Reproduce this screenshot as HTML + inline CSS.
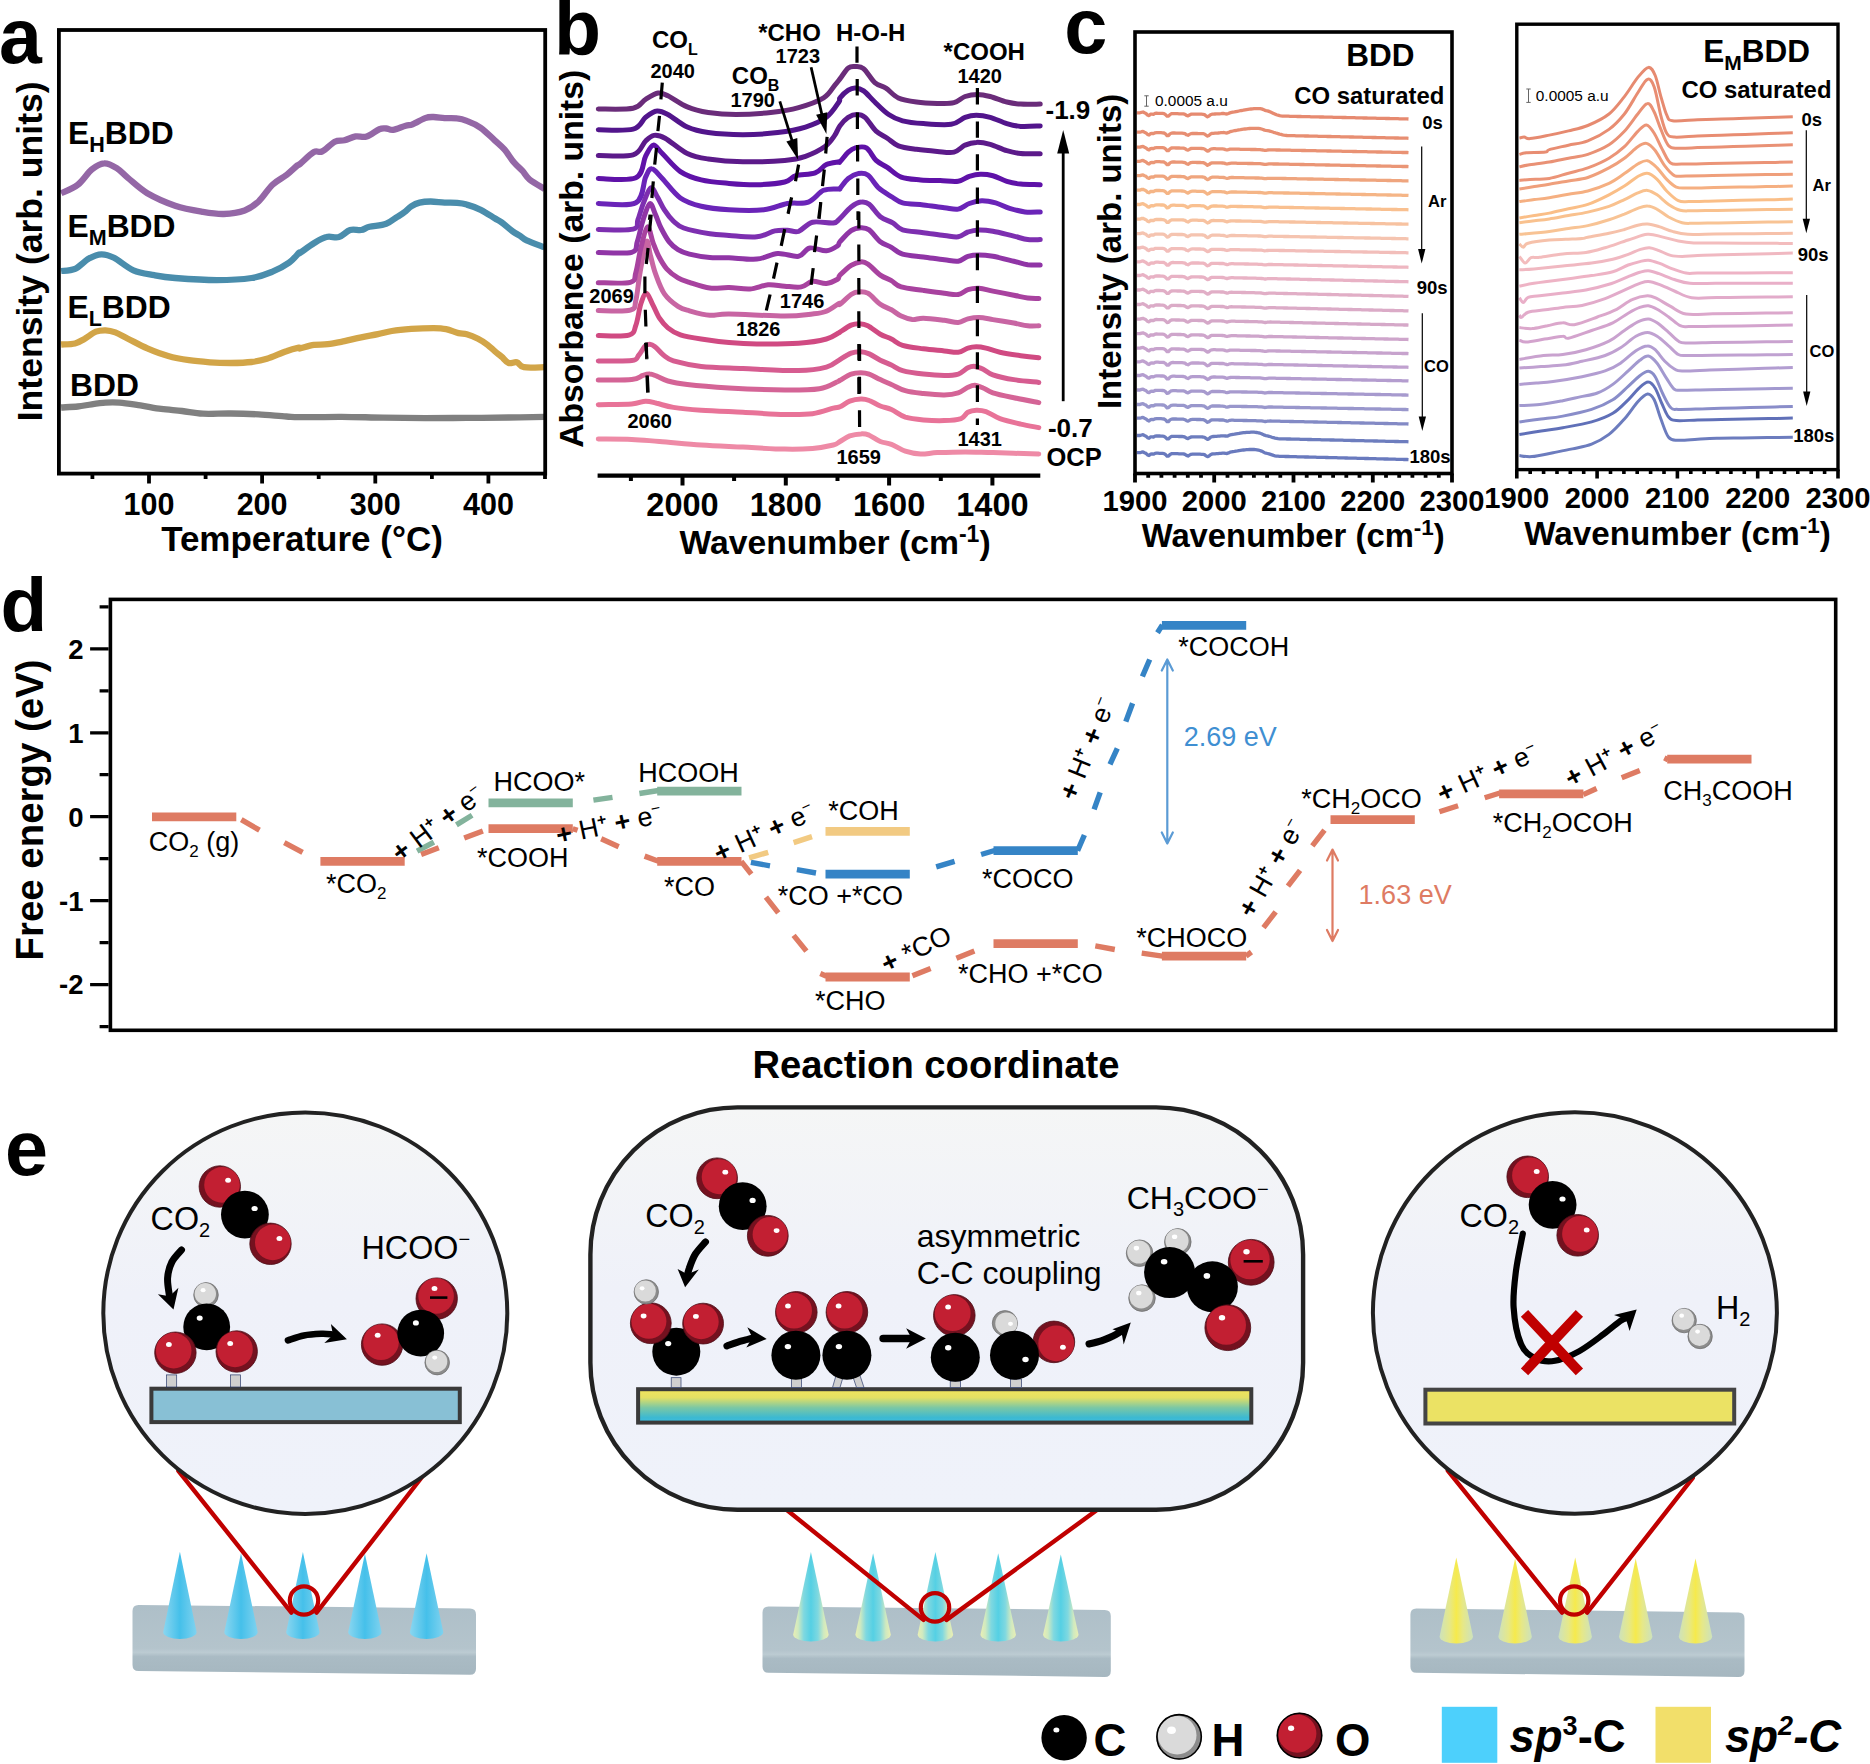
<!DOCTYPE html>
<html><head><meta charset="utf-8"><title>Figure</title>
<style>
html,body{margin:0;padding:0;background:#fff}
svg{display:block}
text{font-family:"Liberation Sans",sans-serif;fill:#000}
.b{font-weight:bold}
</style></head><body>
<svg width="1870" height="1764" viewBox="0 0 1870 1764">
<rect width="1870" height="1764" fill="#fff"/>
<g id="pa">
<path d="M61.1 193.2C63.9 191.8 72.7 188.8 77.8 184.8C82.9 180.9 87.3 173.1 91.7 169.5C96.1 165.9 100.1 163.5 104.2 163.3C108.4 163.0 112.8 165.7 116.7 168.1C120.7 170.6 122.8 173.7 127.9 177.9C133.0 182.0 139.4 188.5 147.3 193.2C155.2 197.8 165.9 202.5 175.1 205.7C184.4 208.8 194.8 210.5 202.9 211.9C211.1 213.3 216.8 214.2 223.8 214.0C230.7 213.8 238.9 212.6 244.7 210.5C250.4 208.4 253.9 205.8 258.6 201.5C263.2 197.2 267.8 189.2 272.5 184.8C277.1 180.4 282.2 178.3 286.4 175.1C290.5 171.8 295.2 167.2 297.5 165.3C299.8 163.5 297.3 166.2 300.0 164.0C302.7 161.8 310.2 154.2 313.9 152.1C317.6 150.1 318.8 153.2 322.2 151.4C325.7 149.7 331.1 143.6 334.8 141.7C338.5 139.9 341.0 141.2 344.5 140.3C348.0 139.4 351.9 137.1 355.6 136.4C359.3 135.8 362.8 137.6 366.7 136.4C370.7 135.2 376.0 130.5 379.3 129.2C382.5 127.9 383.9 128.4 386.2 128.5C388.5 128.6 389.9 130.4 393.2 129.9C396.4 129.4 402.4 126.6 405.7 125.7C408.9 124.8 409.4 125.6 412.6 124.3C415.9 123.1 421.7 119.3 425.1 118.1C428.6 116.8 430.2 117.0 433.5 117.0C436.7 117.0 440.7 117.8 444.6 118.1C448.5 118.3 453.4 117.9 457.1 118.4C460.8 118.8 462.9 119.3 466.8 120.9C470.8 122.4 476.1 124.6 480.7 127.8C485.4 131.1 490.7 136.7 494.7 140.3C498.6 143.9 501.1 145.7 504.4 149.4C507.6 153.1 511.1 159.0 514.1 162.6C517.1 166.2 519.9 168.1 522.5 170.9C525.0 173.7 525.7 176.2 529.4 179.3C533.1 182.3 542.2 187.4 544.7 189.0" fill="none" stroke="#9467a6" stroke-width="6.3" stroke-linejoin="round"/>
<path d="M61.1 271.0C63.4 270.7 70.4 271.0 75.0 268.9C79.7 266.8 84.5 260.9 88.9 258.5C93.3 256.1 97.3 254.4 101.4 254.3C105.6 254.2 108.6 255.1 114.0 257.8C119.3 260.5 126.7 267.4 133.4 270.3C140.1 273.2 147.3 273.9 154.3 275.2C161.2 276.5 164.7 277.2 175.1 278.0C185.6 278.8 204.1 280.1 216.8 280.1C229.6 280.1 242.3 279.4 251.6 278.0C260.9 276.6 266.2 274.3 272.5 271.7C278.7 269.2 284.7 265.8 289.1 262.7C293.5 259.5 297.1 254.6 298.9 252.9C300.7 251.3 297.5 254.6 300.0 252.9C302.5 251.3 309.5 245.9 313.9 243.2C318.3 240.5 322.2 238.0 326.4 237.0C330.6 235.9 335.0 238.1 338.9 237.0C342.9 235.8 346.3 231.2 350.1 230.0C353.8 228.8 357.9 230.5 361.2 230.0C364.4 229.5 365.3 227.8 369.5 226.8C373.7 225.8 381.6 225.4 386.2 223.7C390.8 222.1 394.3 218.7 397.3 216.8C400.3 214.9 402.0 214.1 404.3 212.3C406.6 210.6 408.7 208.0 411.2 206.4C413.8 204.7 416.3 203.4 419.6 202.6C422.8 201.8 426.5 201.5 430.7 201.5C434.9 201.5 440.2 202.4 444.6 202.6C449.0 202.8 453.4 202.6 457.1 202.9C460.8 203.2 462.9 203.4 466.8 204.6C470.8 205.7 476.1 207.6 480.7 209.8C485.4 212.1 491.2 216.1 494.7 218.2C498.1 220.3 498.6 220.2 501.6 222.4C504.6 224.6 509.7 229.2 512.7 231.4C515.7 233.6 517.4 234.1 519.7 235.6C522.0 237.1 522.5 238.5 526.6 240.4C530.8 242.4 541.7 246.2 544.7 247.4" fill="none" stroke="#4a8dac" stroke-width="6.3" stroke-linejoin="round"/>
<path d="M61.1 344.5C63.4 344.3 71.1 344.5 75.0 343.5C79.0 342.6 81.3 340.6 84.8 338.7C88.2 336.7 92.4 333.1 95.9 331.7C99.4 330.3 102.4 330.2 105.6 330.3C108.9 330.4 111.6 331.0 115.3 332.4C119.1 333.8 122.5 336.0 127.9 338.7C133.2 341.3 140.6 345.5 147.3 348.4C154.0 351.3 161.2 354.1 168.2 356.0C175.1 358.0 182.1 359.2 189.0 360.2C196.0 361.3 202.9 361.8 209.9 362.3C216.8 362.8 223.8 363.0 230.7 363.0C237.7 362.9 245.6 362.7 251.6 362.0C257.6 361.3 261.1 360.6 266.9 358.8C272.7 357.0 281.0 353.0 286.4 351.2C291.7 349.3 296.6 348.2 298.9 347.7C301.1 347.2 297.5 348.9 300.0 348.4C302.5 347.9 309.3 345.6 313.9 344.9C318.5 344.2 322.7 344.9 327.8 344.2C332.9 343.6 338.9 342.3 344.5 341.2C350.1 340.0 355.6 338.4 361.2 337.3C366.7 336.1 372.8 335.3 377.9 334.2C383.0 333.2 386.2 331.9 391.8 331.0C397.3 330.1 404.3 329.4 411.2 328.9C418.2 328.5 427.7 328.2 433.5 328.2C439.3 328.3 441.8 328.4 446.0 329.2C450.2 330.0 455.0 332.3 458.5 333.1C462.0 333.9 463.6 333.3 466.8 334.2C470.1 335.1 474.5 336.9 478.0 338.7C481.4 340.4 484.9 342.8 487.7 344.9C490.5 347.0 492.3 349.2 494.7 351.2C497.0 353.1 499.3 354.8 501.6 356.7C503.9 358.7 506.0 362.1 508.6 363.0C511.1 363.9 514.3 361.6 516.9 362.3C519.4 363.0 519.2 366.4 523.9 367.2C528.5 368.0 541.2 367.2 544.7 367.2" fill="none" stroke="#d2a548" stroke-width="6.3" stroke-linejoin="round"/>
<path d="M61.1 407.5C63.9 407.3 72.7 407.0 77.8 406.5C82.9 406.0 87.1 404.9 91.7 404.3C96.3 403.6 101.0 402.9 105.6 402.6C110.2 402.3 113.7 402.2 119.5 402.6C125.3 403.1 133.4 404.4 140.4 405.4C147.3 406.4 154.3 408.0 161.2 408.9C168.2 409.8 175.1 410.2 182.1 411.0C189.0 411.8 194.8 413.3 202.9 413.7C211.1 414.2 221.5 413.3 230.7 413.5C240.0 413.6 249.3 413.9 258.6 414.4C267.8 414.9 279.5 416.1 286.4 416.5C293.3 417.0 290.8 417.2 300.0 417.2C309.2 417.3 327.8 416.7 341.7 416.8C355.6 416.9 369.5 417.4 383.4 417.6C397.3 417.9 411.2 418.1 425.1 418.2C439.0 418.2 452.9 418.0 466.8 417.9C480.7 417.8 495.6 417.7 508.6 417.5C521.5 417.3 538.7 416.9 544.7 416.8" fill="none" stroke="#808080" stroke-width="6.3" stroke-linejoin="round"/>
<rect x="58.9" y="30.0" width="486.3" height="443.6" fill="none" stroke="#000" stroke-width="3.8"/>
<path d="M92.4 473.6v5.5M149.0 473.6v10.0M205.6 473.6v5.5M262.1 473.6v10.0M318.7 473.6v5.5M375.3 473.6v10.0M431.9 473.6v5.5M488.4 473.6v10.0M545.0 473.6v5.5" stroke="#000" stroke-width="3.8" fill="none"/>
<text x="149.0" y="515" class="b" font-size="30.5" text-anchor="middle">100</text>
<text x="262.1" y="515" class="b" font-size="30.5" text-anchor="middle">200</text>
<text x="375.3" y="515" class="b" font-size="30.5" text-anchor="middle">300</text>
<text x="488.4" y="515" class="b" font-size="30.5" text-anchor="middle">400</text>
<text x="302" y="550.5" class="b" font-size="35" text-anchor="middle">Temperature (°C)</text>
<text transform="translate(41.7,251.3) rotate(-90)" class="b" font-size="35.6" text-anchor="middle">Intensity (arb. units)</text>
<text x="-1" y="62.8" class="b" font-size="77">a</text>
<text x="68.0" y="143.5" class="b" font-size="31.8">E<tspan font-size="21.5" dy="8">H</tspan><tspan dy="-8">BDD</tspan></text>
<text x="67.5" y="237.0" class="b" font-size="31.8">E<tspan font-size="21.5" dy="8">M</tspan><tspan dy="-8">BDD</tspan></text>
<text x="67.5" y="318.0" class="b" font-size="31.8">E<tspan font-size="21.5" dy="8">L</tspan><tspan dy="-8">BDD</tspan></text>
<text x="70.0" y="395.7" class="b" font-size="31.8">BDD</text>
</g>
<g id="pb">
<path d="M598.3 439.0C603.9 439.1 621.5 439.0 631.7 439.4C641.9 439.8 647.9 440.6 659.5 441.5C671.1 442.4 687.3 444.0 701.2 445.0C715.1 445.9 729.0 446.4 742.9 447.1C756.8 447.8 773.1 448.9 784.7 449.1C796.2 449.4 804.3 449.1 812.5 448.4C820.6 447.8 828.7 446.1 833.3 445.0C837.9 443.8 837.3 443.0 840.0 441.5C842.7 440.0 846.3 437.2 849.7 435.9C853.2 434.7 857.6 434.0 860.9 433.9C864.1 433.7 866.0 434.0 869.2 435.2C872.4 436.5 876.6 440.0 880.3 441.5C884.0 443.0 887.3 442.7 891.4 444.3C895.6 445.9 900.5 449.6 905.3 451.2C910.2 452.9 915.3 453.8 920.6 454.0C926.0 454.2 929.9 453.0 937.3 452.6C944.7 452.3 955.9 451.9 965.1 451.9C974.4 451.9 980.7 452.3 992.9 452.6C1005.2 453.0 1031.2 453.8 1038.8 454.0" fill="none" stroke="#ee8aa6" stroke-width="5" stroke-linejoin="round" stroke-linecap="round"/>
<path d="M598.3 404.7C603.9 404.5 623.8 404.5 631.7 404.0C639.6 403.4 641.4 401.3 645.6 401.2C649.8 401.1 652.1 402.2 656.7 403.3C661.4 404.3 666.0 406.3 673.4 407.4C680.8 408.6 689.6 409.4 701.2 410.2C712.8 411.0 729.0 411.6 742.9 412.3C756.8 413.0 773.1 414.2 784.7 414.4C796.2 414.6 804.3 414.7 812.5 413.7C820.6 412.6 828.7 409.3 833.3 408.1C837.9 407.0 837.3 407.9 840.0 406.7C842.7 405.6 846.3 402.5 849.7 401.2C853.2 399.9 857.6 399.2 860.9 399.1C864.1 399.0 866.0 399.3 869.2 400.5C872.4 401.6 876.6 404.5 880.3 406.0C884.0 407.5 887.3 407.7 891.4 409.5C895.6 411.4 900.0 415.4 905.3 417.2C910.7 418.9 916.9 419.4 923.4 419.9C929.9 420.5 938.0 420.9 944.3 420.6C950.5 420.4 957.0 419.9 961.0 418.6C964.9 417.2 965.4 413.7 967.9 412.3C970.5 410.9 973.2 410.3 976.3 410.2C979.3 410.1 982.0 410.2 986.0 411.6C989.9 413.0 994.1 416.5 999.9 418.6C1005.7 420.6 1014.3 422.6 1020.7 424.1C1027.2 425.6 1035.8 427.0 1038.8 427.6" fill="none" stroke="#e87398" stroke-width="5" stroke-linejoin="round" stroke-linecap="round"/>
<path d="M598.3 380.0C603.9 380.0 624.3 380.4 631.7 379.6C639.1 378.9 639.8 376.4 642.8 375.5C645.8 374.5 647.5 373.9 649.8 374.1C652.1 374.2 653.7 375.0 656.7 376.1C659.8 377.3 662.8 379.6 667.9 381.0C673.0 382.4 677.1 383.3 687.3 384.5C697.5 385.7 712.8 387.0 729.0 388.0C745.3 388.9 769.6 389.9 784.7 390.1C799.7 390.2 810.6 390.1 819.4 388.7C828.2 387.3 834.1 383.1 837.5 381.7C840.9 380.3 837.7 381.6 840.0 380.3C842.3 379.0 847.6 375.3 851.1 374.1C854.6 372.8 857.8 372.7 860.9 372.7C863.9 372.7 866.0 372.9 869.2 374.1C872.4 375.2 876.6 377.9 880.3 379.6C884.0 381.4 887.3 382.6 891.4 384.5C895.6 386.3 900.0 389.2 905.3 390.7C910.7 392.3 916.9 392.8 923.4 393.5C929.9 394.2 938.5 395.0 944.3 394.9C950.1 394.8 954.2 394.1 958.2 392.8C962.1 391.6 965.1 388.5 967.9 387.3C970.7 386.0 972.3 385.1 974.9 385.2C977.4 385.3 980.2 386.7 983.2 388.0C986.2 389.2 987.8 391.2 992.9 392.8C998.0 394.5 1006.1 396.1 1013.8 397.7C1021.4 399.3 1034.7 401.8 1038.8 402.6" fill="none" stroke="#d46496" stroke-width="5" stroke-linejoin="round" stroke-linecap="round"/>
<path d="M598.3 360.9C603.9 360.8 625.0 361.5 631.7 360.6C638.4 359.7 636.5 357.7 638.7 355.3C640.9 352.9 643.1 348.1 644.9 346.3C646.8 344.4 648.0 344.1 649.8 344.2C651.5 344.3 653.0 345.1 655.3 347.0C657.7 348.8 660.7 353.0 663.7 355.3C666.7 357.6 667.2 359.0 673.4 360.9C679.7 362.7 689.6 365.1 701.2 366.4C712.8 367.7 726.7 367.8 742.9 368.5C759.2 369.2 784.7 370.8 798.6 370.6C812.5 370.4 819.6 368.9 826.4 367.1C833.1 365.4 836.6 361.4 838.9 360.2C841.1 358.9 838.0 360.6 840.0 359.5C842.0 358.3 847.6 354.5 851.1 353.2C854.6 351.9 857.8 351.7 860.9 351.8C863.9 351.9 866.0 352.5 869.2 353.9C872.4 355.3 876.6 358.3 880.3 360.2C884.0 362.0 887.7 363.3 891.4 365.0C895.2 366.8 897.2 369.1 902.6 370.6C907.9 372.1 916.5 373.3 923.4 374.1C930.4 374.9 938.5 375.5 944.3 375.5C950.1 375.5 954.2 375.3 958.2 374.1C962.1 372.8 965.1 369.1 967.9 367.8C970.7 366.5 972.3 366.2 974.9 366.4C977.4 366.6 980.2 367.8 983.2 369.2C986.2 370.6 987.8 373.0 992.9 374.8C998.0 376.5 1006.1 378.4 1013.8 379.6C1021.4 380.9 1034.7 381.9 1038.8 382.4" fill="none" stroke="#d65c90" stroke-width="5" stroke-linejoin="round" stroke-linecap="round"/>
<path d="M598.3 335.6C603.4 335.5 622.7 336.9 628.9 335.1C635.2 333.4 633.9 330.3 635.9 325.1C637.9 320.0 639.0 309.6 640.7 304.3C642.5 298.9 644.3 293.2 646.3 293.2C648.3 293.2 650.4 300.1 652.6 304.3C654.8 308.4 657.0 314.2 659.5 318.2C662.1 322.1 664.4 325.1 667.9 327.9C671.3 330.7 674.8 333.0 680.4 334.9C685.9 336.7 693.1 337.8 701.2 339.0C709.3 340.3 719.8 341.7 729.0 342.5C738.3 343.3 745.3 343.8 756.8 343.9C768.4 344.0 787.0 344.0 798.6 343.2C810.1 342.4 819.6 340.8 826.4 339.0C833.1 337.3 836.6 333.9 838.9 332.8C841.1 331.6 838.0 333.4 840.0 332.1C842.0 330.8 847.9 326.5 851.1 325.1C854.4 323.7 856.7 323.6 859.5 323.7C862.2 323.9 864.3 324.1 867.8 325.8C871.3 327.6 876.4 332.0 880.3 334.2C884.3 336.4 887.7 337.2 891.4 339.0C895.2 340.9 897.2 343.7 902.6 345.3C907.9 346.9 916.5 347.8 923.4 348.8C930.4 349.7 938.5 350.3 944.3 350.9C950.1 351.4 954.2 352.7 958.2 352.2C962.1 351.8 964.9 349.0 967.9 348.1C970.9 347.1 973.2 346.7 976.3 346.7C979.3 346.7 982.0 347.1 986.0 348.1C989.9 349.0 994.1 351.0 999.9 352.2C1005.7 353.5 1014.3 354.8 1020.7 355.7C1027.2 356.6 1035.8 357.5 1038.8 357.8" fill="none" stroke="#d04a82" stroke-width="5" stroke-linejoin="round" stroke-linecap="round"/>
<path d="M598.3 310.5C603.7 310.5 624.1 311.9 630.3 310.1C636.6 308.4 634.3 306.4 635.9 300.1C637.5 293.8 638.3 282.1 640.1 272.3C641.8 262.5 644.8 244.6 646.5 241.6C648.2 238.6 648.6 248.8 650.1 254.1C651.6 259.4 653.0 266.8 655.4 273.4C657.8 280.0 660.6 288.3 664.4 293.8C668.2 299.3 673.8 303.5 678.0 306.3C682.2 309.1 684.1 309.3 689.4 310.8C694.7 312.3 703.2 314.8 709.8 315.3C716.4 315.8 716.6 313.9 729.0 314.0C741.5 314.1 770.7 316.1 784.7 316.1C798.6 316.1 805.5 314.8 812.5 314.0C819.4 313.2 822.0 313.0 826.4 311.2C830.8 309.5 836.6 304.7 838.9 303.6C841.1 302.4 838.0 305.8 840.0 304.3C842.0 302.8 848.1 296.6 851.1 294.5C854.1 292.5 855.3 292.0 858.1 291.8C860.9 291.5 864.1 291.1 867.8 293.2C871.5 295.2 876.4 301.5 880.3 304.3C884.3 307.1 888.0 307.9 891.4 309.8C894.9 311.8 897.7 314.5 901.2 316.1C904.7 317.7 908.6 319.2 912.3 319.6C916.0 319.9 918.1 318.1 923.4 318.2C928.8 318.3 938.5 319.6 944.3 320.3C950.1 321.0 954.2 322.6 958.2 322.4C962.1 322.1 964.4 319.7 967.9 318.9C971.4 318.1 974.9 317.4 979.0 317.5C983.2 317.6 987.1 318.6 992.9 319.6C998.7 320.5 1008.0 322.0 1013.8 323.0C1019.6 324.1 1023.5 325.4 1027.7 325.8C1031.9 326.3 1037.0 325.8 1038.8 325.8" fill="none" stroke="#c865a3" stroke-width="5" stroke-linejoin="round" stroke-linecap="round"/>
<path d="M598.3 282.7C603.7 282.7 624.1 284.0 630.3 282.3C636.6 280.6 634.1 277.9 635.9 272.3C637.6 266.7 638.8 256.2 640.7 248.7C642.7 241.1 645.3 227.9 647.4 226.9C649.5 225.9 651.2 237.9 653.1 242.8C655.0 247.7 656.5 252.1 658.8 256.4C661.1 260.7 663.5 265.2 666.7 268.8C669.9 272.4 674.2 275.6 678.0 277.9C681.8 280.2 684.1 280.7 689.4 282.4C694.7 284.1 703.2 287.2 709.8 288.1C716.4 289.0 722.4 287.4 729.0 287.6C735.7 287.7 743.4 289.4 749.9 289.0C756.4 288.5 762.2 285.3 768.0 284.8C773.8 284.3 779.1 285.9 784.7 286.2C790.2 286.6 796.7 287.7 801.3 286.9C806.0 286.1 808.3 281.9 812.5 281.3C816.6 280.8 822.2 283.8 826.4 283.4C830.5 283.1 835.2 280.6 837.5 279.3C839.8 277.9 837.7 277.4 840.0 275.1C842.3 272.8 847.6 267.5 851.1 265.3C854.6 263.1 858.1 262.1 860.9 261.9C863.6 261.6 864.6 261.8 867.8 264.0C871.1 266.2 876.4 272.3 880.3 275.1C884.3 277.9 888.0 278.7 891.4 280.6C894.9 282.6 895.8 285.3 901.2 286.9C906.5 288.5 916.2 289.3 923.4 290.4C930.6 291.4 938.5 292.5 944.3 293.2C950.1 293.9 954.2 295.1 958.2 294.5C962.1 294.0 964.4 290.7 967.9 289.7C971.4 288.6 974.9 288.1 979.0 288.3C983.2 288.5 987.1 289.9 992.9 291.1C998.7 292.2 1008.0 294.1 1013.8 295.2C1019.6 296.4 1023.5 297.5 1027.7 298.0C1031.9 298.6 1037.0 298.4 1038.8 298.4" fill="none" stroke="#a8429f" stroke-width="5" stroke-linejoin="round" stroke-linecap="round"/>
<path d="M598.3 252.6C603.9 252.5 625.2 254.1 631.7 252.3C638.2 250.5 635.4 246.9 637.3 241.7C639.1 236.5 640.8 227.2 642.8 220.9C644.9 214.5 647.6 204.8 649.7 203.7C651.8 202.6 653.5 210.3 655.4 214.4C657.3 218.5 658.7 223.5 661.0 228.0C663.3 232.5 666.2 238.0 669.0 241.6C671.8 245.2 674.6 247.5 678.0 249.6C681.4 251.7 684.1 252.8 689.4 254.1C694.7 255.4 703.2 256.9 709.8 257.5C716.4 258.1 721.2 257.4 729.0 257.7C736.9 258.0 748.7 259.8 756.8 259.1C765.0 258.4 770.7 254.0 777.7 253.5C784.7 253.1 793.2 257.2 798.6 256.3C803.9 255.4 805.0 248.9 809.7 248.0C814.3 247.0 821.7 251.1 826.4 250.7C831.0 250.4 835.2 247.4 837.5 245.9C839.8 244.4 837.7 244.3 840.0 241.7C842.3 239.2 847.6 232.9 851.1 230.6C854.6 228.3 857.8 227.9 860.9 227.8C863.9 227.7 866.0 227.6 869.2 229.9C872.4 232.2 876.6 238.8 880.3 241.7C884.0 244.6 887.7 245.2 891.4 247.3C895.2 249.4 897.2 252.6 902.6 254.2C907.9 255.8 916.5 256.1 923.4 257.0C930.4 257.9 938.5 259.1 944.3 259.8C950.1 260.5 954.2 261.8 958.2 261.2C962.1 260.6 964.4 257.4 967.9 256.3C971.4 255.3 974.9 254.9 979.0 254.9C983.2 254.9 987.1 255.3 992.9 256.3C998.7 257.4 1008.0 259.8 1013.8 261.2C1019.6 262.6 1023.3 264.0 1027.7 264.7C1032.1 265.3 1038.1 265.0 1040.2 265.1" fill="none" stroke="#9035a6" stroke-width="5" stroke-linejoin="round" stroke-linecap="round"/>
<path d="M598.3 229.5C604.1 229.4 626.5 230.9 633.1 229.2C639.7 227.5 636.2 223.9 638.0 219.5C639.7 215.1 641.4 208.1 643.5 202.8C645.7 197.5 648.5 188.7 650.8 187.8C653.1 186.9 655.3 193.7 657.6 197.4C659.9 201.1 661.8 205.9 664.4 209.9C667.0 213.9 670.3 218.2 673.5 221.2C676.7 224.2 677.7 225.9 683.7 228.0C689.8 230.1 702.2 232.5 709.8 233.7C717.4 234.9 721.2 234.9 729.0 235.5C736.9 236.0 749.2 237.6 756.8 236.8C764.5 236.1 769.8 232.0 774.9 230.9C780.0 229.8 783.5 230.2 787.4 230.3C791.4 230.4 794.4 232.6 798.6 231.3C802.7 229.9 806.7 223.6 812.5 222.2C818.3 220.9 828.8 223.5 833.3 222.9C837.8 222.4 836.6 221.4 839.6 218.8C842.5 216.1 847.6 209.7 851.1 207.0C854.7 204.2 857.8 202.5 860.9 202.1C863.9 201.6 866.0 201.7 869.2 204.2C872.4 206.6 876.4 213.6 880.3 216.7C884.3 219.8 889.1 220.7 892.8 222.9C896.5 225.1 897.5 228.3 902.6 229.9C907.7 231.5 916.5 231.7 923.4 232.7C930.4 233.6 938.5 234.8 944.3 235.5C950.1 236.1 954.2 237.4 958.2 236.8C962.1 236.3 964.4 233.1 967.9 232.0C971.4 230.8 974.9 230.0 979.0 229.9C983.2 229.8 987.1 230.2 992.9 231.3C998.7 232.3 1008.0 234.8 1013.8 236.1C1019.6 237.5 1023.3 239.0 1027.7 239.6C1032.1 240.2 1038.1 239.6 1040.2 239.6" fill="none" stroke="#7d2fb0" stroke-width="5" stroke-linejoin="round" stroke-linecap="round"/>
<path d="M598.3 203.5C604.6 203.4 628.0 207.2 635.9 202.8C643.8 198.4 643.0 182.8 645.6 177.1C648.3 171.4 649.1 168.5 651.9 168.8C654.7 169.0 657.5 173.6 662.3 178.5C667.0 183.4 673.9 193.3 680.4 198.0C686.9 202.6 693.1 204.3 701.2 206.3C709.3 208.3 718.6 209.2 729.0 209.8C739.5 210.4 754.1 210.8 763.8 209.8C773.5 208.7 780.0 204.8 787.4 203.5C794.8 202.3 802.3 204.3 808.3 202.1C814.3 199.9 818.5 192.5 823.6 190.3C828.7 188.1 836.1 189.3 838.9 188.9C841.6 188.6 838.4 190.0 840.0 188.2C841.6 186.5 845.3 180.9 848.3 178.5C851.4 176.1 854.8 174.2 858.1 173.6C861.3 173.1 864.3 172.6 867.8 175.0C871.3 177.5 875.0 184.6 878.9 188.2C882.9 191.8 887.5 194.1 891.4 196.6C895.4 199.0 897.2 201.4 902.6 202.8C907.9 204.2 916.5 204.1 923.4 204.9C930.4 205.7 938.5 207.0 944.3 207.7C950.1 208.4 954.0 209.8 958.2 209.1C962.4 208.4 965.4 204.9 969.3 203.5C973.2 202.1 977.4 200.9 981.8 200.7C986.2 200.6 991.1 201.6 995.7 202.8C1000.4 204.1 1004.8 206.9 1009.6 208.4C1014.5 209.9 1019.8 211.3 1024.9 211.9C1030.0 212.5 1037.7 211.9 1040.2 211.9" fill="none" stroke="#6a24b8" stroke-width="5" stroke-linejoin="round" stroke-linecap="round"/>
<path d="M598.3 178.5C604.6 178.4 628.0 181.5 635.9 177.8C643.8 174.1 642.7 161.7 645.6 156.3C648.5 150.8 650.5 145.6 653.3 145.1C656.0 144.7 657.8 149.1 662.3 153.5C666.8 157.9 673.9 167.1 680.4 171.6C686.9 176.0 693.1 177.9 701.2 179.9C709.3 181.9 719.8 182.6 729.0 183.4C738.3 184.2 747.6 185.0 756.8 184.8C766.1 184.5 778.2 183.5 784.7 182.0C791.1 180.5 790.7 177.2 795.8 175.7C800.9 174.2 810.1 174.8 815.2 172.9C820.3 171.1 822.4 166.5 826.4 164.6C830.3 162.7 836.6 162.3 838.9 161.8C841.1 161.4 838.4 163.4 840.0 161.8C841.6 160.2 845.8 154.4 848.3 152.1C850.9 149.8 852.3 148.6 855.3 147.9C858.3 147.2 862.9 145.8 866.4 147.9C869.9 150.0 872.7 157.2 876.1 160.4C879.6 163.7 883.1 164.6 887.3 167.4C891.4 170.2 895.6 175.0 901.2 177.1C906.7 179.2 914.2 179.3 920.6 179.9C927.1 180.5 933.9 180.4 940.1 180.6C946.4 180.8 953.3 182.0 958.2 181.3C963.0 180.6 965.6 177.6 969.3 176.4C973.0 175.3 976.5 174.4 980.4 174.3C984.4 174.2 988.5 174.6 992.9 175.7C997.3 176.9 1002.2 179.9 1006.8 181.3C1011.5 182.7 1015.2 183.5 1020.7 184.1C1026.3 184.6 1037.0 184.6 1040.2 184.8" fill="none" stroke="#5f12a8" stroke-width="5" stroke-linejoin="round" stroke-linecap="round"/>
<path d="M598.3 155.6C604.1 155.4 625.2 157.3 633.1 154.9C641.0 152.4 642.1 144.2 645.6 141.0C649.1 137.7 650.7 135.9 654.0 135.4C657.2 134.9 659.5 135.2 665.1 138.2C670.6 141.2 680.1 150.0 687.3 153.5C694.5 157.0 698.9 157.6 708.2 159.0C717.5 160.4 730.2 161.6 742.9 161.8C755.7 162.0 774.2 161.4 784.7 160.4C795.1 159.5 798.8 158.6 805.5 156.3C812.2 153.9 820.1 150.0 825.0 146.5C829.8 143.0 832.2 138.9 834.7 135.4C837.2 131.9 837.7 128.7 840.0 125.7C842.3 122.7 845.6 119.2 848.3 117.3C851.1 115.5 853.9 114.5 856.7 114.5C859.5 114.5 861.8 114.5 865.0 117.3C868.3 120.1 872.4 127.8 876.1 131.2C879.9 134.7 883.6 135.7 887.3 138.2C891.0 140.6 893.5 144.0 898.4 145.8C903.3 147.7 910.0 148.4 916.5 149.3C923.0 150.2 931.1 150.9 937.3 151.4C943.6 151.9 949.4 153.1 954.0 152.1C958.6 151.0 961.4 146.8 965.1 145.1C968.8 143.5 972.1 142.5 976.3 142.4C980.4 142.2 985.1 143.0 990.2 144.4C995.3 145.8 1001.7 149.2 1006.8 150.7C1011.9 152.2 1015.2 153.0 1020.7 153.5C1026.3 154.0 1037.0 153.7 1040.2 153.8" fill="none" stroke="#5c1a8a" stroke-width="5" stroke-linejoin="round" stroke-linecap="round"/>
<path d="M598.3 129.8C604.1 129.7 625.2 131.2 633.1 129.1C641.0 127.1 641.7 120.3 645.6 117.3C649.6 114.3 653.0 111.5 656.7 111.1C660.4 110.6 662.8 111.9 667.9 114.5C673.0 117.2 680.6 124.0 687.3 127.1C694.0 130.1 698.9 131.3 708.2 132.6C717.5 133.9 731.4 134.7 742.9 134.7C754.5 134.7 767.3 133.9 777.7 132.6C788.1 131.3 797.4 129.6 805.5 127.1C813.6 124.5 820.8 121.5 826.4 117.3C831.9 113.2 836.6 105.3 838.9 102.0C841.1 98.8 838.4 99.8 840.0 97.9C841.6 95.9 845.8 91.8 848.3 90.2C850.9 88.6 852.7 88.0 855.3 88.1C857.8 88.2 860.4 88.6 863.6 90.9C866.9 93.2 870.6 98.1 874.8 102.0C878.9 106.0 884.0 111.4 888.7 114.5C893.3 117.7 896.8 119.3 902.6 120.8C908.4 122.3 915.3 123.0 923.4 123.6C931.5 124.2 944.3 125.3 951.2 124.3C958.2 123.2 961.0 118.8 965.1 117.3C969.3 115.8 972.1 115.2 976.3 115.2C980.4 115.2 985.1 115.9 990.2 117.3C995.3 118.7 1001.7 122.1 1006.8 123.6C1011.9 125.1 1015.2 126.0 1020.7 126.4C1026.3 126.8 1037.0 126.0 1040.2 125.9" fill="none" stroke="#52158c" stroke-width="5" stroke-linejoin="round" stroke-linecap="round"/>
<path d="M598.3 109.0C604.1 108.9 625.2 109.9 633.1 108.3C641.0 106.7 641.4 101.8 645.6 99.3C649.8 96.7 654.4 93.6 658.1 93.0C661.8 92.4 663.0 93.5 667.9 95.8C672.7 98.1 680.6 104.1 687.3 106.9C694.0 109.7 700.1 111.2 708.2 112.5C716.3 113.7 725.6 114.5 736.0 114.5C746.4 114.5 760.3 113.6 770.7 112.5C781.2 111.3 789.8 110.0 798.6 107.6C807.4 105.2 817.6 101.6 823.6 97.9C829.6 94.2 831.9 88.6 834.7 85.3C837.5 82.1 838.0 81.3 840.3 78.4C842.5 75.5 845.8 69.9 848.3 68.0C850.8 66.0 852.7 66.5 855.3 66.6C857.8 66.7 860.4 66.0 863.6 68.7C866.9 71.3 871.1 79.3 874.8 82.6C878.5 85.8 881.9 85.6 885.9 88.1C889.8 90.7 893.3 95.5 898.4 97.9C903.5 100.2 910.0 101.1 916.5 102.0C923.0 103.0 931.1 103.3 937.3 103.4C943.6 103.5 949.4 103.9 954.0 102.7C958.6 101.6 961.2 97.9 965.1 96.5C969.1 95.1 973.5 94.4 977.6 94.4C981.8 94.4 985.3 95.2 990.2 96.5C995.0 97.7 1001.7 100.8 1006.8 102.0C1011.9 103.3 1015.2 103.8 1020.7 104.1C1026.3 104.5 1037.0 104.1 1040.2 104.1" fill="none" stroke="#6a2c7a" stroke-width="5" stroke-linejoin="round" stroke-linecap="round"/>
<path d="M662.3 82.6L660.9 99.3M659.5 115.9L657.9 131.2M656.5 147.9L654.7 164.6M653.3 181.3L651.9 198.0M650.1 214.7L649.5 219.9M651.2 214.6L649.5 231.3M648.1 248.0L646.3 264.0M644.9 276.5L644.9 293.2M645.3 309.8L645.9 326.5M646.3 342.5L646.7 359.2M647.3 375.9L648.1 392.6M645.6 342.8L647.0 358.8M647.0 375.5L647.7 392.8M827.1 136.8L825.7 153.5M824.3 169.5L822.5 186.1M820.8 202.1L819.1 218.8M820.8 202.1L818.7 218.8M816.6 235.5L814.5 252.1M813.2 268.1L811.1 284.8M798.6 164.6L795.5 181.3M791.6 197.3L788.1 213.3M790.9 200.0L788.1 213.9M784.7 229.2L781.2 245.9M777.0 262.6L773.5 278.6M770.1 294.5L766.3 310.5M857.0 46.4L857.0 62.8M857.2 79.1L857.2 95.5M857.4 112.5L857.4 128.9M857.6 145.1L857.6 161.5M857.8 178.5L857.8 194.9M858.0 211.2L858.0 219.9M858.8 211.8L858.9 228.5M858.8 244.5L858.9 261.2M858.8 277.9L858.9 294.5M858.8 311.2L858.9 327.9M858.8 343.9L858.9 360.6M858.8 377.3L858.9 394.0M859.5 344.2L859.6 360.9M859.5 376.8L859.6 393.5M859.5 410.2L859.6 426.9M977.4 88.1L977.4 104.4M977.4 121.5L977.4 137.8M977.4 154.2L977.4 170.4M977.4 187.5L977.4 203.8M977.4 200.0L977.4 202.8M977.4 220.2L977.4 236.8M977.4 253.5L977.4 270.2M977.4 286.2L977.4 302.9M977.4 319.6L977.4 336.3M977.4 352.2L977.4 368.9M977.4 385.6L977.4 399.9M977.4 352.5L977.4 369.2M977.4 385.2L977.4 401.9M977.4 418.6L977.4 425.1" stroke="#000" stroke-width="3.2" fill="none"/>
<path d="M811.1 67.3L822.1 115.5" stroke="#000" stroke-width="2.8"/><path d="M826.4 134.0L816.1 114.8L827.3 112.3Z" fill="#000"/>
<path d="M779.8 101.3L792.4 141.6" stroke="#000" stroke-width="2.8"/><path d="M798.1 159.7L786.4 141.4L797.3 138.0Z" fill="#000"/>
<path d="M1063.2 401.2L1063.2 151.4" stroke="#000" stroke-width="2.8"/><path d="M1063.2 129.9L1069.2 153.4L1057.2 153.4Z" fill="#000"/>
<path d="M597.6 475.6H1040.3" stroke="#000" stroke-width="4.2"/>
<path d="M630.9 477v4.0M682.5 477v8.5M734.1 477v4.0M785.8 477v8.5M837.5 477v4.0M889.1 477v8.5M940.8 477v4.0M992.4 477v8.5" stroke="#000" stroke-width="4" fill="none"/>
<text x="682.5" y="515.5" class="b" font-size="32.5" text-anchor="middle">2000</text>
<text x="785.8" y="515.5" class="b" font-size="32.5" text-anchor="middle">1800</text>
<text x="889.1" y="515.5" class="b" font-size="32.5" text-anchor="middle">1600</text>
<text x="992.4" y="515.5" class="b" font-size="32.5" text-anchor="middle">1400</text>
<text x="835" y="554" class="b" font-size="33.7" text-anchor="middle">Wavenumber (cm<tspan font-size="23" dy="-12.5">-1</tspan><tspan dy="12.5">)</tspan></text>
<text transform="translate(582.6,258.8) rotate(-90)" class="b" font-size="33.7" text-anchor="middle">Absorbance (arb. units)</text>
<text x="554" y="54.9" class="b" font-size="77">b</text>
<text x="651.9" y="47.8" class="b" font-size="24.0" text-anchor="start">CO<tspan font-size="16" dy="7">L</tspan></text>
<text x="650.5" y="78.4" class="b" font-size="20.0" text-anchor="start">2040</text>
<text x="758.2" y="40.9" class="b" font-size="24.0" text-anchor="start">*CHO</text>
<text x="775.6" y="63.1" class="b" font-size="20.0" text-anchor="start">1723</text>
<text x="731.8" y="84.2" class="b" font-size="24.0" text-anchor="start">CO<tspan font-size="16" dy="7">B</tspan></text>
<text x="730.4" y="106.9" class="b" font-size="20.0" text-anchor="start">1790</text>
<text x="905.3" y="40.9" class="b" font-size="24.0" text-anchor="end">H-O-H</text>
<text x="943.6" y="59.6" class="b" font-size="24.0" text-anchor="start">*COOH</text>
<text x="957.5" y="82.6" class="b" font-size="20.0" text-anchor="start">1420</text>
<text x="1045.5" y="119.4" class="b" font-size="26.0" text-anchor="start">-1.9</text>
<text x="633.8" y="302.9" class="b" font-size="20.0" text-anchor="end">2069</text>
<text x="779.8" y="307.8" class="b" font-size="20.0" text-anchor="start">1746</text>
<text x="736.0" y="335.6" class="b" font-size="20.0" text-anchor="start">1826</text>
<text x="627.5" y="428.3" class="b" font-size="20.0" text-anchor="start">2060</text>
<text x="881.0" y="464.4" class="b" font-size="20.0" text-anchor="end">1659</text>
<text x="957.5" y="446.4" class="b" font-size="20.0" text-anchor="start">1431</text>
<text x="1047.9" y="437.3" class="b" font-size="26.0" text-anchor="start">-0.7</text>
<text x="1046.5" y="465.8" class="b" font-size="25.5" text-anchor="start">OCP</text>
</g>
<g id="pc">
<path d="M1137.0 112.8L1138.5 112.8L1140.0 112.8L1141.5 112.3L1143.0 112.0L1144.5 112.8L1146.0 113.5L1147.5 115.0L1149.0 115.6L1150.5 114.2L1152.0 114.1L1153.5 114.3L1155.0 113.4L1156.5 113.2L1158.0 113.3L1159.5 113.3L1161.0 113.3L1162.5 113.4L1164.0 113.6L1165.5 114.6L1167.0 116.2L1168.5 116.1L1170.0 114.6L1171.5 113.7L1173.0 113.6L1174.5 113.7L1176.0 113.7L1177.5 113.7L1179.0 113.8L1180.5 113.8L1182.0 113.8L1183.5 113.9L1185.0 114.3L1186.5 115.4L1188.0 115.9L1189.5 115.0L1191.0 114.2L1192.5 114.1L1194.0 114.1L1195.5 114.1L1197.0 114.2L1198.5 114.2L1200.0 114.2L1201.5 114.2L1203.0 114.3L1204.5 114.7L1206.0 115.8L1207.5 116.8L1209.0 116.1L1210.5 114.8L1212.0 114.2L1213.5 114.1L1215.0 114.0L1216.5 113.9L1218.0 113.9L1219.5 113.8L1221.0 113.7L1222.5 113.5L1224.0 113.5L1225.5 113.8L1227.0 114.0L1228.5 113.5L1230.0 112.8L1231.5 112.4L1233.0 112.1L1234.5 111.9L1236.0 111.6L1237.5 111.3L1239.0 111.0L1240.5 110.7L1242.0 110.5L1243.5 110.2L1245.0 109.9L1246.5 109.6L1248.0 109.4L1249.5 109.2L1251.0 109.0L1252.5 108.9L1254.0 108.7L1255.5 108.6L1257.0 108.6L1258.5 108.6L1260.0 108.6L1261.5 108.9L1263.0 109.4L1264.5 110.1L1266.0 110.6L1267.5 110.9L1269.0 111.4L1270.5 112.0L1272.0 112.7L1273.5 113.4L1275.0 114.1L1276.5 114.7L1278.0 115.2L1279.5 115.6L1281.0 115.9L1282.5 116.1L1284.0 116.1L1285.5 116.2L1287.0 116.2L1288.5 116.2L1290.0 116.3L1291.5 116.3L1293.0 116.3L1294.5 116.4L1296.0 116.4L1297.5 116.5L1299.0 116.5L1300.5 116.5L1302.0 116.6L1303.5 116.6L1305.0 116.6L1306.5 116.7L1308.0 116.7L1309.5 116.7L1311.0 116.8L1312.5 116.8L1314.0 116.8L1315.5 116.9L1317.0 116.9L1318.5 116.9L1320.0 117.0L1321.5 117.0L1323.0 117.0L1324.5 117.1L1326.0 117.1L1327.5 117.1L1329.0 117.2L1330.5 117.2L1332.0 117.2L1333.5 117.3L1335.0 117.3L1336.5 117.3L1338.0 117.4L1339.5 117.4L1341.0 117.4L1342.5 117.5L1344.0 117.5L1345.5 117.5L1347.0 117.6L1348.5 117.6L1350.0 117.6L1351.5 117.7L1353.0 117.7L1354.5 117.7L1356.0 117.8L1357.5 117.8L1359.0 117.8L1360.5 117.9L1362.0 117.9L1363.5 118.0L1365.0 118.0L1366.5 118.0L1368.0 118.1L1369.5 118.1L1371.0 118.1L1372.5 118.2L1374.0 118.2L1375.5 118.2L1377.0 118.3L1378.5 118.3L1380.0 118.3L1381.5 118.4L1383.0 118.4L1384.5 118.4L1386.0 118.5L1387.5 118.5L1389.0 118.5L1390.5 118.6L1392.0 118.6L1393.5 118.6L1395.0 118.7L1396.5 118.7L1398.0 118.7L1399.5 118.8L1401.0 118.8L1402.5 118.8L1404.0 118.9L1405.5 118.9L1407.0 118.9L1408.5 119.0" fill="none" stroke="#e68a70" stroke-width="3.3" stroke-linejoin="round"/>
<path d="M1137.0 132.2L1138.5 132.2L1140.0 132.2L1141.5 131.7L1143.0 131.4L1144.5 132.2L1146.0 132.9L1147.5 134.4L1149.0 135.0L1150.5 133.6L1152.0 133.4L1153.5 133.6L1155.0 132.8L1156.5 132.6L1158.0 132.7L1159.5 132.7L1161.0 132.7L1162.5 132.8L1164.0 133.0L1165.5 133.9L1167.0 135.6L1168.5 135.5L1170.0 133.9L1171.5 133.1L1173.0 133.0L1174.5 133.0L1176.0 133.1L1177.5 133.1L1179.0 133.1L1180.5 133.2L1182.0 133.2L1183.5 133.3L1185.0 133.7L1186.5 134.8L1188.0 135.3L1189.5 134.4L1191.0 133.6L1192.5 133.5L1194.0 133.5L1195.5 133.5L1197.0 133.5L1198.5 133.6L1200.0 133.6L1201.5 133.6L1203.0 133.6L1204.5 134.0L1206.0 135.1L1207.5 136.1L1209.0 135.4L1210.5 134.0L1212.0 133.4L1213.5 133.3L1215.0 133.2L1216.5 133.1L1218.0 133.0L1219.5 132.8L1221.0 132.7L1222.5 132.6L1224.0 132.5L1225.5 132.8L1227.0 133.0L1228.5 132.4L1230.0 131.7L1231.5 131.3L1233.0 131.0L1234.5 130.7L1236.0 130.5L1237.5 130.2L1239.0 129.9L1240.5 129.7L1242.0 129.4L1243.5 129.2L1245.0 129.0L1246.5 128.8L1248.0 128.6L1249.5 128.5L1251.0 128.4L1252.5 128.3L1254.0 128.3L1255.5 128.3L1257.0 128.3L1258.5 128.4L1260.0 128.6L1261.5 129.0L1263.0 129.5L1264.5 130.1L1266.0 130.4L1267.5 130.6L1269.0 130.9L1270.5 131.3L1272.0 131.8L1273.5 132.3L1275.0 132.7L1276.5 133.2L1278.0 133.6L1279.5 134.1L1281.0 134.4L1282.5 134.8L1284.0 135.1L1285.5 135.3L1287.0 135.5L1288.5 135.6L1290.0 135.6L1291.5 135.7L1293.0 135.7L1294.5 135.7L1296.0 135.8L1297.5 135.8L1299.0 135.8L1300.5 135.9L1302.0 135.9L1303.5 135.9L1305.0 136.0L1306.5 136.0L1308.0 136.0L1309.5 136.1L1311.0 136.1L1312.5 136.1L1314.0 136.2L1315.5 136.2L1317.0 136.2L1318.5 136.3L1320.0 136.3L1321.5 136.3L1323.0 136.4L1324.5 136.4L1326.0 136.4L1327.5 136.5L1329.0 136.5L1330.5 136.5L1332.0 136.6L1333.5 136.6L1335.0 136.6L1336.5 136.7L1338.0 136.7L1339.5 136.7L1341.0 136.8L1342.5 136.8L1344.0 136.8L1345.5 136.9L1347.0 136.9L1348.5 136.9L1350.0 137.0L1351.5 137.0L1353.0 137.0L1354.5 137.1L1356.0 137.1L1357.5 137.1L1359.0 137.2L1360.5 137.2L1362.0 137.2L1363.5 137.3L1365.0 137.3L1366.5 137.3L1368.0 137.4L1369.5 137.4L1371.0 137.4L1372.5 137.5L1374.0 137.5L1375.5 137.5L1377.0 137.6L1378.5 137.6L1380.0 137.6L1381.5 137.7L1383.0 137.7L1384.5 137.7L1386.0 137.8L1387.5 137.8L1389.0 137.8L1390.5 137.9L1392.0 137.9L1393.5 137.9L1395.0 138.0L1396.5 138.0L1398.0 138.0L1399.5 138.1L1401.0 138.1L1402.5 138.1L1404.0 138.2L1405.5 138.2L1407.0 138.2L1408.5 138.3" fill="none" stroke="#e78e72" stroke-width="3.3" stroke-linejoin="round"/>
<path d="M1137.0 147.2L1138.5 147.2L1140.0 147.2L1141.5 146.6L1143.0 146.4L1144.5 147.2L1146.0 147.9L1147.5 149.3L1149.0 149.9L1150.5 148.6L1152.0 148.4L1153.5 148.6L1155.0 147.8L1156.5 147.6L1158.0 147.6L1159.5 147.6L1161.0 147.7L1162.5 147.7L1164.0 147.9L1165.5 148.9L1167.0 150.5L1168.5 150.5L1170.0 148.9L1171.5 148.0L1173.0 147.9L1174.5 147.9L1176.0 148.0L1177.5 148.0L1179.0 148.0L1180.5 148.1L1182.0 148.1L1183.5 148.2L1185.0 148.6L1186.5 149.7L1188.0 150.2L1189.5 149.3L1191.0 148.5L1192.5 148.3L1194.0 148.3L1195.5 148.4L1197.0 148.4L1198.5 148.4L1200.0 148.4L1201.5 148.5L1203.0 148.6L1204.5 149.0L1206.0 150.1L1207.5 151.2L1209.0 150.6L1210.5 149.3L1212.0 148.8L1213.5 148.7L1215.0 148.7L1216.5 148.8L1218.0 148.8L1219.5 148.8L1221.0 148.9L1222.5 148.9L1224.0 149.1L1225.5 149.6L1227.0 150.0L1228.5 149.6L1230.0 149.2L1231.5 149.1L1233.0 149.1L1234.5 149.1L1236.0 149.2L1237.5 149.2L1239.0 149.2L1240.5 149.3L1242.0 149.3L1243.5 149.3L1245.0 149.3L1246.5 149.4L1248.0 149.4L1249.5 149.4L1251.0 149.5L1252.5 149.5L1254.0 149.5L1255.5 149.5L1257.0 149.6L1258.5 149.6L1260.0 149.6L1261.5 149.8L1263.0 150.0L1264.5 150.3L1266.0 150.3L1267.5 150.0L1269.0 149.9L1270.5 149.8L1272.0 149.9L1273.5 149.9L1275.0 149.9L1276.5 150.0L1278.0 150.0L1279.5 150.0L1281.0 150.1L1282.5 150.1L1284.0 150.1L1285.5 150.1L1287.0 150.2L1288.5 150.2L1290.0 150.2L1291.5 150.3L1293.0 150.3L1294.5 150.3L1296.0 150.3L1297.5 150.4L1299.0 150.4L1300.5 150.4L1302.0 150.5L1303.5 150.5L1305.0 150.5L1306.5 150.6L1308.0 150.6L1309.5 150.6L1311.0 150.6L1312.5 150.7L1314.0 150.7L1315.5 150.7L1317.0 150.8L1318.5 150.8L1320.0 150.8L1321.5 150.9L1323.0 150.9L1324.5 150.9L1326.0 150.9L1327.5 151.0L1329.0 151.0L1330.5 151.0L1332.0 151.1L1333.5 151.1L1335.0 151.1L1336.5 151.2L1338.0 151.2L1339.5 151.2L1341.0 151.2L1342.5 151.3L1344.0 151.3L1345.5 151.3L1347.0 151.4L1348.5 151.4L1350.0 151.4L1351.5 151.4L1353.0 151.5L1354.5 151.5L1356.0 151.5L1357.5 151.6L1359.0 151.6L1360.5 151.6L1362.0 151.7L1363.5 151.7L1365.0 151.7L1366.5 151.7L1368.0 151.8L1369.5 151.8L1371.0 151.8L1372.5 151.9L1374.0 151.9L1375.5 151.9L1377.0 152.0L1378.5 152.0L1380.0 152.0L1381.5 152.0L1383.0 152.1L1384.5 152.1L1386.0 152.1L1387.5 152.2L1389.0 152.2L1390.5 152.2L1392.0 152.3L1393.5 152.3L1395.0 152.3L1396.5 152.3L1398.0 152.4L1399.5 152.4L1401.0 152.4L1402.5 152.5L1404.0 152.5L1405.5 152.5L1407.0 152.5L1408.5 152.6" fill="none" stroke="#e99274" stroke-width="3.3" stroke-linejoin="round"/>
<path d="M1137.0 161.3L1138.5 161.3L1140.0 161.3L1141.5 160.7L1143.0 160.5L1144.5 161.3L1146.0 162.0L1147.5 163.4L1149.0 164.0L1150.5 162.7L1152.0 162.5L1153.5 162.7L1155.0 161.9L1156.5 161.7L1158.0 161.7L1159.5 161.7L1161.0 161.8L1162.5 161.8L1164.0 162.0L1165.5 163.0L1167.0 164.6L1168.5 164.5L1170.0 162.9L1171.5 162.1L1173.0 162.0L1174.5 162.0L1176.0 162.1L1177.5 162.1L1179.0 162.1L1180.5 162.1L1182.0 162.2L1183.5 162.3L1185.0 162.7L1186.5 163.7L1188.0 164.3L1189.5 163.3L1191.0 162.6L1192.5 162.4L1194.0 162.4L1195.5 162.4L1197.0 162.5L1198.5 162.5L1200.0 162.5L1201.5 162.6L1203.0 162.6L1204.5 163.1L1206.0 164.2L1207.5 165.3L1209.0 164.6L1210.5 163.4L1212.0 162.9L1213.5 162.8L1215.0 162.8L1216.5 162.8L1218.0 162.9L1219.5 162.9L1221.0 162.9L1222.5 163.0L1224.0 163.1L1225.5 163.6L1227.0 164.0L1228.5 163.7L1230.0 163.3L1231.5 163.2L1233.0 163.2L1234.5 163.2L1236.0 163.2L1237.5 163.3L1239.0 163.3L1240.5 163.3L1242.0 163.3L1243.5 163.4L1245.0 163.4L1246.5 163.4L1248.0 163.5L1249.5 163.5L1251.0 163.5L1252.5 163.5L1254.0 163.6L1255.5 163.6L1257.0 163.6L1258.5 163.7L1260.0 163.7L1261.5 163.8L1263.0 164.1L1264.5 164.4L1266.0 164.3L1267.5 164.1L1269.0 163.9L1270.5 163.9L1272.0 163.9L1273.5 164.0L1275.0 164.0L1276.5 164.0L1278.0 164.0L1279.5 164.1L1281.0 164.1L1282.5 164.1L1284.0 164.2L1285.5 164.2L1287.0 164.2L1288.5 164.2L1290.0 164.3L1291.5 164.3L1293.0 164.3L1294.5 164.4L1296.0 164.4L1297.5 164.4L1299.0 164.4L1300.5 164.5L1302.0 164.5L1303.5 164.5L1305.0 164.6L1306.5 164.6L1308.0 164.6L1309.5 164.7L1311.0 164.7L1312.5 164.7L1314.0 164.7L1315.5 164.8L1317.0 164.8L1318.5 164.8L1320.0 164.9L1321.5 164.9L1323.0 164.9L1324.5 164.9L1326.0 165.0L1327.5 165.0L1329.0 165.0L1330.5 165.1L1332.0 165.1L1333.5 165.1L1335.0 165.1L1336.5 165.2L1338.0 165.2L1339.5 165.2L1341.0 165.3L1342.5 165.3L1344.0 165.3L1345.5 165.4L1347.0 165.4L1348.5 165.4L1350.0 165.4L1351.5 165.5L1353.0 165.5L1354.5 165.5L1356.0 165.6L1357.5 165.6L1359.0 165.6L1360.5 165.6L1362.0 165.7L1363.5 165.7L1365.0 165.7L1366.5 165.8L1368.0 165.8L1369.5 165.8L1371.0 165.8L1372.5 165.9L1374.0 165.9L1375.5 165.9L1377.0 166.0L1378.5 166.0L1380.0 166.0L1381.5 166.1L1383.0 166.1L1384.5 166.1L1386.0 166.1L1387.5 166.2L1389.0 166.2L1390.5 166.2L1392.0 166.3L1393.5 166.3L1395.0 166.3L1396.5 166.3L1398.0 166.4L1399.5 166.4L1401.0 166.4L1402.5 166.5L1404.0 166.5L1405.5 166.5L1407.0 166.5L1408.5 166.6" fill="none" stroke="#ea9676" stroke-width="3.3" stroke-linejoin="round"/>
<path d="M1137.0 175.7L1138.5 175.7L1140.0 175.7L1141.5 175.1L1143.0 174.9L1144.5 175.7L1146.0 176.3L1147.5 177.8L1149.0 178.4L1150.5 177.1L1152.0 176.9L1153.5 177.1L1155.0 176.2L1156.5 176.1L1158.0 176.1L1159.5 176.1L1161.0 176.2L1162.5 176.2L1164.0 176.4L1165.5 177.3L1167.0 179.0L1168.5 178.9L1170.0 177.3L1171.5 176.5L1173.0 176.4L1174.5 176.4L1176.0 176.4L1177.5 176.5L1179.0 176.5L1180.5 176.5L1182.0 176.6L1183.5 176.6L1185.0 177.1L1186.5 178.1L1188.0 178.6L1189.5 177.7L1191.0 176.9L1192.5 176.8L1194.0 176.8L1195.5 176.8L1197.0 176.8L1198.5 176.9L1200.0 176.9L1201.5 176.9L1203.0 177.0L1204.5 177.4L1206.0 178.6L1207.5 179.6L1209.0 179.0L1210.5 177.8L1212.0 177.2L1213.5 177.2L1215.0 177.2L1216.5 177.2L1218.0 177.2L1219.5 177.3L1221.0 177.3L1222.5 177.3L1224.0 177.5L1225.5 178.0L1227.0 178.4L1228.5 178.1L1230.0 177.6L1231.5 177.5L1233.0 177.5L1234.5 177.6L1236.0 177.6L1237.5 177.6L1239.0 177.6L1240.5 177.7L1242.0 177.7L1243.5 177.7L1245.0 177.8L1246.5 177.8L1248.0 177.8L1249.5 177.8L1251.0 177.9L1252.5 177.9L1254.0 177.9L1255.5 178.0L1257.0 178.0L1258.5 178.0L1260.0 178.1L1261.5 178.2L1263.0 178.4L1264.5 178.7L1266.0 178.7L1267.5 178.4L1269.0 178.3L1270.5 178.3L1272.0 178.3L1273.5 178.3L1275.0 178.3L1276.5 178.4L1278.0 178.4L1279.5 178.4L1281.0 178.4L1282.5 178.5L1284.0 178.5L1285.5 178.5L1287.0 178.6L1288.5 178.6L1290.0 178.6L1291.5 178.6L1293.0 178.7L1294.5 178.7L1296.0 178.7L1297.5 178.8L1299.0 178.8L1300.5 178.8L1302.0 178.8L1303.5 178.9L1305.0 178.9L1306.5 178.9L1308.0 179.0L1309.5 179.0L1311.0 179.0L1312.5 179.0L1314.0 179.1L1315.5 179.1L1317.0 179.1L1318.5 179.2L1320.0 179.2L1321.5 179.2L1323.0 179.2L1324.5 179.3L1326.0 179.3L1327.5 179.3L1329.0 179.4L1330.5 179.4L1332.0 179.4L1333.5 179.4L1335.0 179.5L1336.5 179.5L1338.0 179.5L1339.5 179.6L1341.0 179.6L1342.5 179.6L1344.0 179.6L1345.5 179.7L1347.0 179.7L1348.5 179.7L1350.0 179.8L1351.5 179.8L1353.0 179.8L1354.5 179.8L1356.0 179.9L1357.5 179.9L1359.0 179.9L1360.5 180.0L1362.0 180.0L1363.5 180.0L1365.0 180.0L1366.5 180.1L1368.0 180.1L1369.5 180.1L1371.0 180.2L1372.5 180.2L1374.0 180.2L1375.5 180.2L1377.0 180.3L1378.5 180.3L1380.0 180.3L1381.5 180.4L1383.0 180.4L1384.5 180.4L1386.0 180.4L1387.5 180.5L1389.0 180.5L1390.5 180.5L1392.0 180.6L1393.5 180.6L1395.0 180.6L1396.5 180.7L1398.0 180.7L1399.5 180.7L1401.0 180.7L1402.5 180.8L1404.0 180.8L1405.5 180.8L1407.0 180.9L1408.5 180.9" fill="none" stroke="#efa57e" stroke-width="3.3" stroke-linejoin="round"/>
<path d="M1137.0 190.1L1138.5 190.1L1140.0 190.1L1141.5 189.5L1143.0 189.3L1144.5 190.1L1146.0 190.8L1147.5 192.2L1149.0 192.8L1150.5 191.5L1152.0 191.3L1153.5 191.5L1155.0 190.7L1156.5 190.5L1158.0 190.5L1159.5 190.5L1161.0 190.6L1162.5 190.6L1164.0 190.8L1165.5 191.8L1167.0 193.4L1168.5 193.3L1170.0 191.7L1171.5 190.9L1173.0 190.8L1174.5 190.8L1176.0 190.9L1177.5 190.9L1179.0 190.9L1180.5 190.9L1182.0 191.0L1183.5 191.1L1185.0 191.5L1186.5 192.5L1188.0 193.1L1189.5 192.1L1191.0 191.4L1192.5 191.2L1194.0 191.2L1195.5 191.2L1197.0 191.3L1198.5 191.3L1200.0 191.3L1201.5 191.4L1203.0 191.4L1204.5 191.9L1206.0 193.0L1207.5 194.1L1209.0 193.4L1210.5 192.2L1212.0 191.7L1213.5 191.6L1215.0 191.6L1216.5 191.6L1218.0 191.7L1219.5 191.7L1221.0 191.7L1222.5 191.8L1224.0 191.9L1225.5 192.4L1227.0 192.8L1228.5 192.5L1230.0 192.1L1231.5 192.0L1233.0 192.0L1234.5 192.0L1236.0 192.0L1237.5 192.1L1239.0 192.1L1240.5 192.1L1242.0 192.1L1243.5 192.2L1245.0 192.2L1246.5 192.2L1248.0 192.3L1249.5 192.3L1251.0 192.3L1252.5 192.3L1254.0 192.4L1255.5 192.4L1257.0 192.4L1258.5 192.5L1260.0 192.5L1261.5 192.6L1263.0 192.9L1264.5 193.2L1266.0 193.1L1267.5 192.9L1269.0 192.7L1270.5 192.7L1272.0 192.7L1273.5 192.8L1275.0 192.8L1276.5 192.8L1278.0 192.8L1279.5 192.9L1281.0 192.9L1282.5 192.9L1284.0 193.0L1285.5 193.0L1287.0 193.0L1288.5 193.0L1290.0 193.1L1291.5 193.1L1293.0 193.1L1294.5 193.2L1296.0 193.2L1297.5 193.2L1299.0 193.2L1300.5 193.3L1302.0 193.3L1303.5 193.3L1305.0 193.4L1306.5 193.4L1308.0 193.4L1309.5 193.5L1311.0 193.5L1312.5 193.5L1314.0 193.5L1315.5 193.6L1317.0 193.6L1318.5 193.6L1320.0 193.7L1321.5 193.7L1323.0 193.7L1324.5 193.7L1326.0 193.8L1327.5 193.8L1329.0 193.8L1330.5 193.9L1332.0 193.9L1333.5 193.9L1335.0 193.9L1336.5 194.0L1338.0 194.0L1339.5 194.0L1341.0 194.1L1342.5 194.1L1344.0 194.1L1345.5 194.2L1347.0 194.2L1348.5 194.2L1350.0 194.2L1351.5 194.3L1353.0 194.3L1354.5 194.3L1356.0 194.4L1357.5 194.4L1359.0 194.4L1360.5 194.4L1362.0 194.5L1363.5 194.5L1365.0 194.5L1366.5 194.6L1368.0 194.6L1369.5 194.6L1371.0 194.6L1372.5 194.7L1374.0 194.7L1375.5 194.7L1377.0 194.8L1378.5 194.8L1380.0 194.8L1381.5 194.9L1383.0 194.9L1384.5 194.9L1386.0 194.9L1387.5 195.0L1389.0 195.0L1390.5 195.0L1392.0 195.1L1393.5 195.1L1395.0 195.1L1396.5 195.1L1398.0 195.2L1399.5 195.2L1401.0 195.2L1402.5 195.3L1404.0 195.3L1405.5 195.3L1407.0 195.3L1408.5 195.4" fill="none" stroke="#f5b586" stroke-width="3.3" stroke-linejoin="round"/>
<path d="M1137.0 204.5L1138.5 204.5L1140.0 204.5L1141.5 203.9L1143.0 203.7L1144.5 204.5L1146.0 205.2L1147.5 206.6L1149.0 207.2L1150.5 205.9L1152.0 205.7L1153.5 205.9L1155.0 205.1L1156.5 204.9L1158.0 204.9L1159.5 204.9L1161.0 205.0L1162.5 205.0L1164.0 205.2L1165.5 206.2L1167.0 207.8L1168.5 207.7L1170.0 206.1L1171.5 205.3L1173.0 205.2L1174.5 205.2L1176.0 205.3L1177.5 205.3L1179.0 205.3L1180.5 205.3L1182.0 205.4L1183.5 205.5L1185.0 205.9L1186.5 206.9L1188.0 207.5L1189.5 206.5L1191.0 205.8L1192.5 205.6L1194.0 205.6L1195.5 205.6L1197.0 205.7L1198.5 205.7L1200.0 205.7L1201.5 205.8L1203.0 205.8L1204.5 206.3L1206.0 207.4L1207.5 208.5L1209.0 207.8L1210.5 206.6L1212.0 206.1L1213.5 206.0L1215.0 206.0L1216.5 206.0L1218.0 206.1L1219.5 206.1L1221.0 206.1L1222.5 206.2L1224.0 206.3L1225.5 206.8L1227.0 207.2L1228.5 206.9L1230.0 206.5L1231.5 206.4L1233.0 206.4L1234.5 206.4L1236.0 206.4L1237.5 206.5L1239.0 206.5L1240.5 206.5L1242.0 206.5L1243.5 206.6L1245.0 206.6L1246.5 206.6L1248.0 206.7L1249.5 206.7L1251.0 206.7L1252.5 206.7L1254.0 206.8L1255.5 206.8L1257.0 206.8L1258.5 206.9L1260.0 206.9L1261.5 207.0L1263.0 207.3L1264.5 207.6L1266.0 207.5L1267.5 207.3L1269.0 207.1L1270.5 207.1L1272.0 207.1L1273.5 207.2L1275.0 207.2L1276.5 207.2L1278.0 207.2L1279.5 207.3L1281.0 207.3L1282.5 207.3L1284.0 207.4L1285.5 207.4L1287.0 207.4L1288.5 207.4L1290.0 207.5L1291.5 207.5L1293.0 207.5L1294.5 207.6L1296.0 207.6L1297.5 207.6L1299.0 207.6L1300.5 207.7L1302.0 207.7L1303.5 207.7L1305.0 207.8L1306.5 207.8L1308.0 207.8L1309.5 207.9L1311.0 207.9L1312.5 207.9L1314.0 207.9L1315.5 208.0L1317.0 208.0L1318.5 208.0L1320.0 208.1L1321.5 208.1L1323.0 208.1L1324.5 208.1L1326.0 208.2L1327.5 208.2L1329.0 208.2L1330.5 208.3L1332.0 208.3L1333.5 208.3L1335.0 208.3L1336.5 208.4L1338.0 208.4L1339.5 208.4L1341.0 208.5L1342.5 208.5L1344.0 208.5L1345.5 208.6L1347.0 208.6L1348.5 208.6L1350.0 208.6L1351.5 208.7L1353.0 208.7L1354.5 208.7L1356.0 208.8L1357.5 208.8L1359.0 208.8L1360.5 208.8L1362.0 208.9L1363.5 208.9L1365.0 208.9L1366.5 209.0L1368.0 209.0L1369.5 209.0L1371.0 209.0L1372.5 209.1L1374.0 209.1L1375.5 209.1L1377.0 209.2L1378.5 209.2L1380.0 209.2L1381.5 209.3L1383.0 209.3L1384.5 209.3L1386.0 209.3L1387.5 209.4L1389.0 209.4L1390.5 209.4L1392.0 209.5L1393.5 209.5L1395.0 209.5L1396.5 209.5L1398.0 209.6L1399.5 209.6L1401.0 209.6L1402.5 209.7L1404.0 209.7L1405.5 209.7L1407.0 209.7L1408.5 209.8" fill="none" stroke="#f9c090" stroke-width="3.3" stroke-linejoin="round"/>
<path d="M1137.0 219.1L1138.5 219.1L1140.0 219.1L1141.5 218.5L1143.0 218.3L1144.5 219.1L1146.0 219.7L1147.5 221.2L1149.0 221.8L1150.5 220.5L1152.0 220.3L1153.5 220.5L1155.0 219.6L1156.5 219.5L1158.0 219.5L1159.5 219.5L1161.0 219.5L1162.5 219.6L1164.0 219.8L1165.5 220.7L1167.0 222.4L1168.5 222.3L1170.0 220.7L1171.5 219.9L1173.0 219.8L1174.5 219.8L1176.0 219.8L1177.5 219.9L1179.0 219.9L1180.5 219.9L1182.0 219.9L1183.5 220.0L1185.0 220.4L1186.5 221.5L1188.0 222.0L1189.5 221.1L1191.0 220.3L1192.5 220.2L1194.0 220.2L1195.5 220.2L1197.0 220.2L1198.5 220.3L1200.0 220.3L1201.5 220.3L1203.0 220.4L1204.5 220.8L1206.0 222.0L1207.5 223.0L1209.0 222.4L1210.5 221.1L1212.0 220.6L1213.5 220.5L1215.0 220.6L1216.5 220.6L1218.0 220.6L1219.5 220.6L1221.0 220.7L1222.5 220.7L1224.0 220.9L1225.5 221.4L1227.0 221.8L1228.5 221.4L1230.0 221.0L1231.5 220.9L1233.0 220.9L1234.5 220.9L1236.0 221.0L1237.5 221.0L1239.0 221.0L1240.5 221.0L1242.0 221.1L1243.5 221.1L1245.0 221.1L1246.5 221.1L1248.0 221.2L1249.5 221.2L1251.0 221.2L1252.5 221.3L1254.0 221.3L1255.5 221.3L1257.0 221.3L1258.5 221.4L1260.0 221.4L1261.5 221.5L1263.0 221.8L1264.5 222.1L1266.0 222.0L1267.5 221.8L1269.0 221.6L1270.5 221.6L1272.0 221.6L1273.5 221.7L1275.0 221.7L1276.5 221.7L1278.0 221.7L1279.5 221.8L1281.0 221.8L1282.5 221.8L1284.0 221.9L1285.5 221.9L1287.0 221.9L1288.5 221.9L1290.0 222.0L1291.5 222.0L1293.0 222.0L1294.5 222.0L1296.0 222.1L1297.5 222.1L1299.0 222.1L1300.5 222.2L1302.0 222.2L1303.5 222.2L1305.0 222.2L1306.5 222.3L1308.0 222.3L1309.5 222.3L1311.0 222.4L1312.5 222.4L1314.0 222.4L1315.5 222.4L1317.0 222.5L1318.5 222.5L1320.0 222.5L1321.5 222.6L1323.0 222.6L1324.5 222.6L1326.0 222.6L1327.5 222.7L1329.0 222.7L1330.5 222.7L1332.0 222.7L1333.5 222.8L1335.0 222.8L1336.5 222.8L1338.0 222.9L1339.5 222.9L1341.0 222.9L1342.5 222.9L1344.0 223.0L1345.5 223.0L1347.0 223.0L1348.5 223.1L1350.0 223.1L1351.5 223.1L1353.0 223.1L1354.5 223.2L1356.0 223.2L1357.5 223.2L1359.0 223.3L1360.5 223.3L1362.0 223.3L1363.5 223.3L1365.0 223.4L1366.5 223.4L1368.0 223.4L1369.5 223.4L1371.0 223.5L1372.5 223.5L1374.0 223.5L1375.5 223.6L1377.0 223.6L1378.5 223.6L1380.0 223.6L1381.5 223.7L1383.0 223.7L1384.5 223.7L1386.0 223.8L1387.5 223.8L1389.0 223.8L1390.5 223.8L1392.0 223.9L1393.5 223.9L1395.0 223.9L1396.5 224.0L1398.0 224.0L1399.5 224.0L1401.0 224.0L1402.5 224.1L1404.0 224.1L1405.5 224.1L1407.0 224.2L1408.5 224.2" fill="none" stroke="#f7c2a0" stroke-width="3.3" stroke-linejoin="round"/>
<path d="M1137.0 233.7L1138.5 233.7L1140.0 233.7L1141.5 233.1L1143.0 232.9L1144.5 233.7L1146.0 234.3L1147.5 235.8L1149.0 236.4L1150.5 235.1L1152.0 234.9L1153.5 235.1L1155.0 234.2L1156.5 234.1L1158.0 234.1L1159.5 234.1L1161.0 234.1L1162.5 234.2L1164.0 234.4L1165.5 235.3L1167.0 237.0L1168.5 236.9L1170.0 235.3L1171.5 234.5L1173.0 234.4L1174.5 234.4L1176.0 234.4L1177.5 234.5L1179.0 234.5L1180.5 234.5L1182.0 234.5L1183.5 234.6L1185.0 235.0L1186.5 236.1L1188.0 236.6L1189.5 235.7L1191.0 234.9L1192.5 234.8L1194.0 234.8L1195.5 234.8L1197.0 234.8L1198.5 234.9L1200.0 234.9L1201.5 234.9L1203.0 235.0L1204.5 235.4L1206.0 236.6L1207.5 237.6L1209.0 237.0L1210.5 235.7L1212.0 235.2L1213.5 235.1L1215.0 235.2L1216.5 235.2L1218.0 235.2L1219.5 235.2L1221.0 235.3L1222.5 235.3L1224.0 235.5L1225.5 236.0L1227.0 236.4L1228.5 236.0L1230.0 235.6L1231.5 235.5L1233.0 235.5L1234.5 235.5L1236.0 235.6L1237.5 235.6L1239.0 235.6L1240.5 235.6L1242.0 235.7L1243.5 235.7L1245.0 235.7L1246.5 235.7L1248.0 235.8L1249.5 235.8L1251.0 235.8L1252.5 235.9L1254.0 235.9L1255.5 235.9L1257.0 235.9L1258.5 236.0L1260.0 236.0L1261.5 236.1L1263.0 236.4L1264.5 236.7L1266.0 236.6L1267.5 236.4L1269.0 236.2L1270.5 236.2L1272.0 236.2L1273.5 236.3L1275.0 236.3L1276.5 236.3L1278.0 236.3L1279.5 236.4L1281.0 236.4L1282.5 236.4L1284.0 236.5L1285.5 236.5L1287.0 236.5L1288.5 236.5L1290.0 236.6L1291.5 236.6L1293.0 236.6L1294.5 236.6L1296.0 236.7L1297.5 236.7L1299.0 236.7L1300.5 236.8L1302.0 236.8L1303.5 236.8L1305.0 236.8L1306.5 236.9L1308.0 236.9L1309.5 236.9L1311.0 237.0L1312.5 237.0L1314.0 237.0L1315.5 237.0L1317.0 237.1L1318.5 237.1L1320.0 237.1L1321.5 237.2L1323.0 237.2L1324.5 237.2L1326.0 237.2L1327.5 237.3L1329.0 237.3L1330.5 237.3L1332.0 237.3L1333.5 237.4L1335.0 237.4L1336.5 237.4L1338.0 237.5L1339.5 237.5L1341.0 237.5L1342.5 237.5L1344.0 237.6L1345.5 237.6L1347.0 237.6L1348.5 237.7L1350.0 237.7L1351.5 237.7L1353.0 237.7L1354.5 237.8L1356.0 237.8L1357.5 237.8L1359.0 237.9L1360.5 237.9L1362.0 237.9L1363.5 237.9L1365.0 238.0L1366.5 238.0L1368.0 238.0L1369.5 238.0L1371.0 238.1L1372.5 238.1L1374.0 238.1L1375.5 238.2L1377.0 238.2L1378.5 238.2L1380.0 238.2L1381.5 238.3L1383.0 238.3L1384.5 238.3L1386.0 238.4L1387.5 238.4L1389.0 238.4L1390.5 238.4L1392.0 238.5L1393.5 238.5L1395.0 238.5L1396.5 238.6L1398.0 238.6L1399.5 238.6L1401.0 238.6L1402.5 238.7L1404.0 238.7L1405.5 238.7L1407.0 238.8L1408.5 238.8" fill="none" stroke="#f5c4b0" stroke-width="3.3" stroke-linejoin="round"/>
<path d="M1137.0 247.9L1138.5 247.9L1140.0 247.9L1141.5 247.3L1143.0 247.1L1144.5 247.9L1146.0 248.5L1147.5 250.0L1149.0 250.6L1150.5 249.3L1152.0 249.1L1153.5 249.3L1155.0 248.4L1156.5 248.3L1158.0 248.3L1159.5 248.3L1161.0 248.3L1162.5 248.4L1164.0 248.6L1165.5 249.5L1167.0 251.2L1168.5 251.1L1170.0 249.5L1171.5 248.7L1173.0 248.6L1174.5 248.6L1176.0 248.6L1177.5 248.6L1179.0 248.7L1180.5 248.7L1182.0 248.7L1183.5 248.8L1185.0 249.2L1186.5 250.3L1188.0 250.8L1189.5 249.9L1191.0 249.1L1192.5 248.9L1194.0 248.9L1195.5 249.0L1197.0 249.0L1198.5 249.0L1200.0 249.0L1201.5 249.1L1203.0 249.1L1204.5 249.6L1206.0 250.7L1207.5 251.7L1209.0 251.1L1210.5 249.9L1212.0 249.4L1213.5 249.3L1215.0 249.3L1216.5 249.3L1218.0 249.4L1219.5 249.4L1221.0 249.4L1222.5 249.5L1224.0 249.6L1225.5 250.1L1227.0 250.5L1228.5 250.2L1230.0 249.7L1231.5 249.6L1233.0 249.6L1234.5 249.7L1236.0 249.7L1237.5 249.7L1239.0 249.7L1240.5 249.8L1242.0 249.8L1243.5 249.8L1245.0 249.8L1246.5 249.9L1248.0 249.9L1249.5 249.9L1251.0 249.9L1252.5 250.0L1254.0 250.0L1255.5 250.0L1257.0 250.1L1258.5 250.1L1260.0 250.1L1261.5 250.2L1263.0 250.5L1264.5 250.8L1266.0 250.7L1267.5 250.5L1269.0 250.3L1270.5 250.3L1272.0 250.3L1273.5 250.4L1275.0 250.4L1276.5 250.4L1278.0 250.4L1279.5 250.5L1281.0 250.5L1282.5 250.5L1284.0 250.5L1285.5 250.6L1287.0 250.6L1288.5 250.6L1290.0 250.7L1291.5 250.7L1293.0 250.7L1294.5 250.7L1296.0 250.8L1297.5 250.8L1299.0 250.8L1300.5 250.8L1302.0 250.9L1303.5 250.9L1305.0 250.9L1306.5 250.9L1308.0 251.0L1309.5 251.0L1311.0 251.0L1312.5 251.1L1314.0 251.1L1315.5 251.1L1317.0 251.1L1318.5 251.2L1320.0 251.2L1321.5 251.2L1323.0 251.2L1324.5 251.3L1326.0 251.3L1327.5 251.3L1329.0 251.4L1330.5 251.4L1332.0 251.4L1333.5 251.4L1335.0 251.5L1336.5 251.5L1338.0 251.5L1339.5 251.5L1341.0 251.6L1342.5 251.6L1344.0 251.6L1345.5 251.6L1347.0 251.7L1348.5 251.7L1350.0 251.7L1351.5 251.8L1353.0 251.8L1354.5 251.8L1356.0 251.8L1357.5 251.9L1359.0 251.9L1360.5 251.9L1362.0 251.9L1363.5 252.0L1365.0 252.0L1366.5 252.0L1368.0 252.1L1369.5 252.1L1371.0 252.1L1372.5 252.1L1374.0 252.2L1375.5 252.2L1377.0 252.2L1378.5 252.2L1380.0 252.3L1381.5 252.3L1383.0 252.3L1384.5 252.3L1386.0 252.4L1387.5 252.4L1389.0 252.4L1390.5 252.5L1392.0 252.5L1393.5 252.5L1395.0 252.5L1396.5 252.6L1398.0 252.6L1399.5 252.6L1401.0 252.6L1402.5 252.7L1404.0 252.7L1405.5 252.7L1407.0 252.8L1408.5 252.8" fill="none" stroke="#f2beba" stroke-width="3.3" stroke-linejoin="round"/>
<path d="M1137.0 261.8L1138.5 261.8L1140.0 261.8L1141.5 261.2L1143.0 261.0L1144.5 261.8L1146.0 262.5L1147.5 263.9L1149.0 264.5L1150.5 263.2L1152.0 263.0L1153.5 263.2L1155.0 262.4L1156.5 262.2L1158.0 262.2L1159.5 262.3L1161.0 262.3L1162.5 262.3L1164.0 262.5L1165.5 263.5L1167.0 265.1L1168.5 265.1L1170.0 263.5L1171.5 262.6L1173.0 262.5L1174.5 262.6L1176.0 262.6L1177.5 262.6L1179.0 262.6L1180.5 262.7L1182.0 262.7L1183.5 262.8L1185.0 263.2L1186.5 264.3L1188.0 264.8L1189.5 263.9L1191.0 263.1L1192.5 262.9L1194.0 263.0L1195.5 263.0L1197.0 263.0L1198.5 263.0L1200.0 263.1L1201.5 263.1L1203.0 263.2L1204.5 263.6L1206.0 264.8L1207.5 265.8L1209.0 265.2L1210.5 263.9L1212.0 263.4L1213.5 263.4L1215.0 263.4L1216.5 263.4L1218.0 263.4L1219.5 263.5L1221.0 263.5L1222.5 263.5L1224.0 263.7L1225.5 264.2L1227.0 264.6L1228.5 264.3L1230.0 263.8L1231.5 263.7L1233.0 263.7L1234.5 263.8L1236.0 263.8L1237.5 263.8L1239.0 263.9L1240.5 263.9L1242.0 263.9L1243.5 263.9L1245.0 264.0L1246.5 264.0L1248.0 264.0L1249.5 264.1L1251.0 264.1L1252.5 264.1L1254.0 264.2L1255.5 264.2L1257.0 264.2L1258.5 264.3L1260.0 264.3L1261.5 264.4L1263.0 264.7L1264.5 264.9L1266.0 264.9L1267.5 264.7L1269.0 264.5L1270.5 264.5L1272.0 264.5L1273.5 264.6L1275.0 264.6L1276.5 264.6L1278.0 264.6L1279.5 264.7L1281.0 264.7L1282.5 264.7L1284.0 264.8L1285.5 264.8L1287.0 264.8L1288.5 264.9L1290.0 264.9L1291.5 264.9L1293.0 264.9L1294.5 265.0L1296.0 265.0L1297.5 265.0L1299.0 265.1L1300.5 265.1L1302.0 265.1L1303.5 265.2L1305.0 265.2L1306.5 265.2L1308.0 265.3L1309.5 265.3L1311.0 265.3L1312.5 265.3L1314.0 265.4L1315.5 265.4L1317.0 265.4L1318.5 265.5L1320.0 265.5L1321.5 265.5L1323.0 265.6L1324.5 265.6L1326.0 265.6L1327.5 265.6L1329.0 265.7L1330.5 265.7L1332.0 265.7L1333.5 265.8L1335.0 265.8L1336.5 265.8L1338.0 265.9L1339.5 265.9L1341.0 265.9L1342.5 265.9L1344.0 266.0L1345.5 266.0L1347.0 266.0L1348.5 266.1L1350.0 266.1L1351.5 266.1L1353.0 266.2L1354.5 266.2L1356.0 266.2L1357.5 266.2L1359.0 266.3L1360.5 266.3L1362.0 266.3L1363.5 266.4L1365.0 266.4L1366.5 266.4L1368.0 266.5L1369.5 266.5L1371.0 266.5L1372.5 266.6L1374.0 266.6L1375.5 266.6L1377.0 266.6L1378.5 266.7L1380.0 266.7L1381.5 266.7L1383.0 266.8L1384.5 266.8L1386.0 266.8L1387.5 266.9L1389.0 266.9L1390.5 266.9L1392.0 266.9L1393.5 267.0L1395.0 267.0L1396.5 267.0L1398.0 267.1L1399.5 267.1L1401.0 267.1L1402.5 267.2L1404.0 267.2L1405.5 267.2L1407.0 267.2L1408.5 267.3" fill="none" stroke="#eeb7c1" stroke-width="3.3" stroke-linejoin="round"/>
<path d="M1137.0 275.5L1138.5 275.5L1140.0 275.5L1141.5 275.0L1143.0 274.7L1144.5 275.5L1146.0 276.2L1147.5 277.7L1149.0 278.3L1150.5 276.9L1152.0 276.8L1153.5 277.0L1155.0 276.1L1156.5 276.0L1158.0 276.0L1159.5 276.0L1161.0 276.1L1162.5 276.1L1164.0 276.3L1165.5 277.3L1167.0 278.9L1168.5 278.9L1170.0 277.3L1171.5 276.4L1173.0 276.3L1174.5 276.4L1176.0 276.4L1177.5 276.4L1179.0 276.5L1180.5 276.5L1182.0 276.5L1183.5 276.6L1185.0 277.1L1186.5 278.1L1188.0 278.6L1189.5 277.7L1191.0 277.0L1192.5 276.8L1194.0 276.8L1195.5 276.9L1197.0 276.9L1198.5 276.9L1200.0 277.0L1201.5 277.0L1203.0 277.1L1204.5 277.5L1206.0 278.7L1207.5 279.7L1209.0 279.1L1210.5 277.9L1212.0 277.3L1213.5 277.3L1215.0 277.3L1216.5 277.3L1218.0 277.4L1219.5 277.4L1221.0 277.4L1222.5 277.5L1224.0 277.7L1225.5 278.2L1227.0 278.6L1228.5 278.2L1230.0 277.8L1231.5 277.7L1233.0 277.7L1234.5 277.8L1236.0 277.8L1237.5 277.8L1239.0 277.9L1240.5 277.9L1242.0 277.9L1243.5 278.0L1245.0 278.0L1246.5 278.0L1248.0 278.1L1249.5 278.1L1251.0 278.1L1252.5 278.2L1254.0 278.2L1255.5 278.2L1257.0 278.3L1258.5 278.3L1260.0 278.4L1261.5 278.5L1263.0 278.7L1264.5 279.0L1266.0 279.0L1267.5 278.7L1269.0 278.6L1270.5 278.6L1272.0 278.6L1273.5 278.7L1275.0 278.7L1276.5 278.7L1278.0 278.8L1279.5 278.8L1281.0 278.8L1282.5 278.9L1284.0 278.9L1285.5 278.9L1287.0 279.0L1288.5 279.0L1290.0 279.0L1291.5 279.1L1293.0 279.1L1294.5 279.1L1296.0 279.2L1297.5 279.2L1299.0 279.2L1300.5 279.3L1302.0 279.3L1303.5 279.3L1305.0 279.4L1306.5 279.4L1308.0 279.5L1309.5 279.5L1311.0 279.5L1312.5 279.6L1314.0 279.6L1315.5 279.6L1317.0 279.7L1318.5 279.7L1320.0 279.7L1321.5 279.8L1323.0 279.8L1324.5 279.8L1326.0 279.9L1327.5 279.9L1329.0 279.9L1330.5 280.0L1332.0 280.0L1333.5 280.0L1335.0 280.1L1336.5 280.1L1338.0 280.1L1339.5 280.2L1341.0 280.2L1342.5 280.2L1344.0 280.3L1345.5 280.3L1347.0 280.4L1348.5 280.4L1350.0 280.4L1351.5 280.5L1353.0 280.5L1354.5 280.5L1356.0 280.6L1357.5 280.6L1359.0 280.6L1360.5 280.7L1362.0 280.7L1363.5 280.7L1365.0 280.8L1366.5 280.8L1368.0 280.8L1369.5 280.9L1371.0 280.9L1372.5 280.9L1374.0 281.0L1375.5 281.0L1377.0 281.0L1378.5 281.1L1380.0 281.1L1381.5 281.2L1383.0 281.2L1384.5 281.2L1386.0 281.3L1387.5 281.3L1389.0 281.3L1390.5 281.4L1392.0 281.4L1393.5 281.4L1395.0 281.5L1396.5 281.5L1398.0 281.5L1399.5 281.6L1401.0 281.6L1402.5 281.6L1404.0 281.7L1405.5 281.7L1407.0 281.7L1408.5 281.8" fill="none" stroke="#e8b2c5" stroke-width="3.3" stroke-linejoin="round"/>
<path d="M1137.0 290.0L1138.5 290.0L1140.0 290.0L1141.5 289.5L1143.0 289.2L1144.5 290.0L1146.0 290.7L1147.5 292.2L1149.0 292.8L1150.5 291.4L1152.0 291.3L1153.5 291.5L1155.0 290.6L1156.5 290.5L1158.0 290.5L1159.5 290.5L1161.0 290.6L1162.5 290.6L1164.0 290.8L1165.5 291.8L1167.0 293.4L1168.5 293.4L1170.0 291.8L1171.5 291.0L1173.0 290.9L1174.5 290.9L1176.0 290.9L1177.5 291.0L1179.0 291.0L1180.5 291.0L1182.0 291.1L1183.5 291.1L1185.0 291.6L1186.5 292.6L1188.0 293.2L1189.5 292.3L1191.0 291.5L1192.5 291.3L1194.0 291.3L1195.5 291.4L1197.0 291.4L1198.5 291.4L1200.0 291.5L1201.5 291.5L1203.0 291.6L1204.5 292.0L1206.0 293.2L1207.5 294.2L1209.0 293.6L1210.5 292.4L1212.0 291.9L1213.5 291.8L1215.0 291.8L1216.5 291.9L1218.0 291.9L1219.5 291.9L1221.0 292.0L1222.5 292.0L1224.0 292.2L1225.5 292.7L1227.0 293.1L1228.5 292.8L1230.0 292.3L1231.5 292.2L1233.0 292.3L1234.5 292.3L1236.0 292.3L1237.5 292.4L1239.0 292.4L1240.5 292.4L1242.0 292.5L1243.5 292.5L1245.0 292.5L1246.5 292.6L1248.0 292.6L1249.5 292.6L1251.0 292.7L1252.5 292.7L1254.0 292.7L1255.5 292.8L1257.0 292.8L1258.5 292.9L1260.0 292.9L1261.5 293.0L1263.0 293.3L1264.5 293.6L1266.0 293.5L1267.5 293.3L1269.0 293.1L1270.5 293.1L1272.0 293.2L1273.5 293.2L1275.0 293.2L1276.5 293.3L1278.0 293.3L1279.5 293.3L1281.0 293.4L1282.5 293.4L1284.0 293.5L1285.5 293.5L1287.0 293.5L1288.5 293.6L1290.0 293.6L1291.5 293.6L1293.0 293.7L1294.5 293.7L1296.0 293.7L1297.5 293.8L1299.0 293.8L1300.5 293.8L1302.0 293.9L1303.5 293.9L1305.0 293.9L1306.5 294.0L1308.0 294.0L1309.5 294.0L1311.0 294.1L1312.5 294.1L1314.0 294.2L1315.5 294.2L1317.0 294.2L1318.5 294.3L1320.0 294.3L1321.5 294.3L1323.0 294.4L1324.5 294.4L1326.0 294.4L1327.5 294.5L1329.0 294.5L1330.5 294.5L1332.0 294.6L1333.5 294.6L1335.0 294.6L1336.5 294.7L1338.0 294.7L1339.5 294.8L1341.0 294.8L1342.5 294.8L1344.0 294.9L1345.5 294.9L1347.0 294.9L1348.5 295.0L1350.0 295.0L1351.5 295.0L1353.0 295.1L1354.5 295.1L1356.0 295.1L1357.5 295.2L1359.0 295.2L1360.5 295.2L1362.0 295.3L1363.5 295.3L1365.0 295.4L1366.5 295.4L1368.0 295.4L1369.5 295.5L1371.0 295.5L1372.5 295.5L1374.0 295.6L1375.5 295.6L1377.0 295.6L1378.5 295.7L1380.0 295.7L1381.5 295.7L1383.0 295.8L1384.5 295.8L1386.0 295.8L1387.5 295.9L1389.0 295.9L1390.5 296.0L1392.0 296.0L1393.5 296.0L1395.0 296.1L1396.5 296.1L1398.0 296.1L1399.5 296.2L1401.0 296.2L1402.5 296.2L1404.0 296.3L1405.5 296.3L1407.0 296.3L1408.5 296.4" fill="none" stroke="#e1aec6" stroke-width="3.3" stroke-linejoin="round"/>
<path d="M1137.0 304.5L1138.5 304.5L1140.0 304.5L1141.5 304.0L1143.0 303.7L1144.5 304.5L1146.0 305.2L1147.5 306.7L1149.0 307.3L1150.5 305.9L1152.0 305.8L1153.5 306.0L1155.0 305.1L1156.5 305.0L1158.0 305.0L1159.5 305.0L1161.0 305.1L1162.5 305.1L1164.0 305.3L1165.5 306.3L1167.0 307.9L1168.5 307.9L1170.0 306.3L1171.5 305.5L1173.0 305.4L1174.5 305.4L1176.0 305.4L1177.5 305.5L1179.0 305.5L1180.5 305.5L1182.0 305.6L1183.5 305.6L1185.0 306.1L1186.5 307.1L1188.0 307.7L1189.5 306.8L1191.0 306.0L1192.5 305.8L1194.0 305.8L1195.5 305.9L1197.0 305.9L1198.5 305.9L1200.0 306.0L1201.5 306.0L1203.0 306.1L1204.5 306.5L1206.0 307.7L1207.5 308.7L1209.0 308.1L1210.5 306.9L1212.0 306.4L1213.5 306.3L1215.0 306.3L1216.5 306.4L1218.0 306.4L1219.5 306.4L1221.0 306.5L1222.5 306.5L1224.0 306.7L1225.5 307.2L1227.0 307.6L1228.5 307.3L1230.0 306.8L1231.5 306.7L1233.0 306.8L1234.5 306.8L1236.0 306.8L1237.5 306.9L1239.0 306.9L1240.5 306.9L1242.0 307.0L1243.5 307.0L1245.0 307.0L1246.5 307.1L1248.0 307.1L1249.5 307.1L1251.0 307.2L1252.5 307.2L1254.0 307.2L1255.5 307.3L1257.0 307.3L1258.5 307.4L1260.0 307.4L1261.5 307.5L1263.0 307.8L1264.5 308.1L1266.0 308.0L1267.5 307.8L1269.0 307.6L1270.5 307.6L1272.0 307.7L1273.5 307.7L1275.0 307.7L1276.5 307.8L1278.0 307.8L1279.5 307.8L1281.0 307.9L1282.5 307.9L1284.0 308.0L1285.5 308.0L1287.0 308.0L1288.5 308.1L1290.0 308.1L1291.5 308.1L1293.0 308.2L1294.5 308.2L1296.0 308.2L1297.5 308.3L1299.0 308.3L1300.5 308.3L1302.0 308.4L1303.5 308.4L1305.0 308.4L1306.5 308.5L1308.0 308.5L1309.5 308.5L1311.0 308.6L1312.5 308.6L1314.0 308.7L1315.5 308.7L1317.0 308.7L1318.5 308.8L1320.0 308.8L1321.5 308.8L1323.0 308.9L1324.5 308.9L1326.0 308.9L1327.5 309.0L1329.0 309.0L1330.5 309.0L1332.0 309.1L1333.5 309.1L1335.0 309.1L1336.5 309.2L1338.0 309.2L1339.5 309.3L1341.0 309.3L1342.5 309.3L1344.0 309.4L1345.5 309.4L1347.0 309.4L1348.5 309.5L1350.0 309.5L1351.5 309.5L1353.0 309.6L1354.5 309.6L1356.0 309.6L1357.5 309.7L1359.0 309.7L1360.5 309.7L1362.0 309.8L1363.5 309.8L1365.0 309.9L1366.5 309.9L1368.0 309.9L1369.5 310.0L1371.0 310.0L1372.5 310.0L1374.0 310.1L1375.5 310.1L1377.0 310.1L1378.5 310.2L1380.0 310.2L1381.5 310.2L1383.0 310.3L1384.5 310.3L1386.0 310.3L1387.5 310.4L1389.0 310.4L1390.5 310.5L1392.0 310.5L1393.5 310.5L1395.0 310.6L1396.5 310.6L1398.0 310.6L1399.5 310.7L1401.0 310.7L1402.5 310.7L1404.0 310.8L1405.5 310.8L1407.0 310.8L1408.5 310.9" fill="none" stroke="#dbabc7" stroke-width="3.3" stroke-linejoin="round"/>
<path d="M1137.0 319.1L1138.5 319.1L1140.0 319.1L1141.5 318.6L1143.0 318.3L1144.5 319.1L1146.0 319.8L1147.5 321.3L1149.0 321.9L1150.5 320.5L1152.0 320.3L1153.5 320.5L1155.0 319.7L1156.5 319.5L1158.0 319.6L1159.5 319.6L1161.0 319.6L1162.5 319.7L1164.0 319.9L1165.5 320.8L1167.0 322.5L1168.5 322.4L1170.0 320.8L1171.5 320.0L1173.0 319.9L1174.5 319.9L1176.0 320.0L1177.5 320.0L1179.0 320.0L1180.5 320.1L1182.0 320.1L1183.5 320.2L1185.0 320.6L1186.5 321.7L1188.0 322.2L1189.5 321.3L1191.0 320.5L1192.5 320.3L1194.0 320.4L1195.5 320.4L1197.0 320.4L1198.5 320.5L1200.0 320.5L1201.5 320.5L1203.0 320.6L1204.5 321.0L1206.0 322.2L1207.5 323.2L1209.0 322.6L1210.5 321.4L1212.0 320.9L1213.5 320.8L1215.0 320.8L1216.5 320.8L1218.0 320.9L1219.5 320.9L1221.0 320.9L1222.5 321.0L1224.0 321.2L1225.5 321.7L1227.0 322.1L1228.5 321.7L1230.0 321.3L1231.5 321.2L1233.0 321.2L1234.5 321.2L1236.0 321.3L1237.5 321.3L1239.0 321.3L1240.5 321.4L1242.0 321.4L1243.5 321.4L1245.0 321.5L1246.5 321.5L1248.0 321.5L1249.5 321.6L1251.0 321.6L1252.5 321.6L1254.0 321.7L1255.5 321.7L1257.0 321.7L1258.5 321.8L1260.0 321.8L1261.5 321.9L1263.0 322.2L1264.5 322.5L1266.0 322.5L1267.5 322.2L1269.0 322.1L1270.5 322.0L1272.0 322.1L1273.5 322.1L1275.0 322.1L1276.5 322.2L1278.0 322.2L1279.5 322.2L1281.0 322.3L1282.5 322.3L1284.0 322.3L1285.5 322.4L1287.0 322.4L1288.5 322.4L1290.0 322.5L1291.5 322.5L1293.0 322.5L1294.5 322.6L1296.0 322.6L1297.5 322.6L1299.0 322.7L1300.5 322.7L1302.0 322.7L1303.5 322.8L1305.0 322.8L1306.5 322.8L1308.0 322.9L1309.5 322.9L1311.0 322.9L1312.5 323.0L1314.0 323.0L1315.5 323.0L1317.0 323.1L1318.5 323.1L1320.0 323.1L1321.5 323.2L1323.0 323.2L1324.5 323.2L1326.0 323.3L1327.5 323.3L1329.0 323.3L1330.5 323.4L1332.0 323.4L1333.5 323.4L1335.0 323.5L1336.5 323.5L1338.0 323.5L1339.5 323.6L1341.0 323.6L1342.5 323.6L1344.0 323.7L1345.5 323.7L1347.0 323.7L1348.5 323.8L1350.0 323.8L1351.5 323.8L1353.0 323.9L1354.5 323.9L1356.0 323.9L1357.5 324.0L1359.0 324.0L1360.5 324.0L1362.0 324.1L1363.5 324.1L1365.0 324.1L1366.5 324.2L1368.0 324.2L1369.5 324.2L1371.0 324.3L1372.5 324.3L1374.0 324.3L1375.5 324.3L1377.0 324.4L1378.5 324.4L1380.0 324.4L1381.5 324.5L1383.0 324.5L1384.5 324.5L1386.0 324.6L1387.5 324.6L1389.0 324.6L1390.5 324.7L1392.0 324.7L1393.5 324.7L1395.0 324.8L1396.5 324.8L1398.0 324.8L1399.5 324.9L1401.0 324.9L1402.5 324.9L1404.0 325.0L1405.5 325.0L1407.0 325.0L1408.5 325.1" fill="none" stroke="#d5a8c8" stroke-width="3.3" stroke-linejoin="round"/>
<path d="M1137.0 333.6L1138.5 333.6L1140.0 333.6L1141.5 333.1L1143.0 332.8L1144.5 333.6L1146.0 334.3L1147.5 335.7L1149.0 336.4L1150.5 335.0L1152.0 334.8L1153.5 335.0L1155.0 334.2L1156.5 334.0L1158.0 334.1L1159.5 334.1L1161.0 334.1L1162.5 334.2L1164.0 334.4L1165.5 335.3L1167.0 337.0L1168.5 336.9L1170.0 335.3L1171.5 334.5L1173.0 334.4L1174.5 334.4L1176.0 334.4L1177.5 334.5L1179.0 334.5L1180.5 334.5L1182.0 334.6L1183.5 334.7L1185.0 335.1L1186.5 336.2L1188.0 336.7L1189.5 335.8L1191.0 335.0L1192.5 334.8L1194.0 334.8L1195.5 334.9L1197.0 334.9L1198.5 334.9L1200.0 335.0L1201.5 335.0L1203.0 335.1L1204.5 335.5L1206.0 336.7L1207.5 337.7L1209.0 337.1L1210.5 335.9L1212.0 335.3L1213.5 335.3L1215.0 335.3L1216.5 335.3L1218.0 335.4L1219.5 335.4L1221.0 335.4L1222.5 335.5L1224.0 335.6L1225.5 336.1L1227.0 336.5L1228.5 336.2L1230.0 335.8L1231.5 335.7L1233.0 335.7L1234.5 335.7L1236.0 335.7L1237.5 335.8L1239.0 335.8L1240.5 335.8L1242.0 335.9L1243.5 335.9L1245.0 335.9L1246.5 336.0L1248.0 336.0L1249.5 336.0L1251.0 336.1L1252.5 336.1L1254.0 336.1L1255.5 336.2L1257.0 336.2L1258.5 336.2L1260.0 336.3L1261.5 336.4L1263.0 336.6L1264.5 336.9L1266.0 336.9L1267.5 336.6L1269.0 336.5L1270.5 336.5L1272.0 336.5L1273.5 336.6L1275.0 336.6L1276.5 336.6L1278.0 336.7L1279.5 336.7L1281.0 336.7L1282.5 336.7L1284.0 336.8L1285.5 336.8L1287.0 336.8L1288.5 336.9L1290.0 336.9L1291.5 336.9L1293.0 337.0L1294.5 337.0L1296.0 337.0L1297.5 337.1L1299.0 337.1L1300.5 337.1L1302.0 337.2L1303.5 337.2L1305.0 337.2L1306.5 337.3L1308.0 337.3L1309.5 337.3L1311.0 337.4L1312.5 337.4L1314.0 337.4L1315.5 337.5L1317.0 337.5L1318.5 337.5L1320.0 337.6L1321.5 337.6L1323.0 337.6L1324.5 337.7L1326.0 337.7L1327.5 337.7L1329.0 337.8L1330.5 337.8L1332.0 337.8L1333.5 337.9L1335.0 337.9L1336.5 337.9L1338.0 338.0L1339.5 338.0L1341.0 338.0L1342.5 338.0L1344.0 338.1L1345.5 338.1L1347.0 338.1L1348.5 338.2L1350.0 338.2L1351.5 338.2L1353.0 338.3L1354.5 338.3L1356.0 338.3L1357.5 338.4L1359.0 338.4L1360.5 338.4L1362.0 338.5L1363.5 338.5L1365.0 338.5L1366.5 338.6L1368.0 338.6L1369.5 338.6L1371.0 338.7L1372.5 338.7L1374.0 338.7L1375.5 338.8L1377.0 338.8L1378.5 338.8L1380.0 338.9L1381.5 338.9L1383.0 338.9L1384.5 339.0L1386.0 339.0L1387.5 339.0L1389.0 339.1L1390.5 339.1L1392.0 339.1L1393.5 339.2L1395.0 339.2L1396.5 339.2L1398.0 339.2L1399.5 339.3L1401.0 339.3L1402.5 339.3L1404.0 339.4L1405.5 339.4L1407.0 339.4L1408.5 339.5" fill="none" stroke="#cea5cb" stroke-width="3.3" stroke-linejoin="round"/>
<path d="M1137.0 348.2L1138.5 348.2L1140.0 348.2L1141.5 347.6L1143.0 347.4L1144.5 348.2L1146.0 348.9L1147.5 350.3L1149.0 350.9L1150.5 349.6L1152.0 349.4L1153.5 349.6L1155.0 348.8L1156.5 348.6L1158.0 348.6L1159.5 348.6L1161.0 348.7L1162.5 348.7L1164.0 348.9L1165.5 349.9L1167.0 351.5L1168.5 351.5L1170.0 349.9L1171.5 349.0L1173.0 348.9L1174.5 348.9L1176.0 349.0L1177.5 349.0L1179.0 349.0L1180.5 349.1L1182.0 349.1L1183.5 349.2L1185.0 349.6L1186.5 350.7L1188.0 351.2L1189.5 350.3L1191.0 349.5L1192.5 349.3L1194.0 349.3L1195.5 349.4L1197.0 349.4L1198.5 349.4L1200.0 349.4L1201.5 349.5L1203.0 349.6L1204.5 350.0L1206.0 351.1L1207.5 352.2L1209.0 351.6L1210.5 350.3L1212.0 349.8L1213.5 349.7L1215.0 349.7L1216.5 349.8L1218.0 349.8L1219.5 349.8L1221.0 349.9L1222.5 349.9L1224.0 350.1L1225.5 350.6L1227.0 351.0L1228.5 350.6L1230.0 350.2L1231.5 350.1L1233.0 350.1L1234.5 350.1L1236.0 350.2L1237.5 350.2L1239.0 350.2L1240.5 350.3L1242.0 350.3L1243.5 350.3L1245.0 350.3L1246.5 350.4L1248.0 350.4L1249.5 350.4L1251.0 350.5L1252.5 350.5L1254.0 350.5L1255.5 350.5L1257.0 350.6L1258.5 350.6L1260.0 350.6L1261.5 350.8L1263.0 351.0L1264.5 351.3L1266.0 351.3L1267.5 351.0L1269.0 350.9L1270.5 350.8L1272.0 350.9L1273.5 350.9L1275.0 350.9L1276.5 351.0L1278.0 351.0L1279.5 351.0L1281.0 351.1L1282.5 351.1L1284.0 351.1L1285.5 351.1L1287.0 351.2L1288.5 351.2L1290.0 351.2L1291.5 351.3L1293.0 351.3L1294.5 351.3L1296.0 351.3L1297.5 351.4L1299.0 351.4L1300.5 351.4L1302.0 351.5L1303.5 351.5L1305.0 351.5L1306.5 351.6L1308.0 351.6L1309.5 351.6L1311.0 351.6L1312.5 351.7L1314.0 351.7L1315.5 351.7L1317.0 351.8L1318.5 351.8L1320.0 351.8L1321.5 351.9L1323.0 351.9L1324.5 351.9L1326.0 351.9L1327.5 352.0L1329.0 352.0L1330.5 352.0L1332.0 352.1L1333.5 352.1L1335.0 352.1L1336.5 352.2L1338.0 352.2L1339.5 352.2L1341.0 352.2L1342.5 352.3L1344.0 352.3L1345.5 352.3L1347.0 352.4L1348.5 352.4L1350.0 352.4L1351.5 352.4L1353.0 352.5L1354.5 352.5L1356.0 352.5L1357.5 352.6L1359.0 352.6L1360.5 352.6L1362.0 352.7L1363.5 352.7L1365.0 352.7L1366.5 352.7L1368.0 352.8L1369.5 352.8L1371.0 352.8L1372.5 352.9L1374.0 352.9L1375.5 352.9L1377.0 353.0L1378.5 353.0L1380.0 353.0L1381.5 353.0L1383.0 353.1L1384.5 353.1L1386.0 353.1L1387.5 353.2L1389.0 353.2L1390.5 353.2L1392.0 353.3L1393.5 353.3L1395.0 353.3L1396.5 353.3L1398.0 353.4L1399.5 353.4L1401.0 353.4L1402.5 353.5L1404.0 353.5L1405.5 353.5L1407.0 353.5L1408.5 353.6" fill="none" stroke="#c7a3cd" stroke-width="3.3" stroke-linejoin="round"/>
<path d="M1137.0 361.8L1138.5 361.8L1140.0 361.8L1141.5 361.2L1143.0 361.0L1144.5 361.8L1146.0 362.5L1147.5 363.9L1149.0 364.5L1150.5 363.2L1152.0 363.0L1153.5 363.2L1155.0 362.4L1156.5 362.2L1158.0 362.2L1159.5 362.3L1161.0 362.3L1162.5 362.3L1164.0 362.5L1165.5 363.5L1167.0 365.1L1168.5 365.1L1170.0 363.5L1171.5 362.6L1173.0 362.5L1174.5 362.6L1176.0 362.6L1177.5 362.6L1179.0 362.6L1180.5 362.7L1182.0 362.7L1183.5 362.8L1185.0 363.2L1186.5 364.3L1188.0 364.8L1189.5 363.9L1191.0 363.1L1192.5 362.9L1194.0 363.0L1195.5 363.0L1197.0 363.0L1198.5 363.0L1200.0 363.1L1201.5 363.1L1203.0 363.2L1204.5 363.6L1206.0 364.8L1207.5 365.8L1209.0 365.2L1210.5 363.9L1212.0 363.4L1213.5 363.4L1215.0 363.4L1216.5 363.4L1218.0 363.4L1219.5 363.5L1221.0 363.5L1222.5 363.5L1224.0 363.7L1225.5 364.2L1227.0 364.6L1228.5 364.3L1230.0 363.8L1231.5 363.7L1233.0 363.7L1234.5 363.8L1236.0 363.8L1237.5 363.8L1239.0 363.9L1240.5 363.9L1242.0 363.9L1243.5 363.9L1245.0 364.0L1246.5 364.0L1248.0 364.0L1249.5 364.1L1251.0 364.1L1252.5 364.1L1254.0 364.2L1255.5 364.2L1257.0 364.2L1258.5 364.3L1260.0 364.3L1261.5 364.4L1263.0 364.7L1264.5 364.9L1266.0 364.9L1267.5 364.7L1269.0 364.5L1270.5 364.5L1272.0 364.5L1273.5 364.6L1275.0 364.6L1276.5 364.6L1278.0 364.6L1279.5 364.7L1281.0 364.7L1282.5 364.7L1284.0 364.8L1285.5 364.8L1287.0 364.8L1288.5 364.9L1290.0 364.9L1291.5 364.9L1293.0 364.9L1294.5 365.0L1296.0 365.0L1297.5 365.0L1299.0 365.1L1300.5 365.1L1302.0 365.1L1303.5 365.2L1305.0 365.2L1306.5 365.2L1308.0 365.3L1309.5 365.3L1311.0 365.3L1312.5 365.3L1314.0 365.4L1315.5 365.4L1317.0 365.4L1318.5 365.5L1320.0 365.5L1321.5 365.5L1323.0 365.6L1324.5 365.6L1326.0 365.6L1327.5 365.6L1329.0 365.7L1330.5 365.7L1332.0 365.7L1333.5 365.8L1335.0 365.8L1336.5 365.8L1338.0 365.9L1339.5 365.9L1341.0 365.9L1342.5 365.9L1344.0 366.0L1345.5 366.0L1347.0 366.0L1348.5 366.1L1350.0 366.1L1351.5 366.1L1353.0 366.2L1354.5 366.2L1356.0 366.2L1357.5 366.2L1359.0 366.3L1360.5 366.3L1362.0 366.3L1363.5 366.4L1365.0 366.4L1366.5 366.4L1368.0 366.5L1369.5 366.5L1371.0 366.5L1372.5 366.6L1374.0 366.6L1375.5 366.6L1377.0 366.6L1378.5 366.7L1380.0 366.7L1381.5 366.7L1383.0 366.8L1384.5 366.8L1386.0 366.8L1387.5 366.9L1389.0 366.9L1390.5 366.9L1392.0 366.9L1393.5 367.0L1395.0 367.0L1396.5 367.0L1398.0 367.1L1399.5 367.1L1401.0 367.1L1402.5 367.2L1404.0 367.2L1405.5 367.2L1407.0 367.2L1408.5 367.3" fill="none" stroke="#c0a1cf" stroke-width="3.3" stroke-linejoin="round"/>
<path d="M1137.0 375.5L1138.5 375.5L1140.0 375.5L1141.5 374.9L1143.0 374.7L1144.5 375.5L1146.0 376.2L1147.5 377.6L1149.0 378.2L1150.5 376.9L1152.0 376.7L1153.5 376.9L1155.0 376.1L1156.5 375.9L1158.0 375.9L1159.5 375.9L1161.0 376.0L1162.5 376.0L1164.0 376.2L1165.5 377.2L1167.0 378.8L1168.5 378.8L1170.0 377.2L1171.5 376.3L1173.0 376.2L1174.5 376.2L1176.0 376.3L1177.5 376.3L1179.0 376.3L1180.5 376.4L1182.0 376.4L1183.5 376.5L1185.0 376.9L1186.5 378.0L1188.0 378.5L1189.5 377.6L1191.0 376.8L1192.5 376.6L1194.0 376.6L1195.5 376.7L1197.0 376.7L1198.5 376.7L1200.0 376.7L1201.5 376.8L1203.0 376.9L1204.5 377.3L1206.0 378.4L1207.5 379.5L1209.0 378.9L1210.5 377.6L1212.0 377.1L1213.5 377.0L1215.0 377.0L1216.5 377.1L1218.0 377.1L1219.5 377.1L1221.0 377.2L1222.5 377.2L1224.0 377.4L1225.5 377.9L1227.0 378.3L1228.5 377.9L1230.0 377.5L1231.5 377.4L1233.0 377.4L1234.5 377.4L1236.0 377.5L1237.5 377.5L1239.0 377.5L1240.5 377.6L1242.0 377.6L1243.5 377.6L1245.0 377.6L1246.5 377.7L1248.0 377.7L1249.5 377.7L1251.0 377.8L1252.5 377.8L1254.0 377.8L1255.5 377.8L1257.0 377.9L1258.5 377.9L1260.0 377.9L1261.5 378.1L1263.0 378.3L1264.5 378.6L1266.0 378.6L1267.5 378.3L1269.0 378.2L1270.5 378.1L1272.0 378.2L1273.5 378.2L1275.0 378.2L1276.5 378.3L1278.0 378.3L1279.5 378.3L1281.0 378.4L1282.5 378.4L1284.0 378.4L1285.5 378.4L1287.0 378.5L1288.5 378.5L1290.0 378.5L1291.5 378.6L1293.0 378.6L1294.5 378.6L1296.0 378.6L1297.5 378.7L1299.0 378.7L1300.5 378.7L1302.0 378.8L1303.5 378.8L1305.0 378.8L1306.5 378.9L1308.0 378.9L1309.5 378.9L1311.0 378.9L1312.5 379.0L1314.0 379.0L1315.5 379.0L1317.0 379.1L1318.5 379.1L1320.0 379.1L1321.5 379.2L1323.0 379.2L1324.5 379.2L1326.0 379.2L1327.5 379.3L1329.0 379.3L1330.5 379.3L1332.0 379.4L1333.5 379.4L1335.0 379.4L1336.5 379.5L1338.0 379.5L1339.5 379.5L1341.0 379.5L1342.5 379.6L1344.0 379.6L1345.5 379.6L1347.0 379.7L1348.5 379.7L1350.0 379.7L1351.5 379.7L1353.0 379.8L1354.5 379.8L1356.0 379.8L1357.5 379.9L1359.0 379.9L1360.5 379.9L1362.0 380.0L1363.5 380.0L1365.0 380.0L1366.5 380.0L1368.0 380.1L1369.5 380.1L1371.0 380.1L1372.5 380.2L1374.0 380.2L1375.5 380.2L1377.0 380.3L1378.5 380.3L1380.0 380.3L1381.5 380.3L1383.0 380.4L1384.5 380.4L1386.0 380.4L1387.5 380.5L1389.0 380.5L1390.5 380.5L1392.0 380.6L1393.5 380.6L1395.0 380.6L1396.5 380.6L1398.0 380.7L1399.5 380.7L1401.0 380.7L1402.5 380.8L1404.0 380.8L1405.5 380.8L1407.0 380.8L1408.5 380.9" fill="none" stroke="#b49dcf" stroke-width="3.3" stroke-linejoin="round"/>
<path d="M1137.0 390.0L1138.5 390.0L1140.0 390.0L1141.5 389.4L1143.0 389.2L1144.5 390.0L1146.0 390.6L1147.5 392.1L1149.0 392.7L1150.5 391.4L1152.0 391.2L1153.5 391.4L1155.0 390.5L1156.5 390.4L1158.0 390.4L1159.5 390.4L1161.0 390.4L1162.5 390.5L1164.0 390.7L1165.5 391.6L1167.0 393.3L1168.5 393.2L1170.0 391.6L1171.5 390.8L1173.0 390.7L1174.5 390.7L1176.0 390.7L1177.5 390.8L1179.0 390.8L1180.5 390.8L1182.0 390.8L1183.5 390.9L1185.0 391.3L1186.5 392.4L1188.0 392.9L1189.5 392.0L1191.0 391.2L1192.5 391.1L1194.0 391.1L1195.5 391.1L1197.0 391.1L1198.5 391.2L1200.0 391.2L1201.5 391.2L1203.0 391.3L1204.5 391.7L1206.0 392.9L1207.5 393.9L1209.0 393.3L1210.5 392.0L1212.0 391.5L1213.5 391.4L1215.0 391.5L1216.5 391.5L1218.0 391.5L1219.5 391.5L1221.0 391.6L1222.5 391.6L1224.0 391.8L1225.5 392.3L1227.0 392.7L1228.5 392.3L1230.0 391.9L1231.5 391.8L1233.0 391.8L1234.5 391.8L1236.0 391.9L1237.5 391.9L1239.0 391.9L1240.5 391.9L1242.0 392.0L1243.5 392.0L1245.0 392.0L1246.5 392.0L1248.0 392.1L1249.5 392.1L1251.0 392.1L1252.5 392.2L1254.0 392.2L1255.5 392.2L1257.0 392.2L1258.5 392.3L1260.0 392.3L1261.5 392.4L1263.0 392.7L1264.5 393.0L1266.0 392.9L1267.5 392.7L1269.0 392.5L1270.5 392.5L1272.0 392.5L1273.5 392.6L1275.0 392.6L1276.5 392.6L1278.0 392.6L1279.5 392.7L1281.0 392.7L1282.5 392.7L1284.0 392.8L1285.5 392.8L1287.0 392.8L1288.5 392.8L1290.0 392.9L1291.5 392.9L1293.0 392.9L1294.5 392.9L1296.0 393.0L1297.5 393.0L1299.0 393.0L1300.5 393.1L1302.0 393.1L1303.5 393.1L1305.0 393.1L1306.5 393.2L1308.0 393.2L1309.5 393.2L1311.0 393.3L1312.5 393.3L1314.0 393.3L1315.5 393.3L1317.0 393.4L1318.5 393.4L1320.0 393.4L1321.5 393.5L1323.0 393.5L1324.5 393.5L1326.0 393.5L1327.5 393.6L1329.0 393.6L1330.5 393.6L1332.0 393.6L1333.5 393.7L1335.0 393.7L1336.5 393.7L1338.0 393.8L1339.5 393.8L1341.0 393.8L1342.5 393.8L1344.0 393.9L1345.5 393.9L1347.0 393.9L1348.5 394.0L1350.0 394.0L1351.5 394.0L1353.0 394.0L1354.5 394.1L1356.0 394.1L1357.5 394.1L1359.0 394.2L1360.5 394.2L1362.0 394.2L1363.5 394.2L1365.0 394.3L1366.5 394.3L1368.0 394.3L1369.5 394.3L1371.0 394.4L1372.5 394.4L1374.0 394.4L1375.5 394.5L1377.0 394.5L1378.5 394.5L1380.0 394.5L1381.5 394.6L1383.0 394.6L1384.5 394.6L1386.0 394.7L1387.5 394.7L1389.0 394.7L1390.5 394.7L1392.0 394.8L1393.5 394.8L1395.0 394.8L1396.5 394.9L1398.0 394.9L1399.5 394.9L1401.0 394.9L1402.5 395.0L1404.0 395.0L1405.5 395.0L1407.0 395.1L1408.5 395.1" fill="none" stroke="#a79ace" stroke-width="3.3" stroke-linejoin="round"/>
<path d="M1137.0 404.5L1138.5 404.5L1140.0 404.5L1141.5 403.9L1143.0 403.7L1144.5 404.5L1146.0 405.1L1147.5 406.6L1149.0 407.2L1150.5 405.9L1152.0 405.7L1153.5 405.9L1155.0 405.0L1156.5 404.9L1158.0 404.9L1159.5 404.9L1161.0 404.9L1162.5 405.0L1164.0 405.2L1165.5 406.1L1167.0 407.8L1168.5 407.7L1170.0 406.1L1171.5 405.3L1173.0 405.2L1174.5 405.2L1176.0 405.2L1177.5 405.3L1179.0 405.3L1180.5 405.3L1182.0 405.3L1183.5 405.4L1185.0 405.8L1186.5 406.9L1188.0 407.4L1189.5 406.5L1191.0 405.7L1192.5 405.6L1194.0 405.6L1195.5 405.6L1197.0 405.6L1198.5 405.7L1200.0 405.7L1201.5 405.7L1203.0 405.8L1204.5 406.2L1206.0 407.4L1207.5 408.4L1209.0 407.8L1210.5 406.5L1212.0 406.0L1213.5 405.9L1215.0 406.0L1216.5 406.0L1218.0 406.0L1219.5 406.0L1221.0 406.1L1222.5 406.1L1224.0 406.3L1225.5 406.8L1227.0 407.2L1228.5 406.8L1230.0 406.4L1231.5 406.3L1233.0 406.3L1234.5 406.3L1236.0 406.4L1237.5 406.4L1239.0 406.4L1240.5 406.4L1242.0 406.5L1243.5 406.5L1245.0 406.5L1246.5 406.5L1248.0 406.6L1249.5 406.6L1251.0 406.6L1252.5 406.7L1254.0 406.7L1255.5 406.7L1257.0 406.7L1258.5 406.8L1260.0 406.8L1261.5 406.9L1263.0 407.2L1264.5 407.5L1266.0 407.4L1267.5 407.2L1269.0 407.0L1270.5 407.0L1272.0 407.0L1273.5 407.1L1275.0 407.1L1276.5 407.1L1278.0 407.1L1279.5 407.2L1281.0 407.2L1282.5 407.2L1284.0 407.3L1285.5 407.3L1287.0 407.3L1288.5 407.3L1290.0 407.4L1291.5 407.4L1293.0 407.4L1294.5 407.4L1296.0 407.5L1297.5 407.5L1299.0 407.5L1300.5 407.6L1302.0 407.6L1303.5 407.6L1305.0 407.6L1306.5 407.7L1308.0 407.7L1309.5 407.7L1311.0 407.8L1312.5 407.8L1314.0 407.8L1315.5 407.8L1317.0 407.9L1318.5 407.9L1320.0 407.9L1321.5 408.0L1323.0 408.0L1324.5 408.0L1326.0 408.0L1327.5 408.1L1329.0 408.1L1330.5 408.1L1332.0 408.1L1333.5 408.2L1335.0 408.2L1336.5 408.2L1338.0 408.3L1339.5 408.3L1341.0 408.3L1342.5 408.3L1344.0 408.4L1345.5 408.4L1347.0 408.4L1348.5 408.5L1350.0 408.5L1351.5 408.5L1353.0 408.5L1354.5 408.6L1356.0 408.6L1357.5 408.6L1359.0 408.7L1360.5 408.7L1362.0 408.7L1363.5 408.7L1365.0 408.8L1366.5 408.8L1368.0 408.8L1369.5 408.8L1371.0 408.9L1372.5 408.9L1374.0 408.9L1375.5 409.0L1377.0 409.0L1378.5 409.0L1380.0 409.0L1381.5 409.1L1383.0 409.1L1384.5 409.1L1386.0 409.2L1387.5 409.2L1389.0 409.2L1390.5 409.2L1392.0 409.3L1393.5 409.3L1395.0 409.3L1396.5 409.4L1398.0 409.4L1399.5 409.4L1401.0 409.4L1402.5 409.5L1404.0 409.5L1405.5 409.5L1407.0 409.6L1408.5 409.6" fill="none" stroke="#9997cc" stroke-width="3.3" stroke-linejoin="round"/>
<path d="M1137.0 418.2L1138.5 418.2L1140.0 418.2L1141.5 417.7L1143.0 417.4L1144.5 418.2L1146.0 418.9L1147.5 420.3L1149.0 421.0L1150.5 419.6L1152.0 419.4L1153.5 419.6L1155.0 418.8L1156.5 418.6L1158.0 418.6L1159.5 418.7L1161.0 418.7L1162.5 418.8L1164.0 419.0L1165.5 419.9L1167.0 421.5L1168.5 421.5L1170.0 419.9L1171.5 419.1L1173.0 419.0L1174.5 419.0L1176.0 419.0L1177.5 419.1L1179.0 419.1L1180.5 419.1L1182.0 419.2L1183.5 419.2L1185.0 419.7L1186.5 420.7L1188.0 421.2L1189.5 420.3L1191.0 419.6L1192.5 419.4L1194.0 419.4L1195.5 419.4L1197.0 419.5L1198.5 419.5L1200.0 419.5L1201.5 419.6L1203.0 419.7L1204.5 420.1L1206.0 421.2L1207.5 422.3L1209.0 421.7L1210.5 420.4L1212.0 419.9L1213.5 419.8L1215.0 419.9L1216.5 419.9L1218.0 419.9L1219.5 420.0L1221.0 420.0L1222.5 420.0L1224.0 420.2L1225.5 420.7L1227.0 421.1L1228.5 420.8L1230.0 420.3L1231.5 420.2L1233.0 420.2L1234.5 420.3L1236.0 420.3L1237.5 420.3L1239.0 420.4L1240.5 420.4L1242.0 420.4L1243.5 420.5L1245.0 420.5L1246.5 420.5L1248.0 420.6L1249.5 420.6L1251.0 420.6L1252.5 420.7L1254.0 420.7L1255.5 420.7L1257.0 420.8L1258.5 420.8L1260.0 420.8L1261.5 420.9L1263.0 421.2L1264.5 421.5L1266.0 421.5L1267.5 421.2L1269.0 421.1L1270.5 421.0L1272.0 421.1L1273.5 421.1L1275.0 421.1L1276.5 421.2L1278.0 421.2L1279.5 421.2L1281.0 421.3L1282.5 421.3L1284.0 421.3L1285.5 421.4L1287.0 421.4L1288.5 421.4L1290.0 421.5L1291.5 421.5L1293.0 421.5L1294.5 421.6L1296.0 421.6L1297.5 421.6L1299.0 421.6L1300.5 421.7L1302.0 421.7L1303.5 421.7L1305.0 421.8L1306.5 421.8L1308.0 421.8L1309.5 421.9L1311.0 421.9L1312.5 421.9L1314.0 422.0L1315.5 422.0L1317.0 422.0L1318.5 422.1L1320.0 422.1L1321.5 422.1L1323.0 422.2L1324.5 422.2L1326.0 422.2L1327.5 422.3L1329.0 422.3L1330.5 422.3L1332.0 422.3L1333.5 422.4L1335.0 422.4L1336.5 422.4L1338.0 422.5L1339.5 422.5L1341.0 422.5L1342.5 422.6L1344.0 422.6L1345.5 422.6L1347.0 422.7L1348.5 422.7L1350.0 422.7L1351.5 422.8L1353.0 422.8L1354.5 422.8L1356.0 422.9L1357.5 422.9L1359.0 422.9L1360.5 423.0L1362.0 423.0L1363.5 423.0L1365.0 423.1L1366.5 423.1L1368.0 423.1L1369.5 423.1L1371.0 423.2L1372.5 423.2L1374.0 423.2L1375.5 423.3L1377.0 423.3L1378.5 423.3L1380.0 423.4L1381.5 423.4L1383.0 423.4L1384.5 423.5L1386.0 423.5L1387.5 423.5L1389.0 423.6L1390.5 423.6L1392.0 423.6L1393.5 423.7L1395.0 423.7L1396.5 423.7L1398.0 423.8L1399.5 423.8L1401.0 423.8L1402.5 423.8L1404.0 423.9L1405.5 423.9L1407.0 423.9L1408.5 424.0" fill="none" stroke="#838ac5" stroke-width="3.3" stroke-linejoin="round"/>
<path d="M1137.0 435.5L1138.5 435.5L1140.0 435.5L1141.5 435.0L1143.0 434.7L1144.5 435.5L1146.0 436.2L1147.5 437.7L1149.0 438.3L1150.5 436.9L1152.0 436.8L1153.5 437.0L1155.0 436.1L1156.5 436.0L1158.0 436.0L1159.5 436.0L1161.0 436.1L1162.5 436.1L1164.0 436.3L1165.5 437.3L1167.0 438.9L1168.5 438.9L1170.0 437.3L1171.5 436.4L1173.0 436.3L1174.5 436.4L1176.0 436.4L1177.5 436.4L1179.0 436.5L1180.5 436.5L1182.0 436.5L1183.5 436.6L1185.0 437.1L1186.5 438.1L1188.0 438.6L1189.5 437.7L1191.0 437.0L1192.5 436.8L1194.0 436.8L1195.5 436.8L1197.0 436.9L1198.5 436.9L1200.0 436.9L1201.5 436.9L1203.0 437.0L1204.5 437.3L1206.0 438.4L1207.5 439.4L1209.0 438.7L1210.5 437.3L1212.0 436.7L1213.5 436.5L1215.0 436.4L1216.5 436.3L1218.0 436.2L1219.5 436.1L1221.0 435.9L1222.5 435.8L1224.0 435.8L1225.5 436.0L1227.0 436.2L1228.5 435.6L1230.0 434.9L1231.5 434.6L1233.0 434.3L1234.5 434.1L1236.0 433.8L1237.5 433.6L1239.0 433.4L1240.5 433.1L1242.0 432.9L1243.5 432.7L1245.0 432.6L1246.5 432.4L1248.0 432.3L1249.5 432.3L1251.0 432.2L1252.5 432.2L1254.0 432.2L1255.5 432.3L1257.0 432.5L1258.5 432.8L1260.0 433.2L1261.5 433.7L1263.0 434.4L1264.5 435.2L1266.0 435.6L1267.5 435.9L1269.0 436.3L1270.5 436.8L1272.0 437.3L1273.5 437.7L1275.0 438.1L1276.5 438.4L1278.0 438.7L1279.5 438.8L1281.0 438.8L1282.5 438.9L1284.0 438.9L1285.5 438.9L1287.0 439.0L1288.5 439.0L1290.0 439.0L1291.5 439.1L1293.0 439.1L1294.5 439.1L1296.0 439.2L1297.5 439.2L1299.0 439.2L1300.5 439.3L1302.0 439.3L1303.5 439.3L1305.0 439.4L1306.5 439.4L1308.0 439.5L1309.5 439.5L1311.0 439.5L1312.5 439.6L1314.0 439.6L1315.5 439.6L1317.0 439.7L1318.5 439.7L1320.0 439.7L1321.5 439.8L1323.0 439.8L1324.5 439.8L1326.0 439.9L1327.5 439.9L1329.0 439.9L1330.5 440.0L1332.0 440.0L1333.5 440.0L1335.0 440.1L1336.5 440.1L1338.0 440.1L1339.5 440.2L1341.0 440.2L1342.5 440.2L1344.0 440.3L1345.5 440.3L1347.0 440.4L1348.5 440.4L1350.0 440.4L1351.5 440.5L1353.0 440.5L1354.5 440.5L1356.0 440.6L1357.5 440.6L1359.0 440.6L1360.5 440.7L1362.0 440.7L1363.5 440.7L1365.0 440.8L1366.5 440.8L1368.0 440.8L1369.5 440.9L1371.0 440.9L1372.5 440.9L1374.0 441.0L1375.5 441.0L1377.0 441.0L1378.5 441.1L1380.0 441.1L1381.5 441.2L1383.0 441.2L1384.5 441.2L1386.0 441.3L1387.5 441.3L1389.0 441.3L1390.5 441.4L1392.0 441.4L1393.5 441.4L1395.0 441.5L1396.5 441.5L1398.0 441.5L1399.5 441.6L1401.0 441.6L1402.5 441.6L1404.0 441.7L1405.5 441.7L1407.0 441.7L1408.5 441.8" fill="none" stroke="#6d7dbe" stroke-width="3.3" stroke-linejoin="round"/>
<path d="M1137.0 452.7L1138.5 452.7L1140.0 452.7L1141.5 452.2L1143.0 452.0L1144.5 452.8L1146.0 453.4L1147.5 454.9L1149.0 455.5L1150.5 454.2L1152.0 454.0L1153.5 454.2L1155.0 453.4L1156.5 453.2L1158.0 453.2L1159.5 453.3L1161.0 453.3L1162.5 453.4L1164.0 453.6L1165.5 454.5L1167.0 456.2L1168.5 456.1L1170.0 454.5L1171.5 453.7L1173.0 453.6L1174.5 453.6L1176.0 453.7L1177.5 453.7L1179.0 453.8L1180.5 453.8L1182.0 453.8L1183.5 453.9L1185.0 454.4L1186.5 455.4L1188.0 456.0L1189.5 455.1L1191.0 454.3L1192.5 454.1L1194.0 454.1L1195.5 454.2L1197.0 454.2L1198.5 454.2L1200.0 454.2L1201.5 454.3L1203.0 454.3L1204.5 454.7L1206.0 455.8L1207.5 456.7L1209.0 456.0L1210.5 454.7L1212.0 454.0L1213.5 453.9L1215.0 453.8L1216.5 453.7L1218.0 453.6L1219.5 453.4L1221.0 453.3L1222.5 453.1L1224.0 453.1L1225.5 453.4L1227.0 453.5L1228.5 452.9L1230.0 452.2L1231.5 451.9L1233.0 451.6L1234.5 451.4L1236.0 451.1L1237.5 450.9L1239.0 450.6L1240.5 450.4L1242.0 450.2L1243.5 450.0L1245.0 449.8L1246.5 449.7L1248.0 449.6L1249.5 449.5L1251.0 449.5L1252.5 449.4L1254.0 449.5L1255.5 449.6L1257.0 449.8L1258.5 450.1L1260.0 450.5L1261.5 451.1L1263.0 451.8L1264.5 452.7L1266.0 453.2L1267.5 453.5L1269.0 453.9L1270.5 454.4L1272.0 454.9L1273.5 455.4L1275.0 455.8L1276.5 456.1L1278.0 456.2L1279.5 456.3L1281.0 456.3L1282.5 456.4L1284.0 456.4L1285.5 456.5L1287.0 456.5L1288.5 456.5L1290.0 456.6L1291.5 456.6L1293.0 456.6L1294.5 456.7L1296.0 456.7L1297.5 456.8L1299.0 456.8L1300.5 456.8L1302.0 456.9L1303.5 456.9L1305.0 457.0L1306.5 457.0L1308.0 457.0L1309.5 457.1L1311.0 457.1L1312.5 457.1L1314.0 457.2L1315.5 457.2L1317.0 457.3L1318.5 457.3L1320.0 457.3L1321.5 457.4L1323.0 457.4L1324.5 457.4L1326.0 457.5L1327.5 457.5L1329.0 457.6L1330.5 457.6L1332.0 457.6L1333.5 457.7L1335.0 457.7L1336.5 457.7L1338.0 457.8L1339.5 457.8L1341.0 457.9L1342.5 457.9L1344.0 457.9L1345.5 458.0L1347.0 458.0L1348.5 458.1L1350.0 458.1L1351.5 458.1L1353.0 458.2L1354.5 458.2L1356.0 458.2L1357.5 458.3L1359.0 458.3L1360.5 458.4L1362.0 458.4L1363.5 458.4L1365.0 458.5L1366.5 458.5L1368.0 458.5L1369.5 458.6L1371.0 458.6L1372.5 458.7L1374.0 458.7L1375.5 458.7L1377.0 458.8L1378.5 458.8L1380.0 458.9L1381.5 458.9L1383.0 458.9L1384.5 459.0L1386.0 459.0L1387.5 459.0L1389.0 459.1L1390.5 459.1L1392.0 459.2L1393.5 459.2L1395.0 459.2L1396.5 459.3L1398.0 459.3L1399.5 459.3L1401.0 459.4L1402.5 459.4L1404.0 459.5L1405.5 459.5L1407.0 459.5L1408.5 459.6" fill="none" stroke="#697abe" stroke-width="3.3" stroke-linejoin="round"/>
<rect x="1135.0" y="32.0" width="317.0" height="441.5" fill="none" stroke="#000" stroke-width="3.6"/>
<path d="M1135.0 473.5v9.0M1148.2 473.5v4.3M1161.4 473.5v4.3M1174.6 473.5v4.3M1187.8 473.5v4.3M1201.0 473.5v4.3M1214.2 473.5v9.0M1227.5 473.5v4.3M1240.7 473.5v4.3M1253.9 473.5v4.3M1267.1 473.5v4.3M1280.3 473.5v4.3M1293.5 473.5v9.0M1306.7 473.5v4.3M1319.9 473.5v4.3M1333.1 473.5v4.3M1346.3 473.5v4.3M1359.5 473.5v4.3M1372.8 473.5v9.0M1386.0 473.5v4.3M1399.2 473.5v4.3M1412.4 473.5v4.3M1425.6 473.5v4.3M1438.8 473.5v4.3M1452.0 473.5v9.0" stroke="#000" stroke-width="3.8" fill="none"/>
<text x="1135.0" y="510.8" class="b" font-size="29.2" text-anchor="middle">1900</text>
<text x="1214.2" y="510.8" class="b" font-size="29.2" text-anchor="middle">2000</text>
<text x="1293.5" y="510.8" class="b" font-size="29.2" text-anchor="middle">2100</text>
<text x="1372.8" y="510.8" class="b" font-size="29.2" text-anchor="middle">2200</text>
<text x="1452.0" y="510.8" class="b" font-size="29.2" text-anchor="middle">2300</text>
<text x="1293.2" y="546.6" class="b" font-size="32.8" text-anchor="middle">Wavenumber (cm<tspan font-size="22.5" dy="-12">-1</tspan><tspan dy="12">)</tspan></text>
<text transform="translate(1120.6,251.4) rotate(-90)" class="b" font-size="33" text-anchor="middle">Intensity (arb. units)</text>
<text x="1064.2" y="53.3" class="b" font-size="77.5">c</text>
<text x="1414.5" y="65.5" class="b" font-size="31.5" text-anchor="end">BDD</text>
<text x="1444.3" y="103.6" class="b" font-size="23.9" text-anchor="end">CO saturated</text>
<text x="1422.3" y="129.1" class="b" font-size="18.5">0s</text>
<text x="1428" y="207.3" class="b" font-size="16.5">Ar</text>
<text x="1416.8" y="293.6" class="b" font-size="18.5">90s</text>
<text x="1424" y="371.5" class="b" font-size="16.5">CO</text>
<text x="1409.5" y="463.1" class="b" font-size="18.5">180s</text>
<text x="1155" y="105.5" font-size="15.4">0.0005 a.u</text>
<path d="M1146.5 95.8V106.2M1144.3 95.8h4.4M1144.3 106.2h4.4" stroke="#666" stroke-width="1"/>
<path d="M1421.7 146.4V250.1" stroke="#000" stroke-width="1.2"/><path d="M1421.7 263.6l-3.6 -14.5h7.3z" fill="#000"/>
<path d="M1422.3 313.3V417.4" stroke="#000" stroke-width="1.2"/><path d="M1422.3 430.9l-3.6 -14.5h7.3z" fill="#000"/>
<path d="M1519.4 138.0C1520.2 137.9 1522.5 137.0 1524.3 137.1C1526.0 137.2 1525.9 138.9 1530.0 138.6C1534.2 138.3 1542.9 136.4 1549.3 135.1C1555.7 133.9 1562.1 132.5 1568.5 130.9C1574.9 129.3 1581.0 128.3 1587.8 125.5C1594.5 122.7 1602.9 118.8 1609.0 114.0C1615.1 109.1 1619.5 102.7 1624.4 96.6C1629.2 90.5 1633.8 82.3 1637.8 77.4C1641.8 72.5 1645.5 67.7 1648.4 67.4C1651.3 67.0 1653.1 70.6 1655.2 75.5C1657.2 80.3 1659.0 90.1 1660.9 96.6C1662.9 103.2 1664.8 110.9 1666.7 114.9C1668.6 118.9 1667.4 119.9 1672.5 120.7C1677.6 121.5 1689.4 120.0 1697.5 119.7C1705.7 119.5 1713.4 119.3 1721.3 119.0C1729.3 118.8 1737.2 118.5 1745.2 118.3C1753.1 118.0 1761.0 117.8 1769.0 117.6C1776.9 117.3 1788.8 117.0 1792.8 116.8" fill="none" stroke="#e68a70" stroke-width="3" stroke-linejoin="round"/>
<path d="M1519.4 154.4C1520.6 154.1 1521.8 153.2 1526.2 152.8C1530.5 152.5 1541.6 152.6 1545.4 152.1C1549.3 151.5 1545.4 150.7 1549.3 149.6C1553.1 148.4 1562.1 146.7 1568.5 145.2C1574.9 143.8 1581.0 143.6 1587.8 140.9C1594.5 138.3 1602.9 133.9 1609.0 129.4C1615.1 124.9 1619.5 120.1 1624.4 114.0C1629.2 107.9 1634.0 98.6 1637.8 92.8C1641.7 87.0 1644.7 80.3 1647.5 79.3C1650.2 78.3 1652.0 80.9 1654.2 87.0C1656.4 93.1 1658.9 108.2 1660.9 115.9C1663.0 123.6 1664.5 129.7 1666.7 133.2C1669.0 136.7 1669.3 136.6 1674.4 137.1C1679.5 137.5 1689.7 136.4 1697.5 136.1C1705.3 135.8 1713.4 135.6 1721.3 135.3C1729.3 135.0 1737.2 134.7 1745.2 134.5C1753.1 134.2 1761.0 133.9 1769.0 133.6C1776.9 133.4 1788.8 133.0 1792.8 132.8" fill="none" stroke="#e88d72" stroke-width="3" stroke-linejoin="round"/>
<path d="M1519.4 166.9C1520.9 166.6 1523.1 165.8 1528.1 165.0C1533.1 164.2 1542.5 163.2 1549.3 162.1C1556.0 161.0 1562.1 159.5 1568.5 158.2C1574.9 157.0 1581.0 156.6 1587.8 154.4C1594.5 152.1 1602.9 148.6 1609.0 144.8C1615.1 140.9 1619.5 136.4 1624.4 131.3C1629.2 126.1 1634.0 118.6 1637.8 114.0C1641.7 109.3 1644.7 103.7 1647.5 103.4C1650.2 103.0 1652.0 107.7 1654.2 112.0C1656.4 116.4 1658.5 123.7 1660.9 129.4C1663.3 135.0 1665.7 142.6 1668.6 145.7C1671.5 148.9 1673.4 147.9 1678.3 148.2C1683.1 148.5 1690.3 147.9 1697.5 147.6C1704.7 147.4 1713.4 147.2 1721.3 146.9C1729.3 146.7 1737.2 146.4 1745.2 146.2C1753.1 146.0 1761.0 145.7 1769.0 145.5C1776.9 145.2 1788.8 144.9 1792.8 144.8" fill="none" stroke="#e99175" stroke-width="3" stroke-linejoin="round"/>
<path d="M1519.4 180.4C1521.2 180.2 1525.1 179.7 1530.0 179.4C1535.0 179.1 1542.9 179.5 1549.3 178.4C1555.7 177.4 1562.1 174.9 1568.5 173.2C1574.9 171.4 1581.0 170.3 1587.8 167.9C1594.5 165.4 1602.9 161.8 1609.0 158.2C1615.1 154.7 1619.5 151.2 1624.4 146.7C1629.2 142.2 1634.1 134.9 1637.8 131.3C1641.5 127.7 1643.8 124.6 1646.5 124.9C1649.2 125.3 1651.5 128.9 1654.2 133.2C1656.9 137.5 1660.1 145.6 1662.9 150.5C1665.6 155.5 1667.4 160.8 1670.6 163.0C1673.8 165.3 1675.6 163.9 1682.1 164.0C1688.6 164.1 1700.6 163.7 1709.8 163.5C1719.0 163.4 1728.2 163.2 1737.5 163.0C1746.7 162.9 1755.9 162.7 1765.1 162.6C1774.4 162.4 1788.2 162.2 1792.8 162.1" fill="none" stroke="#eb9477" stroke-width="3" stroke-linejoin="round"/>
<path d="M1519.4 189.0C1521.9 188.6 1529.4 187.4 1534.4 186.6C1539.3 185.8 1543.6 185.2 1549.3 184.2C1555.0 183.3 1562.1 182.0 1568.5 180.9C1574.9 179.7 1581.0 179.7 1587.8 177.5C1594.5 175.3 1602.9 171.1 1609.0 167.9C1615.1 164.7 1619.5 161.8 1624.4 158.2C1629.2 154.7 1634.1 149.2 1637.8 146.7C1641.5 144.2 1643.6 142.8 1646.5 143.4C1649.4 144.1 1652.1 146.8 1655.2 150.5C1658.2 154.3 1661.6 161.8 1664.8 165.9C1668.0 170.1 1670.9 173.9 1674.4 175.6C1677.9 177.2 1679.6 176.0 1686.0 175.9C1692.3 175.9 1703.8 175.7 1712.7 175.5C1721.6 175.4 1730.5 175.2 1739.4 175.1C1748.3 174.9 1757.2 174.8 1766.1 174.6C1775.0 174.5 1788.4 174.3 1792.8 174.2" fill="none" stroke="#ef9f7b" stroke-width="3" stroke-linejoin="round"/>
<path d="M1519.4 201.6C1521.9 201.2 1529.4 200.3 1534.4 199.6C1539.3 199.0 1543.6 198.6 1549.3 197.7C1555.0 196.8 1562.1 195.5 1568.5 194.3C1574.9 193.2 1581.0 192.8 1587.8 191.0C1594.5 189.1 1602.9 186.1 1609.0 183.3C1615.1 180.4 1619.5 176.8 1624.4 173.6C1629.2 170.4 1634.0 166.2 1637.8 164.0C1641.7 161.9 1644.3 160.1 1647.5 160.7C1650.7 161.4 1653.9 164.7 1657.1 167.9C1660.3 171.0 1663.5 176.2 1666.7 179.4C1669.9 182.6 1672.8 185.7 1676.3 187.1C1679.9 188.6 1681.6 188.0 1687.9 188.1C1694.2 188.2 1705.4 187.8 1714.1 187.6C1722.9 187.4 1731.6 187.3 1740.3 187.1C1749.1 187.0 1757.8 186.8 1766.6 186.6C1775.3 186.5 1788.4 186.2 1792.8 186.1" fill="none" stroke="#f5af81" stroke-width="3" stroke-linejoin="round"/>
<path d="M1519.4 217.9C1521.9 217.5 1529.4 216.3 1534.4 215.5C1539.3 214.7 1543.6 214.2 1549.3 213.1C1555.0 212.0 1562.1 210.2 1568.5 208.8C1574.9 207.3 1581.0 206.8 1587.8 204.4C1594.5 202.1 1602.9 197.9 1609.0 194.8C1615.1 191.8 1619.5 189.2 1624.4 186.1C1629.2 183.1 1634.0 178.7 1637.8 176.5C1641.7 174.4 1644.3 172.8 1647.5 173.3C1650.7 173.7 1653.9 176.5 1657.1 179.4C1660.3 182.4 1663.2 187.4 1666.7 191.0C1670.2 194.5 1674.4 198.8 1678.3 200.6C1682.1 202.4 1683.6 201.5 1689.8 201.6C1696.0 201.6 1707.0 201.1 1715.6 200.9C1724.1 200.7 1732.7 200.5 1741.3 200.3C1749.9 200.1 1758.5 199.9 1767.1 199.7C1775.6 199.5 1788.5 199.2 1792.8 199.0" fill="none" stroke="#fabe87" stroke-width="3" stroke-linejoin="round"/>
<path d="M1519.4 222.7C1521.9 222.4 1529.4 221.4 1534.4 220.8C1539.3 220.2 1543.6 219.8 1549.3 218.9C1555.0 218.0 1562.1 216.6 1568.5 215.5C1574.9 214.4 1581.0 213.7 1587.8 212.1C1594.5 210.6 1602.9 208.4 1609.0 206.4C1615.1 204.3 1619.5 201.9 1624.4 199.6C1629.2 197.4 1634.0 194.4 1637.8 192.9C1641.7 191.3 1644.3 190.1 1647.5 190.4C1650.7 190.7 1653.6 192.5 1657.1 194.8C1660.6 197.2 1664.8 201.9 1668.6 204.4C1672.5 207.0 1676.3 209.2 1680.2 210.2C1684.0 211.3 1685.6 210.8 1691.7 210.8C1697.9 210.8 1708.6 210.5 1717.0 210.4C1725.4 210.3 1733.9 210.1 1742.3 210.0C1750.7 209.9 1759.1 209.8 1767.5 209.6C1776.0 209.5 1788.6 209.3 1792.8 209.3" fill="none" stroke="#f9c18e" stroke-width="3" stroke-linejoin="round"/>
<path d="M1519.4 234.3C1524.4 233.8 1541.1 232.4 1549.3 231.4C1557.5 230.4 1562.1 229.5 1568.5 228.5C1574.9 227.5 1581.0 227.1 1587.8 225.6C1594.5 224.2 1602.9 221.8 1609.0 219.8C1615.1 217.9 1619.5 216.0 1624.4 214.1C1629.2 212.1 1634.0 209.6 1637.8 208.3C1641.7 206.9 1644.3 205.8 1647.5 206.0C1650.7 206.1 1653.6 207.4 1657.1 209.3C1660.6 211.1 1664.5 214.7 1668.6 217.0C1672.8 219.2 1677.9 221.7 1682.1 222.7C1686.3 223.8 1687.6 223.3 1693.7 223.3C1699.7 223.3 1710.2 223.0 1718.4 222.9C1726.7 222.8 1735.0 222.7 1743.2 222.5C1751.5 222.4 1759.8 222.3 1768.0 222.1C1776.3 222.0 1788.7 221.8 1792.8 221.8" fill="none" stroke="#f8c394" stroke-width="3" stroke-linejoin="round"/>
<path d="M1519.4 243.9C1520.1 244.4 1521.8 247.3 1523.3 247.2C1524.7 247.1 1523.8 244.5 1528.1 243.3C1532.4 242.1 1543.0 240.7 1549.3 240.1C1555.5 239.4 1560.2 239.5 1565.6 239.3C1571.1 239.0 1578.3 238.9 1582.0 238.5C1585.7 238.2 1583.3 238.0 1587.8 237.2C1592.3 236.3 1602.9 234.6 1609.0 233.3C1615.1 232.0 1619.5 230.8 1624.4 229.5C1629.2 228.1 1634.0 226.1 1637.8 225.2C1641.7 224.3 1643.9 223.9 1647.5 224.1C1651.0 224.3 1654.8 225.4 1659.0 226.6C1663.2 227.8 1667.7 230.1 1672.5 231.4C1677.3 232.7 1680.9 233.8 1687.9 234.3C1694.8 234.7 1705.4 234.1 1714.1 234.0C1722.9 234.0 1731.6 233.9 1740.3 233.8C1749.1 233.7 1757.8 233.6 1766.6 233.6C1775.3 233.5 1788.4 233.4 1792.8 233.3" fill="none" stroke="#f6c1aa" stroke-width="3" stroke-linejoin="round"/>
<path d="M1519.4 256.4C1520.4 257.5 1523.3 262.9 1525.2 263.1C1527.1 263.3 1528.6 258.7 1531.0 257.7C1533.4 256.7 1534.4 258.0 1539.7 257.3C1544.9 256.7 1555.1 254.7 1562.8 253.9C1570.5 253.1 1578.8 253.5 1585.9 252.5C1592.9 251.5 1598.0 249.8 1605.1 247.7C1612.2 245.6 1621.1 242.2 1628.2 240.0C1635.3 237.8 1641.7 234.8 1647.5 234.3C1653.3 233.8 1657.7 236.0 1662.9 237.1C1668.0 238.2 1673.1 240.0 1678.3 241.0C1683.4 241.9 1687.0 242.5 1693.7 242.9C1700.4 243.2 1710.2 243.0 1718.4 243.0C1726.7 243.1 1735.0 243.1 1743.2 243.2C1751.5 243.2 1759.8 243.3 1768.0 243.3C1776.3 243.4 1788.7 243.4 1792.8 243.5" fill="none" stroke="#f3bcbd" stroke-width="3" stroke-linejoin="round"/>
<path d="M1519.4 269.8C1521.8 269.7 1526.7 269.5 1533.9 268.9C1541.1 268.2 1553.1 267.0 1562.8 266.0C1572.4 265.0 1583.3 264.2 1591.6 263.1C1600.0 262.0 1606.7 260.7 1612.8 259.3C1618.9 257.8 1623.7 256.0 1628.2 254.4C1632.7 252.8 1636.2 250.7 1639.8 249.6C1643.3 248.5 1646.2 247.5 1649.4 247.7C1652.6 247.9 1655.5 249.3 1659.0 250.6C1662.5 251.9 1666.7 254.4 1670.6 255.4C1674.4 256.4 1677.6 256.4 1682.1 256.4C1686.6 256.4 1691.0 255.7 1697.5 255.4C1704.1 255.1 1713.4 255.0 1721.3 254.8C1729.3 254.6 1737.2 254.4 1745.2 254.2C1753.1 254.1 1761.0 253.9 1769.0 253.7C1776.9 253.5 1788.8 253.2 1792.8 253.1" fill="none" stroke="#f0b8c1" stroke-width="3" stroke-linejoin="round"/>
<path d="M1519.4 286.2C1521.8 285.7 1526.7 284.4 1533.9 283.3C1541.1 282.2 1553.1 280.7 1562.8 279.5C1572.4 278.2 1583.3 276.9 1591.6 275.6C1600.0 274.3 1606.7 273.5 1612.8 271.8C1618.9 270.0 1623.7 266.7 1628.2 265.0C1632.7 263.3 1636.4 262.4 1639.8 261.6C1643.1 260.8 1645.2 260.0 1648.4 260.2C1651.6 260.5 1655.0 261.7 1659.0 263.1C1663.0 264.5 1668.0 267.2 1672.5 268.9C1677.0 270.5 1681.8 272.4 1686.0 273.1C1690.1 273.8 1691.6 273.1 1697.5 273.1C1703.4 273.1 1713.4 273.0 1721.3 273.0C1729.3 273.0 1737.2 273.0 1745.2 272.9C1753.1 272.9 1761.0 272.9 1769.0 272.8C1776.9 272.8 1788.8 272.7 1792.8 272.7" fill="none" stroke="#eeb3c5" stroke-width="3" stroke-linejoin="round"/>
<path d="M1519.4 297.8C1520.1 298.6 1521.8 302.6 1523.3 302.6C1524.7 302.5 1525.4 298.5 1528.1 297.4C1530.8 296.2 1533.9 296.6 1539.7 295.8C1545.4 295.1 1555.1 293.9 1562.8 292.9C1570.5 292.0 1578.2 291.5 1585.9 290.1C1593.6 288.6 1601.9 286.5 1609.0 284.3C1616.0 282.0 1623.1 278.6 1628.2 276.6C1633.3 274.6 1636.4 273.3 1639.8 272.3C1643.1 271.4 1645.2 270.6 1648.4 270.8C1651.6 271.0 1654.7 272.2 1659.0 273.7C1663.3 275.1 1669.3 277.9 1674.4 279.5C1679.5 281.1 1683.0 282.7 1689.8 283.3C1696.7 284.0 1707.0 283.3 1715.6 283.3C1724.1 283.3 1732.7 283.3 1741.3 283.3C1749.9 283.3 1758.5 283.3 1767.1 283.3C1775.6 283.3 1788.5 283.3 1792.8 283.3" fill="none" stroke="#e9afc8" stroke-width="3" stroke-linejoin="round"/>
<path d="M1519.4 315.1C1519.8 315.5 1519.9 317.9 1521.4 317.4C1522.8 316.9 1524.1 313.5 1528.1 312.2C1532.1 310.9 1539.7 310.6 1545.4 309.8C1551.2 309.0 1556.7 308.1 1562.8 307.4C1568.9 306.7 1574.9 306.9 1582.0 305.5C1589.1 304.0 1598.0 301.3 1605.1 298.7C1612.2 296.1 1618.6 292.6 1624.4 290.1C1630.1 287.5 1635.7 284.8 1639.8 283.3C1643.8 281.9 1645.2 281.2 1648.4 281.4C1651.6 281.6 1654.7 282.7 1659.0 284.3C1663.3 285.9 1669.0 288.8 1674.4 291.0C1679.9 293.3 1684.6 296.7 1691.7 297.8C1698.8 298.8 1708.6 297.6 1717.0 297.5C1725.4 297.4 1733.9 297.4 1742.3 297.3C1750.7 297.2 1759.1 297.1 1767.5 297.0C1776.0 297.0 1788.6 296.8 1792.8 296.8" fill="none" stroke="#e2abca" stroke-width="3" stroke-linejoin="round"/>
<path d="M1519.4 327.6C1521.5 327.8 1527.3 328.9 1532.0 328.6C1536.6 328.2 1542.2 326.6 1547.4 325.7C1552.5 324.7 1558.3 322.9 1562.8 322.8C1567.2 322.6 1568.5 325.7 1574.3 324.7C1580.1 323.7 1590.3 319.6 1597.4 317.0C1604.5 314.4 1610.9 312.2 1616.7 309.3C1622.4 306.4 1626.9 301.9 1632.1 299.7C1637.2 297.4 1643.3 296.0 1647.5 295.8C1651.6 295.7 1653.2 297.0 1657.1 298.7C1660.9 300.5 1665.7 303.9 1670.6 306.4C1675.4 309.0 1678.9 312.9 1686.0 314.1C1693.0 315.3 1703.8 313.9 1712.7 313.8C1721.6 313.7 1730.5 313.6 1739.4 313.4C1748.3 313.3 1757.2 313.2 1766.1 313.1C1775.0 313.0 1788.4 312.8 1792.8 312.8" fill="none" stroke="#dba7cb" stroke-width="3" stroke-linejoin="round"/>
<path d="M1519.4 340.1C1520.6 340.4 1522.0 342.2 1526.2 342.0C1530.3 341.9 1538.4 340.1 1544.5 339.1C1550.6 338.2 1558.7 336.4 1562.8 336.3C1566.8 336.1 1563.7 339.1 1568.5 338.2C1573.3 337.2 1584.3 333.0 1591.6 330.5C1599.0 327.9 1606.7 325.7 1612.8 322.8C1618.9 319.9 1623.7 315.7 1628.2 313.2C1632.7 310.6 1636.4 308.6 1639.8 307.4C1643.1 306.2 1645.5 305.5 1648.4 305.8C1651.3 306.2 1653.7 307.4 1657.1 309.3C1660.5 311.2 1664.8 314.3 1668.6 317.0C1672.5 319.7 1676.7 324.1 1680.2 325.7C1683.7 327.3 1683.9 326.5 1689.8 326.6C1695.7 326.7 1707.0 326.4 1715.6 326.2C1724.1 326.1 1732.7 326.0 1741.3 325.9C1749.9 325.7 1758.5 325.6 1767.1 325.5C1775.6 325.3 1788.5 325.2 1792.8 325.1" fill="none" stroke="#d3a3cd" stroke-width="3" stroke-linejoin="round"/>
<path d="M1519.4 359.4C1523.4 358.7 1536.3 356.3 1543.5 355.5C1550.7 354.7 1555.7 355.5 1562.8 354.5C1569.8 353.6 1578.2 352.0 1585.9 349.7C1593.6 347.5 1602.5 344.3 1609.0 341.1C1615.4 337.9 1619.5 333.7 1624.4 330.5C1629.2 327.3 1633.8 323.7 1637.8 321.8C1641.8 319.9 1645.2 318.8 1648.4 318.9C1651.6 319.1 1653.7 320.5 1657.1 322.8C1660.5 325.0 1665.1 329.4 1668.6 332.4C1672.2 335.5 1675.4 339.3 1678.3 341.1C1681.1 342.8 1680.2 342.7 1686.0 343.0C1691.7 343.3 1703.8 342.7 1712.7 342.6C1721.6 342.5 1730.5 342.4 1739.4 342.2C1748.3 342.1 1757.2 342.0 1766.1 341.8C1775.0 341.7 1788.4 341.5 1792.8 341.5" fill="none" stroke="#c9a2cf" stroke-width="3" stroke-linejoin="round"/>
<path d="M1519.4 368.0C1523.0 367.8 1533.9 367.1 1541.1 366.6C1548.3 366.1 1555.9 366.0 1562.8 365.1C1569.6 364.3 1574.9 362.9 1582.0 361.3C1589.1 359.7 1598.7 357.8 1605.1 355.5C1611.5 353.3 1615.4 351.0 1620.5 347.8C1625.6 344.6 1631.4 338.8 1635.9 336.3C1640.4 333.7 1643.9 332.4 1647.5 332.4C1651.0 332.4 1653.6 334.0 1657.1 336.3C1660.6 338.5 1665.1 342.8 1668.6 345.9C1672.2 348.9 1675.1 352.9 1678.3 354.5C1681.5 356.1 1681.9 355.4 1687.9 355.5C1693.9 355.6 1705.4 355.3 1714.1 355.3C1722.9 355.2 1731.6 355.1 1740.3 355.0C1749.1 354.9 1757.8 354.9 1766.6 354.8C1775.3 354.7 1788.4 354.6 1792.8 354.5" fill="none" stroke="#c0a1d1" stroke-width="3" stroke-linejoin="round"/>
<path d="M1519.4 384.4C1522.2 384.1 1530.7 383.4 1536.3 382.9C1541.9 382.5 1545.5 382.5 1553.1 381.5C1560.7 380.5 1573.3 378.4 1582.0 376.7C1590.7 374.9 1598.7 373.2 1605.1 370.9C1611.5 368.7 1615.4 366.6 1620.5 363.2C1625.6 359.8 1631.4 353.6 1635.9 350.7C1640.4 347.8 1644.3 346.0 1647.5 345.9C1650.7 345.7 1652.3 347.2 1655.2 349.7C1658.0 352.3 1661.6 358.1 1664.8 361.3C1668.0 364.5 1671.5 367.4 1674.4 369.0C1677.3 370.6 1676.2 370.7 1682.1 370.9C1688.0 371.1 1700.6 370.3 1709.8 370.0C1719.0 369.8 1728.2 369.5 1737.5 369.2C1746.7 368.9 1755.9 368.6 1765.1 368.3C1774.4 368.0 1788.2 367.6 1792.8 367.4" fill="none" stroke="#b29dd1" stroke-width="3" stroke-linejoin="round"/>
<path d="M1519.4 405.6C1522.8 405.4 1532.4 405.4 1539.7 404.6C1546.9 403.8 1556.0 402.0 1562.8 400.7C1569.5 399.5 1574.3 398.2 1580.1 396.9C1585.9 395.6 1592.0 395.1 1597.4 393.0C1602.9 391.0 1607.7 388.1 1612.8 384.4C1617.9 380.7 1623.7 374.9 1628.2 370.9C1632.7 366.9 1636.4 362.8 1639.8 360.3C1643.1 357.9 1645.5 355.6 1648.4 356.1C1651.3 356.6 1654.0 359.5 1657.1 363.2C1660.1 367.0 1663.8 374.3 1666.7 378.6C1669.6 382.9 1671.8 387.3 1674.4 389.2C1677.0 391.1 1676.2 390.1 1682.1 390.2C1688.0 390.2 1700.6 389.8 1709.8 389.7C1719.0 389.5 1728.2 389.4 1737.5 389.2C1746.7 389.0 1755.9 388.9 1765.1 388.7C1774.4 388.6 1788.2 388.3 1792.8 388.2" fill="none" stroke="#a299cf" stroke-width="3" stroke-linejoin="round"/>
<path d="M1519.4 421.9C1523.0 421.4 1533.9 420.0 1541.1 419.0C1548.3 418.1 1554.3 417.8 1562.8 416.1C1571.2 414.5 1583.3 412.1 1591.6 409.4C1600.0 406.7 1606.7 403.6 1612.8 399.8C1618.9 395.9 1623.7 390.3 1628.2 386.3C1632.7 382.3 1636.4 378.2 1639.8 375.7C1643.1 373.2 1645.9 371.1 1648.4 371.3C1651.0 371.5 1652.8 372.9 1655.2 376.7C1657.6 380.5 1660.3 388.9 1662.9 394.0C1665.4 399.1 1668.0 404.9 1670.6 407.5C1673.1 410.1 1672.2 409.2 1678.3 409.4C1684.3 409.6 1697.4 408.9 1706.9 408.7C1716.4 408.4 1726.0 408.2 1735.5 408.0C1745.1 407.7 1754.6 407.5 1764.2 407.2C1773.7 407.0 1788.0 406.6 1792.8 406.5" fill="none" stroke="#898dc9" stroke-width="3" stroke-linejoin="round"/>
<path d="M1519.4 434.4C1523.0 433.9 1533.9 432.2 1541.1 431.1C1548.3 429.9 1554.3 429.2 1562.8 427.7C1571.2 426.2 1583.3 424.3 1591.6 421.9C1600.0 419.5 1606.7 417.0 1612.8 413.3C1618.9 409.6 1623.7 404.1 1628.2 399.8C1632.7 395.5 1636.4 390.2 1639.8 387.3C1643.1 384.3 1645.9 381.9 1648.4 382.1C1651.0 382.2 1652.9 384.6 1655.2 388.2C1657.4 391.8 1659.7 398.8 1661.9 403.6C1664.1 408.4 1666.2 414.3 1668.6 417.1C1671.0 419.9 1671.5 420.1 1676.3 420.6C1681.1 421.1 1690.0 420.2 1697.5 420.0C1705.0 419.8 1713.4 419.7 1721.3 419.5C1729.3 419.4 1737.2 419.2 1745.2 419.0C1753.1 418.9 1761.0 418.7 1769.0 418.6C1776.9 418.4 1788.8 418.2 1792.8 418.1" fill="none" stroke="#6070b8" stroke-width="3" stroke-linejoin="round"/>
<path d="M1519.4 455.6C1521.5 455.8 1526.3 457.1 1532.0 456.6C1537.6 456.1 1546.4 454.0 1553.1 452.7C1559.9 451.4 1566.0 450.3 1572.4 448.9C1578.8 447.4 1585.5 446.5 1591.6 444.1C1597.7 441.7 1603.5 438.6 1609.0 434.4C1614.4 430.3 1619.5 424.5 1624.4 419.0C1629.2 413.6 1634.0 405.9 1637.8 401.7C1641.7 397.5 1644.7 394.3 1647.5 394.0C1650.2 393.7 1652.0 395.6 1654.2 399.8C1656.4 404.0 1658.5 412.8 1660.9 419.0C1663.3 425.3 1665.7 433.8 1668.6 437.3C1671.5 440.9 1673.4 439.9 1678.3 440.2C1683.1 440.5 1691.1 439.6 1697.5 439.3C1703.9 438.9 1709.3 438.5 1716.8 438.3C1724.2 438.1 1733.7 438.1 1742.1 438.0C1750.6 437.9 1759.0 437.8 1767.5 437.6C1775.9 437.5 1788.6 437.4 1792.8 437.3" fill="none" stroke="#6c7cbe" stroke-width="3" stroke-linejoin="round"/>
<rect x="1516.8" y="24.2" width="321.2" height="445.4" fill="none" stroke="#000" stroke-width="3.4"/>
<path d="M1516.8 469.6v9.0M1530.2 469.6v4.3M1543.6 469.6v4.3M1557.0 469.6v4.3M1570.3 469.6v4.3M1583.7 469.6v4.3M1597.1 469.6v9.0M1610.5 469.6v4.3M1623.9 469.6v4.3M1637.2 469.6v4.3M1650.6 469.6v4.3M1664.0 469.6v4.3M1677.4 469.6v9.0M1690.8 469.6v4.3M1704.2 469.6v4.3M1717.5 469.6v4.3M1730.9 469.6v4.3M1744.3 469.6v4.3M1757.7 469.6v9.0M1771.1 469.6v4.3M1784.5 469.6v4.3M1797.8 469.6v4.3M1811.2 469.6v4.3M1824.6 469.6v4.3M1838.0 469.6v9.0" stroke="#000" stroke-width="3.6" fill="none"/>
<text x="1516.8" y="507.5" class="b" font-size="29.2" text-anchor="middle">1900</text>
<text x="1597.1" y="507.5" class="b" font-size="29.2" text-anchor="middle">2000</text>
<text x="1677.4" y="507.5" class="b" font-size="29.2" text-anchor="middle">2100</text>
<text x="1757.7" y="507.5" class="b" font-size="29.2" text-anchor="middle">2200</text>
<text x="1838.0" y="507.5" class="b" font-size="29.2" text-anchor="middle">2300</text>
<text x="1677.5" y="544.6" class="b" font-size="33.2" text-anchor="middle">Wavenumber (cm<tspan font-size="22.5" dy="-12">-1</tspan><tspan dy="12">)</tspan></text>
<text x="1703.3" y="62" class="b" font-size="31.5">E<tspan font-size="21" dy="8">M</tspan><tspan dy="-8">BDD</tspan></text>
<text x="1831.5" y="97.6" class="b" font-size="23.9" text-anchor="end">CO saturated</text>
<text x="1801.5" y="126.1" class="b" font-size="18.5">0s</text>
<text x="1812.5" y="191" class="b" font-size="16.5">Ar</text>
<text x="1797.7" y="261.2" class="b" font-size="18.5">90s</text>
<text x="1809.6" y="356.5" class="b" font-size="16.5">CO</text>
<text x="1793.2" y="442.2" class="b" font-size="18.5">180s</text>
<text x="1535.8" y="100.9" font-size="15.4">0.0005 a.u</text>
<path d="M1528.5 89V102.4M1526.3 89h4.4M1526.3 102.4h4.4" stroke="#666" stroke-width="1"/>
<path d="M1806.3 130.3V219.8" stroke="#000" stroke-width="1.2"/><path d="M1806.3 233.3l-3.6 -14.5h7.3z" fill="#000"/>
<path d="M1806.7 294.9V392.5" stroke="#000" stroke-width="1.2"/><path d="M1806.7 406.0l-3.6 -14.5h7.3z" fill="#000"/>
</g>
<g id="pd">
<path d="M241.3 819.7L259.5 830.2M284.3 842.7L302.6 852.3" stroke="#de7b63" stroke-width="5.4" fill="none"/>
<path d="M417.1 851.2L433.9 842.2M456.4 824.9L472.1 815.2" stroke="#83b39c" stroke-width="5.4" fill="none"/>
<path d="M421.1 854.5L438.8 847.8M464.2 838.1L482.9 831.0" stroke="#de7b63" stroke-width="5.4" fill="none"/>
<path d="M593.4 800.2L612.5 797.3M639.4 793.5L658.5 790.5" stroke="#83b39c" stroke-width="5.4" fill="none"/>
<path d="M572.7 828.7L577.6 830.3M601.2 838.8L618.7 846.7M644.6 856.1L658.5 861.3" stroke="#de7b63" stroke-width="5.4" fill="none"/>
<path d="M749.1 857.9L768.2 852.3M793.6 842.6L812.0 836.6" stroke="#f2ca82" stroke-width="5.4" fill="none"/>
<path d="M750.9 862.4L770.0 865.8M796.9 869.6L816.0 873.0" stroke="#3584c6" stroke-width="5.4" fill="none"/>
<path d="M741.2 861.3L751.3 874.1M765.9 897.2L778.3 912.9M793.6 935.4L806.4 951.1M820.3 973.6L826.6 976.3" stroke="#de7b63" stroke-width="5.4" fill="none"/>
<path d="M936.2 866.9L954.6 861.3M981.1 854.5L994.6 850.5" stroke="#3584c6" stroke-width="5.4" fill="none"/>
<path d="M912.4 975.8L930.6 968.6M956.4 958.3L974.4 951.1" stroke="#de7b63" stroke-width="5.4" fill="none"/>
<path d="M1077.6 850.8L1084.4 835.0M1094.1 809.4L1100.2 792.3M1110.0 764.3L1117.3 748.4M1125.8 721.6L1132.6 703.3M1142.4 676.5L1149.7 659.5M1157.5 632.7L1162.4 624.9" stroke="#3584c6" stroke-width="5.4" fill="none"/>
<path d="M1095.3 945.9L1114.8 949.5M1141.7 953.2L1162.4 956.1" stroke="#de7b63" stroke-width="5.4" fill="none"/>
<path d="M1246.0 956.1L1251.4 952.0M1263.5 927.6L1275.7 911.8M1287.9 886.2L1300.1 870.3M1312.3 845.9L1324.5 830.1" stroke="#de7b63" stroke-width="5.4" fill="none"/>
<path d="M1439.4 811.7L1458.1 805.8M1484.7 797.8L1499.9 793.0" stroke="#de7b63" stroke-width="5.4" fill="none"/>
<path d="M1583.3 794.6L1596.6 788.5M1621.7 777.8L1639.8 770.6M1664.3 757.9L1668.0 759.7" stroke="#de7b63" stroke-width="5.4" fill="none"/>
<path d="M152.0 816.9h84.3" stroke="#de7b63" stroke-width="8.8"/>
<path d="M320.4 861.4h84.3" stroke="#de7b63" stroke-width="8.8"/>
<path d="M488.5 802.9h84.3" stroke="#83b39c" stroke-width="8.8"/>
<path d="M488.5 828.7h84.3" stroke="#de7b63" stroke-width="8.8"/>
<path d="M657.2 791.2h84.3" stroke="#83b39c" stroke-width="8.8"/>
<path d="M657.2 861.3h84.3" stroke="#de7b63" stroke-width="8.8"/>
<path d="M825.5 831.4h84.3" stroke="#f2ca82" stroke-width="8.8"/>
<path d="M825.5 874.1h84.3" stroke="#3584c6" stroke-width="8.8"/>
<path d="M825.5 977.0h84.3" stroke="#de7b63" stroke-width="8.8"/>
<path d="M993.5 850.7h84.3" stroke="#3584c6" stroke-width="8.8"/>
<path d="M993.5 943.7h84.3" stroke="#de7b63" stroke-width="8.8"/>
<path d="M1161.9 625.3h84.3" stroke="#3584c6" stroke-width="8.8"/>
<path d="M1161.9 956.2h84.3" stroke="#de7b63" stroke-width="8.8"/>
<path d="M1330.5 819.6h84.3" stroke="#de7b63" stroke-width="8.8"/>
<path d="M1499.1 793.8h84.3" stroke="#de7b63" stroke-width="8.8"/>
<path d="M1667.2 759.2h84.3" stroke="#de7b63" stroke-width="8.8"/>
<rect x="110.4" y="599.4" width="1725.3" height="430.9" fill="none" stroke="#000" stroke-width="3.6"/>
<path d="M108.6 1026.6h-9.0M108.6 984.6h-18.5M108.6 942.6h-9.0M108.6 900.7h-18.5M108.6 858.7h-9.0M108.6 816.7h-18.5M108.6 774.7h-9.0M108.6 732.8h-18.5M108.6 690.8h-9.0M108.6 648.8h-18.5M108.6 606.8h-9.0" stroke="#000" stroke-width="3.2" fill="none"/>
<text x="83.5" y="658.6" class="b" font-size="27.5" text-anchor="end">2</text>
<text x="83.5" y="742.5" class="b" font-size="27.5" text-anchor="end">1</text>
<text x="83.5" y="826.5" class="b" font-size="27.5" text-anchor="end">0</text>
<text x="83.5" y="910.5" class="b" font-size="27.5" text-anchor="end">-1</text>
<text x="83.5" y="994.4" class="b" font-size="27.5" text-anchor="end">-2</text>
<text transform="translate(42.7,810) rotate(-90)" class="b" font-size="38.4" text-anchor="middle">Free energy (eV)</text>
<text x="936" y="1077.5" class="b" font-size="38.2" text-anchor="middle">Reaction coordinate</text>
<text x="0.6" y="630.7" class="b" font-size="76.5">d</text>
<text x="148.7" y="851.0" font-size="27.0" text-anchor="start" style="fill:#000">CO<tspan font-size="17" dy="6">2</tspan><tspan dy="-6" font-size="27"> (g)</tspan></text>
<text x="326.0" y="892.8" font-size="27.0" text-anchor="start" style="fill:#000">*CO<tspan font-size="17" dy="6">2</tspan><tspan dy="-6" font-size="27"></tspan></text>
<text x="493.4" y="790.5" font-size="27.0" text-anchor="start" style="fill:#000">HCOO*</text>
<text x="477.0" y="866.9" font-size="27.0" text-anchor="start" style="fill:#000">*COOH</text>
<text x="638.3" y="781.6" font-size="27.0" text-anchor="start" style="fill:#000">HCOOH</text>
<text x="664.1" y="895.7" font-size="27.0" text-anchor="start" style="fill:#000">*CO</text>
<text x="828.2" y="819.7" font-size="27.0" text-anchor="start" style="fill:#000">*COH</text>
<text x="777.8" y="905.1" font-size="27.0" text-anchor="start" style="fill:#000">*CO +*CO</text>
<text x="982.0" y="888.2" font-size="27.0" text-anchor="start" style="fill:#000">*COCO</text>
<text x="814.9" y="1009.5" font-size="27.0" text-anchor="start" style="fill:#000">*CHO</text>
<text x="958.0" y="983.3" font-size="27.0" text-anchor="start" style="fill:#000">*CHO +*CO</text>
<text x="1178.2" y="655.8" font-size="27.0" text-anchor="start" style="fill:#000">*COCOH</text>
<text x="1136.3" y="947.1" font-size="27.0" text-anchor="start" style="fill:#000">*CHOCO</text>
<text x="1301.3" y="807.7" font-size="27.0" text-anchor="start" style="fill:#000">*CH<tspan font-size="17" dy="6">2</tspan><tspan dy="-6" font-size="27">OCO</tspan></text>
<text x="1492.7" y="831.9" font-size="27.0" text-anchor="start" style="fill:#000">*CH<tspan font-size="17" dy="6">2</tspan><tspan dy="-6" font-size="27">OCOH</tspan></text>
<text x="1663.3" y="799.7" font-size="27.0" text-anchor="start" style="fill:#000">CH<tspan font-size="17" dy="6">3</tspan><tspan dy="-6" font-size="27">COOH</tspan></text>
<text x="1183.8" y="745.5" font-size="27.0" text-anchor="start" style="fill:#3f8fd2">2.69 eV</text>
<text x="1358.6" y="903.7" font-size="27.0" text-anchor="start" style="fill:#de7b63">1.63 eV</text>
<text transform="translate(437.3,823.1) rotate(-37.0)" font-size="27" text-anchor="middle" y="9.5"><tspan font-weight="bold">+</tspan> H<tspan font-size="16" dy="-10" font-weight="bold">+</tspan><tspan dy="10"> <tspan font-weight="bold">+</tspan> e</tspan><tspan font-size="16" dy="-10">−</tspan></text>
<text transform="translate(608.7,824.2) rotate(-12.0)" font-size="27" text-anchor="middle" y="9.5"><tspan font-weight="bold">+</tspan> H<tspan font-size="16" dy="-10" font-weight="bold">+</tspan><tspan dy="10"> <tspan font-weight="bold">+</tspan> e</tspan><tspan font-size="16" dy="-10">−</tspan></text>
<text transform="translate(763.9,832.1) rotate(-24.6)" font-size="27" text-anchor="middle" y="9.5"><tspan font-weight="bold">+</tspan> H<tspan font-size="16" dy="-10" font-weight="bold">+</tspan><tspan dy="10"> <tspan font-weight="bold">+</tspan> e</tspan><tspan font-size="16" dy="-10">−</tspan></text>
<text transform="translate(1086.8,748.5) rotate(-68.0)" font-size="27" text-anchor="middle" y="9.5"><tspan font-weight="bold">+</tspan> H<tspan font-size="16" dy="-10" font-weight="bold">+</tspan><tspan dy="10"> <tspan font-weight="bold">+</tspan> e</tspan><tspan font-size="16" dy="-10">−</tspan></text>
<text transform="translate(1270.9,867.9) rotate(-60.6)" font-size="27" text-anchor="middle" y="9.5"><tspan font-weight="bold">+</tspan> H<tspan font-size="16" dy="-10" font-weight="bold">+</tspan><tspan dy="10"> <tspan font-weight="bold">+</tspan> e</tspan><tspan font-size="16" dy="-10">−</tspan></text>
<text transform="translate(1487.3,772.5) rotate(-24.4)" font-size="27" text-anchor="middle" y="9.5"><tspan font-weight="bold">+</tspan> H<tspan font-size="16" dy="-10" font-weight="bold">+</tspan><tspan dy="10"> <tspan font-weight="bold">+</tspan> e</tspan><tspan font-size="16" dy="-10">−</tspan></text>
<text transform="translate(1613.8,754.5) rotate(-28.1)" font-size="27" text-anchor="middle" y="9.5"><tspan font-weight="bold">+</tspan> H<tspan font-size="16" dy="-10" font-weight="bold">+</tspan><tspan dy="10"> <tspan font-weight="bold">+</tspan> e</tspan><tspan font-size="16" dy="-10">−</tspan></text>
<text transform="translate(915.9,948.9) rotate(-25.4)" font-size="27" text-anchor="middle" y="9.5"><tspan font-weight="bold">+</tspan> *CO</text>
<path d="M1167.3 659.5V843.5M1161.8 670.5l5.5 -11.0l5.5 11.0M1161.8 832.5l5.5 11.0l5.5 -11.0" stroke="#5b9bd5" stroke-width="2.2" fill="none" stroke-linecap="round" stroke-linejoin="round"/>
<path d="M1332.5 849.6V941.0M1327.0 860.6l5.5 -11.0l5.5 11.0M1327.0 930.0l5.5 11.0l5.5 -11.0" stroke="#de7b63" stroke-width="2.2" fill="none" stroke-linecap="round" stroke-linejoin="round"/>
</g>
<g id="pe">
<defs>
<linearGradient id="bgc" x1="0" y1="0" x2="0" y2="1"><stop offset="0" stop-color="#f5f6f6"/><stop offset="0.45" stop-color="#eff1f9"/><stop offset="1" stop-color="#eff2fa"/></linearGradient>
<linearGradient id="barmix" x1="0" y1="0" x2="0" y2="1"><stop offset="0" stop-color="#f2e45c"/><stop offset="0.25" stop-color="#e4e064"/><stop offset="0.55" stop-color="#7cc8a4"/><stop offset="0.85" stop-color="#3cb9d2"/><stop offset="1" stop-color="#3fbde0"/></linearGradient>
<linearGradient id="coneB" x1="0" y1="0" x2="1" y2="0"><stop offset="0" stop-color="#8ad6f0"/><stop offset="0.5" stop-color="#45c0ea"/><stop offset="1" stop-color="#7fd2ef"/></linearGradient>
<linearGradient id="coneM" x1="0" y1="0" x2="1" y2="0"><stop offset="0" stop-color="#e9efb4"/><stop offset="0.14" stop-color="#cfe9c0"/><stop offset="0.3" stop-color="#7fd8e0"/><stop offset="0.5" stop-color="#55d0e4"/><stop offset="0.7" stop-color="#7fd8e0"/><stop offset="0.86" stop-color="#cfe9c0"/><stop offset="1" stop-color="#e9efb4"/></linearGradient>
<linearGradient id="coneY" x1="0" y1="0" x2="1" y2="0"><stop offset="0" stop-color="#cde2bc"/><stop offset="0.3" stop-color="#e6e888"/><stop offset="0.5" stop-color="#f6ea4c"/><stop offset="0.7" stop-color="#e6e888"/><stop offset="1" stop-color="#cde2bc"/></linearGradient>
<linearGradient id="slab" x1="0" y1="0" x2="0" y2="1"><stop offset="0" stop-color="#aebfc8"/><stop offset="0.62" stop-color="#b4c4cc"/><stop offset="0.68" stop-color="#bccbd2"/><stop offset="0.74" stop-color="#aabbc4"/><stop offset="1" stop-color="#a6b7c0"/></linearGradient>
</defs>
<path d="M138.5 1604.9L470.0 1608.4Q476.0 1608.4 476.0 1614.4L476.0 1668.8Q476.0 1674.8 470.0 1674.8L138.5 1671.0Q132.5 1671.0 132.5 1665.0L132.5 1610.9Q132.5 1604.9 138.5 1604.9Z" fill="url(#slab)"/>
<path d="M179.9 1551.7L163.2 1632.0A16.7 7 0 0 0 196.6 1632.0Z" fill="url(#coneB)"/><path d="M241.0 1553.2L224.3 1632.0A16.7 7 0 0 0 257.7 1632.0Z" fill="url(#coneB)"/><path d="M302.9 1552.1L286.2 1632.0A16.7 7 0 0 0 319.6 1632.0Z" fill="url(#coneB)"/><path d="M364.9 1553.8L348.2 1632.0A16.7 7 0 0 0 381.6 1632.0Z" fill="url(#coneB)"/><path d="M426.6 1553.2L409.9 1632.0A16.7 7 0 0 0 443.3 1632.0Z" fill="url(#coneB)"/>
<path d="M768.5 1606.4L1104.8 1610.0Q1110.8 1610.0 1110.8 1616.0L1110.8 1670.9Q1110.8 1676.9 1104.8 1676.9L768.5 1672.7Q762.5 1672.7 762.5 1666.7L762.5 1612.4Q762.5 1606.4 768.5 1606.4Z" fill="url(#slab)"/>
<path d="M810.9 1552.1L793.2 1634.5A17.7 7 0 0 0 828.6 1634.5Z" fill="url(#coneM)"/><path d="M873.1 1553.2L855.4 1634.5A17.7 7 0 0 0 890.8 1634.5Z" fill="url(#coneM)"/><path d="M935.4 1552.1L917.7 1634.5A17.7 7 0 0 0 953.1 1634.5Z" fill="url(#coneM)"/><path d="M998.2 1553.2L980.5 1634.5A17.7 7 0 0 0 1015.9 1634.5Z" fill="url(#coneM)"/><path d="M1060.8 1554.6L1043.1 1634.5A17.7 7 0 0 0 1078.5 1634.5Z" fill="url(#coneM)"/>
<path d="M1416.4 1608.4L1738.5 1612.6Q1744.5 1612.6 1744.5 1618.6L1744.5 1670.9Q1744.5 1676.9 1738.5 1676.9L1416.4 1672.7Q1410.4 1672.7 1410.4 1666.7L1410.4 1614.4Q1410.4 1608.4 1416.4 1608.4Z" fill="url(#slab)"/>
<path d="M1456.3 1557.4L1439.6 1636.5A16.7 7 0 0 0 1473.0 1636.5Z" fill="url(#coneY)"/><path d="M1515.1 1558.4L1498.4 1636.5A16.7 7 0 0 0 1531.8 1636.5Z" fill="url(#coneY)"/><path d="M1575.2 1557.4L1558.5 1636.5A16.7 7 0 0 0 1591.9 1636.5Z" fill="url(#coneY)"/><path d="M1635.7 1558.4L1619.0 1636.5A16.7 7 0 0 0 1652.4 1636.5Z" fill="url(#coneY)"/><path d="M1695.5 1558.4L1678.8 1636.5A16.7 7 0 0 0 1712.2 1636.5Z" fill="url(#coneY)"/>
<path d="M178.4 1470.8L291.4 1612.6M422 1477L316.5 1612.6" stroke="#c00000" stroke-width="4.4" fill="none" stroke-linecap="round"/>
<circle cx="304" cy="1600.5" r="14.2" fill="none" stroke="#c00000" stroke-width="4.2"/>
<path d="M785 1508.5L923.5 1619.9M1099 1508.5L946.5 1619.9" stroke="#c00000" stroke-width="4.4" fill="none" stroke-linecap="round"/>
<circle cx="935" cy="1607.4" r="14.2" fill="none" stroke="#c00000" stroke-width="4.2"/>
<path d="M1447.8 1470.6L1562.1 1612.6M1692.8 1477.9L1587.1 1612.6" stroke="#c00000" stroke-width="4.4" fill="none" stroke-linecap="round"/>
<circle cx="1574.2" cy="1600.5" r="14.2" fill="none" stroke="#c00000" stroke-width="4.2"/>
<ellipse cx="305.3" cy="1313.2" rx="202" ry="200.8" fill="url(#bgc)" stroke="#222" stroke-width="4"/>
<rect x="151.4" y="1388.7" width="308.4" height="33.4" fill="#88c0d5" stroke="#3a3a3a" stroke-width="4"/>
<rect x="166.6" y="1374.9" width="10.1" height="12.1" fill="#cfcfcf" stroke="#2b3b6b" stroke-width="0.7"/>
<rect x="230.6" y="1374.9" width="9.8" height="12.1" fill="#cfcfcf" stroke="#2b3b6b" stroke-width="0.7"/>
<circle cx="219.8" cy="1186.5" r="20.7" fill="#74111f" stroke="#4d0b15" stroke-width="0.8"/><circle cx="222.0" cy="1184.9" r="17.8" fill="#c21f32"/><ellipse cx="228.1" cy="1180.3" rx="2.9" ry="2.5" fill="#fff"/>
<circle cx="244.9" cy="1214.6" r="23.9" fill="#000"/><ellipse cx="254.6" cy="1208.5" rx="3.1" ry="2.6" fill="#fff"/>
<circle cx="270.5" cy="1243.8" r="20.7" fill="#74111f" stroke="#4d0b15" stroke-width="0.8"/><circle cx="272.8" cy="1242.4" r="17.8" fill="#c21f32"/><ellipse cx="279.4" cy="1238.6" rx="2.9" ry="2.5" fill="#fff"/>
<circle cx="206.0" cy="1294.9" r="12.3" fill="#8c8c8c" stroke="#6a6a6a" stroke-width="0.7"/><circle cx="205.3" cy="1293.8" r="10.7" fill="#dadada"/><ellipse cx="203.1" cy="1290.2" rx="2.5" ry="2.1" fill="#fff"/>
<circle cx="206.7" cy="1326.9" r="23.4" fill="#000"/><ellipse cx="199.7" cy="1318.1" rx="3.0" ry="2.6" fill="#fff"/>
<circle cx="175.4" cy="1352.7" r="20.7" fill="#74111f" stroke="#4d0b15" stroke-width="0.8"/><circle cx="173.7" cy="1350.6" r="17.8" fill="#c21f32"/><ellipse cx="168.9" cy="1344.6" rx="2.9" ry="2.5" fill="#fff"/>
<circle cx="236.7" cy="1351.5" r="20.7" fill="#74111f" stroke="#4d0b15" stroke-width="0.8"/><circle cx="235.0" cy="1349.4" r="17.8" fill="#c21f32"/><ellipse cx="230.2" cy="1343.4" rx="2.9" ry="2.5" fill="#fff"/>
<circle cx="436.7" cy="1298.6" r="20.7" fill="#74111f" stroke="#4d0b15" stroke-width="0.8"/><circle cx="436.1" cy="1296.0" r="17.8" fill="#c21f32"/><ellipse cx="434.5" cy="1288.5" rx="2.9" ry="2.5" fill="#fff"/><path d="M430.0 1297.6h17.4" stroke="#000" stroke-width="2.6"/>
<circle cx="382.1" cy="1344.6" r="20.7" fill="#74111f" stroke="#4d0b15" stroke-width="0.8"/><circle cx="381.0" cy="1342.2" r="17.8" fill="#c21f32"/><ellipse cx="377.7" cy="1335.2" rx="2.9" ry="2.5" fill="#fff"/>
<circle cx="420.7" cy="1333.1" r="23.4" fill="#000"/><ellipse cx="415.9" cy="1322.9" rx="3.0" ry="2.6" fill="#fff"/>
<circle cx="437.2" cy="1362.6" r="12.3" fill="#8c8c8c" stroke="#6a6a6a" stroke-width="0.7"/><circle cx="436.6" cy="1361.4" r="10.7" fill="#dadada"/><ellipse cx="434.7" cy="1357.6" rx="2.5" ry="2.1" fill="#fff"/>
<path d="M181.5 1249.9C179.9 1251.9 174.1 1257.4 171.8 1262.1C169.5 1266.8 168.0 1272.5 167.6 1277.9C167.2 1283.4 168.9 1291.6 169.3 1295.0C169.8 1298.4 170.1 1297.7 170.2 1298.2" fill="none" stroke="#000" stroke-width="7.0" stroke-linecap="round"/><path d="M173.5 1309.6L157.9 1294.3L169.6 1296.2L178.4 1287.7Z" fill="#000"/>
<path d="M287.9 1340.4C290.5 1339.6 298.3 1336.6 303.9 1335.5C309.4 1334.4 316.6 1334.0 321.1 1333.8C325.6 1333.6 328.6 1334.0 330.9 1334.3C333.2 1334.6 334.4 1335.5 335.1 1335.7" fill="none" stroke="#000" stroke-width="6.5" stroke-linecap="round"/><path d="M346.9 1339.2L330.9 1323.9L333.0 1335.1L324.3 1343.1Z" fill="#000"/>
<text x="150.6" y="1230.4" font-size="32.3">CO<tspan font-size="20" dy="7">2</tspan></text>
<text x="361.5" y="1258.5" font-size="32.3">HCOO<tspan font-size="20" dy="-13">−</tspan></text>
<rect x="590.4" y="1107.4" width="712.7" height="402.4" rx="147" ry="147" fill="url(#bgc)" stroke="#222" stroke-width="4.4"/>
<rect x="638.1" y="1389.2" width="613.2" height="33.4" fill="url(#barmix)" stroke="#3a3a3a" stroke-width="4"/>
<rect x="671.2" y="1377.7" width="9.8" height="9.8" fill="#cfcfcf" stroke="#2b3b6b" stroke-width="0.7"/>
<rect x="791.6" y="1377.7" width="9.8" height="9.8" fill="#cfcfcf" stroke="#2b3b6b" stroke-width="0.7"/>
<path d="M836 1375.5l7.5 0l-3.5 12l-7.5 0zM852.5 1375.5l7.5 0l4 12l-7.5 0z" fill="#cfcfcf" stroke="#2b3b6b" stroke-width="0.7"/>
<rect x="950.2" y="1381.0" width="10.2" height="6.5" fill="#cfcfcf" stroke="#2b3b6b" stroke-width="0.7"/>
<rect x="1010.4" y="1379.0" width="11.2" height="8.5" fill="#cfcfcf" stroke="#2b3b6b" stroke-width="0.7"/>
<circle cx="717.1" cy="1178.3" r="20.4" fill="#74111f" stroke="#4d0b15" stroke-width="0.8"/><circle cx="719.2" cy="1176.7" r="17.5" fill="#c21f32"/><ellipse cx="725.3" cy="1172.2" rx="2.9" ry="2.4" fill="#fff"/>
<circle cx="742.7" cy="1206.2" r="23.9" fill="#000"/><ellipse cx="752.6" cy="1200.4" rx="3.1" ry="2.6" fill="#fff"/>
<circle cx="767.8" cy="1235.8" r="20.4" fill="#74111f" stroke="#4d0b15" stroke-width="0.8"/><circle cx="770.1" cy="1234.5" r="17.5" fill="#c21f32"/><ellipse cx="776.6" cy="1230.6" rx="2.9" ry="2.4" fill="#fff"/>
<circle cx="676.3" cy="1351.7" r="24.0" fill="#000"/><ellipse cx="668.2" cy="1343.6" rx="3.1" ry="2.6" fill="#fff"/>
<circle cx="650.8" cy="1323.2" r="20.4" fill="#74111f" stroke="#4d0b15" stroke-width="0.8"/><circle cx="648.9" cy="1321.3" r="17.5" fill="#c21f32"/><ellipse cx="643.6" cy="1316.0" rx="2.9" ry="2.4" fill="#fff"/>
<circle cx="703.1" cy="1323.6" r="20.4" fill="#74111f" stroke="#4d0b15" stroke-width="0.8"/><circle cx="701.2" cy="1321.7" r="17.5" fill="#c21f32"/><ellipse cx="695.9" cy="1316.4" rx="2.9" ry="2.4" fill="#fff"/>
<circle cx="646.3" cy="1291.9" r="12.2" fill="#8c8c8c" stroke="#6a6a6a" stroke-width="0.7"/><circle cx="645.3" cy="1291.0" r="10.6" fill="#dadada"/><ellipse cx="642.1" cy="1288.3" rx="2.4" ry="2.1" fill="#fff"/>
<circle cx="796.3" cy="1312.3" r="20.8" fill="#74111f" stroke="#4d0b15" stroke-width="0.8"/><circle cx="794.1" cy="1310.7" r="17.9" fill="#c21f32"/><ellipse cx="788.0" cy="1306.1" rx="2.9" ry="2.5" fill="#fff"/>
<circle cx="795.9" cy="1355.2" r="24.5" fill="#000"/><ellipse cx="787.9" cy="1346.6" rx="3.2" ry="2.7" fill="#fff"/>
<circle cx="846.9" cy="1312.3" r="20.8" fill="#74111f" stroke="#4d0b15" stroke-width="0.8"/><circle cx="844.7" cy="1310.7" r="17.9" fill="#c21f32"/><ellipse cx="838.6" cy="1306.1" rx="2.9" ry="2.5" fill="#fff"/>
<circle cx="846.9" cy="1355.2" r="24.5" fill="#000"/><ellipse cx="838.9" cy="1346.6" rx="3.2" ry="2.7" fill="#fff"/>
<circle cx="954.3" cy="1315.4" r="20.8" fill="#74111f" stroke="#4d0b15" stroke-width="0.8"/><circle cx="952.7" cy="1313.2" r="17.9" fill="#c21f32"/><ellipse cx="948.1" cy="1307.1" rx="2.9" ry="2.5" fill="#fff"/>
<circle cx="955.3" cy="1357.2" r="24.5" fill="#000"/><ellipse cx="948.2" cy="1347.8" rx="3.2" ry="2.7" fill="#fff"/>
<circle cx="1004.9" cy="1323.2" r="12.6" fill="#8c8c8c" stroke="#6a6a6a" stroke-width="0.7"/><circle cx="1006.3" cy="1323.4" r="11.0" fill="#dadada"/><ellipse cx="1010.5" cy="1323.8" rx="2.5" ry="2.1" fill="#fff"/>
<circle cx="1053.9" cy="1341.9" r="20.8" fill="#74111f" stroke="#4d0b15" stroke-width="0.8"/><circle cx="1056.2" cy="1343.3" r="17.9" fill="#c21f32"/><ellipse cx="1062.9" cy="1347.2" rx="2.9" ry="2.5" fill="#fff"/>
<circle cx="1014.5" cy="1355.2" r="24.5" fill="#000"/><ellipse cx="1025.5" cy="1359.5" rx="3.2" ry="2.7" fill="#fff"/>
<circle cx="1177.8" cy="1241.9" r="13.3" fill="#8c8c8c" stroke="#6a6a6a" stroke-width="0.7"/><circle cx="1177.0" cy="1240.7" r="11.6" fill="#dadada"/><ellipse cx="1174.6" cy="1236.8" rx="2.7" ry="2.3" fill="#fff"/>
<circle cx="1139.6" cy="1253.2" r="13.3" fill="#8c8c8c" stroke="#6a6a6a" stroke-width="0.7"/><circle cx="1138.8" cy="1252.0" r="11.6" fill="#dadada"/><ellipse cx="1136.4" cy="1248.1" rx="2.7" ry="2.3" fill="#fff"/>
<circle cx="1142.0" cy="1298.1" r="13.3" fill="#8c8c8c" stroke="#6a6a6a" stroke-width="0.7"/><circle cx="1141.2" cy="1296.9" r="11.6" fill="#dadada"/><ellipse cx="1138.8" cy="1293.0" rx="2.7" ry="2.3" fill="#fff"/>
<circle cx="1251.2" cy="1262.3" r="22.9" fill="#74111f" stroke="#4d0b15" stroke-width="0.8"/><circle cx="1250.0" cy="1259.6" r="19.7" fill="#c21f32"/><ellipse cx="1246.5" cy="1251.8" rx="3.2" ry="2.7" fill="#fff"/><path d="M1243.6 1261.3h19.2" stroke="#000" stroke-width="2.6"/>
<circle cx="1212.4" cy="1286.8" r="25.5" fill="#000"/><ellipse cx="1206.9" cy="1275.9" rx="3.3" ry="2.8" fill="#fff"/>
<circle cx="1169.6" cy="1272.6" r="25.5" fill="#000"/><ellipse cx="1164.1" cy="1261.7" rx="3.3" ry="2.8" fill="#fff"/>
<circle cx="1227.8" cy="1327.7" r="22.9" fill="#74111f" stroke="#4d0b15" stroke-width="0.8"/><circle cx="1226.3" cy="1325.1" r="19.7" fill="#c21f32"/><ellipse cx="1222.0" cy="1317.8" rx="3.2" ry="2.7" fill="#fff"/>
<path d="M705.5 1241.9C703.8 1244.0 698.0 1249.8 695.3 1254.2C692.6 1258.6 690.5 1264.7 689.2 1268.5C687.8 1272.2 687.5 1275.3 687.1 1276.6C686.8 1277.9 687.0 1276.3 687.0 1276.2" fill="none" stroke="#000" stroke-width="7.0" stroke-linecap="round"/><path d="M685.1 1287.2L677.6 1268.9L687.3 1274.2L698.8 1269.5Z" fill="#000"/>
<path d="M726.9 1346.0C728.6 1345.4 733.7 1343.4 737.1 1342.3C740.5 1341.3 744.8 1340.2 747.3 1339.5C749.9 1338.8 751.2 1338.5 752.4 1338.3C753.7 1338.0 754.2 1338.0 754.6 1337.9" fill="none" stroke="#000" stroke-width="7.0" stroke-linecap="round"/><path d="M766.7 1338.9L747.3 1327.2L752.4 1337.8L746.3 1347.4Z" fill="#000"/>
<path d="M883.1 1338.5C887.3 1338.5 903.4 1338.5 908.6 1338.5C913.7 1338.5 912.9 1338.5 913.8 1338.5" fill="none" stroke="#000" stroke-width="7.5" stroke-linecap="round"/><path d="M925.9 1338.5L906.1 1328.3L911.7 1338.5L906.1 1348.7Z" fill="#000"/>
<path d="M1089.0 1344.0C1091.0 1343.5 1097.1 1342.3 1101.2 1340.9C1105.3 1339.6 1110.2 1337.3 1113.5 1335.8C1116.7 1334.3 1119.0 1332.5 1120.6 1331.7C1122.2 1331.0 1122.6 1331.4 1123.0 1331.3" fill="none" stroke="#000" stroke-width="7.0" stroke-linecap="round"/><path d="M1130.8 1322.6L1112.4 1329.3L1121.6 1332.8L1123.7 1344.4Z" fill="#000"/>
<text x="645.3" y="1226.6" font-size="32.3">CO<tspan font-size="20" dy="7">2</tspan></text>
<text x="916.7" y="1247" font-size="32">asymmetric</text>
<text x="916.7" y="1283.8" font-size="32">C-C coupling</text>
<text x="1126.7" y="1209.3" font-size="32">CH<tspan font-size="20" dy="7">3</tspan><tspan dy="-7">COO</tspan><tspan font-size="20" dy="-13">−</tspan></text>
<ellipse cx="1574.9" cy="1313" rx="202" ry="200.8" fill="url(#bgc)" stroke="#222" stroke-width="4"/>
<rect x="1425.4" y="1389.7" width="308.8" height="33.8" fill="#ebe264" stroke="#444" stroke-width="4"/>
<circle cx="1527.7" cy="1176.8" r="20.8" fill="#74111f" stroke="#4d0b15" stroke-width="0.8"/><circle cx="1530.0" cy="1175.4" r="17.9" fill="#c21f32"/><ellipse cx="1536.7" cy="1171.5" rx="2.9" ry="2.5" fill="#fff"/>
<circle cx="1552.6" cy="1204.8" r="23.9" fill="#000"/><ellipse cx="1562.5" cy="1199.0" rx="3.1" ry="2.6" fill="#fff"/>
<circle cx="1577.7" cy="1235.3" r="20.8" fill="#74111f" stroke="#4d0b15" stroke-width="0.8"/><circle cx="1580.0" cy="1233.9" r="17.9" fill="#c21f32"/><ellipse cx="1586.7" cy="1230.0" rx="2.9" ry="2.5" fill="#fff"/>
<path d="M1522.8 1233.6C1521.7 1239.8 1517.6 1258.4 1516.0 1270.6C1514.5 1282.9 1512.8 1295.0 1513.6 1307.2C1514.4 1319.4 1517.2 1335.2 1520.9 1343.8C1524.5 1352.3 1529.8 1355.5 1535.5 1358.4C1541.2 1361.2 1547.7 1362.0 1555.0 1360.8C1562.3 1359.6 1571.3 1355.5 1579.4 1351.1C1587.5 1346.6 1596.9 1339.1 1603.8 1334.0C1610.7 1328.9 1616.9 1323.3 1620.8 1320.6C1624.8 1317.9 1626.4 1318.3 1627.6 1317.8" fill="none" stroke="#000" stroke-width="6.2" stroke-linecap="round"/><path d="M1636.7 1309.6L1614.0 1315.0L1626.0 1319.3L1629.6 1331.1Z" fill="#000"/>
<path d="M1524.5 1313.3L1579.4 1371.8M1579.4 1313.3L1524.5 1371.8" stroke="#c00000" stroke-width="10"/>
<circle cx="1684.2" cy="1320.6" r="12.2" fill="#8c8c8c" stroke="#6a6a6a" stroke-width="0.7"/><circle cx="1683.6" cy="1319.4" r="10.6" fill="#dadada"/><ellipse cx="1681.7" cy="1315.7" rx="2.4" ry="2.1" fill="#fff"/>
<circle cx="1700.1" cy="1336.5" r="12.2" fill="#8c8c8c" stroke="#6a6a6a" stroke-width="0.7"/><circle cx="1699.5" cy="1335.3" r="10.6" fill="#dadada"/><ellipse cx="1697.6" cy="1331.6" rx="2.4" ry="2.1" fill="#fff"/>
<text x="1459.5" y="1226.8" font-size="32.3">CO<tspan font-size="20" dy="7">2</tspan></text>
<text x="1715.9" y="1319.4" font-size="32.3">H<tspan font-size="20" dy="7">2</tspan></text>
<circle cx="1064.1" cy="1737.7" r="22.7" fill="#000"/><ellipse cx="1056.4" cy="1730.0" rx="3.0" ry="2.5" fill="#fff"/>
<circle cx="1179.1" cy="1736.8" r="22.2" fill="#8c8c8c" stroke="#6a6a6a" stroke-width="0.7"/><circle cx="1177.2" cy="1735.2" r="19.3" fill="#dadada"/><ellipse cx="1171.5" cy="1730.3" rx="4.4" ry="3.8" fill="#fff"/><circle cx="1179.1" cy="1736.8" r="22.2" fill="none" stroke="#000" stroke-width="1.6"/>
<circle cx="1299.5" cy="1735.5" r="22.2" fill="#74111f" stroke="#4d0b15" stroke-width="0.8"/><circle cx="1297.3" cy="1733.6" r="19.1" fill="#c21f32"/><ellipse cx="1291.1" cy="1728.3" rx="3.1" ry="2.7" fill="#fff"/><circle cx="1299.5" cy="1735.5" r="22.2" fill="none" stroke="#000" stroke-width="1.6"/>
<text x="1093.5" y="1756" class="b" font-size="45.5">C</text>
<text x="1211.5" y="1756" class="b" font-size="45.5">H</text>
<text x="1335" y="1756" class="b" font-size="45.5">O</text>
<rect x="1441.8" y="1706.8" width="55.5" height="56" fill="#4dd0fc"/>
<rect x="1655.5" y="1706.8" width="55.5" height="56" fill="#f2df6a"/>
<text x="1509.5" y="1752.3" class="b" font-size="45.5"><tspan font-style="italic">sp</tspan><tspan font-size="27" dy="-17">3</tspan><tspan dy="17">-C</tspan></text>
<text x="1725" y="1752.3" class="b" font-size="45.5" font-style="italic">sp<tspan font-size="27" dy="-17">2</tspan><tspan dy="17">-C</tspan></text>
<text x="5" y="1175.2" class="b" font-size="77.4">e</text>
</g>
</svg>
</body></html>
